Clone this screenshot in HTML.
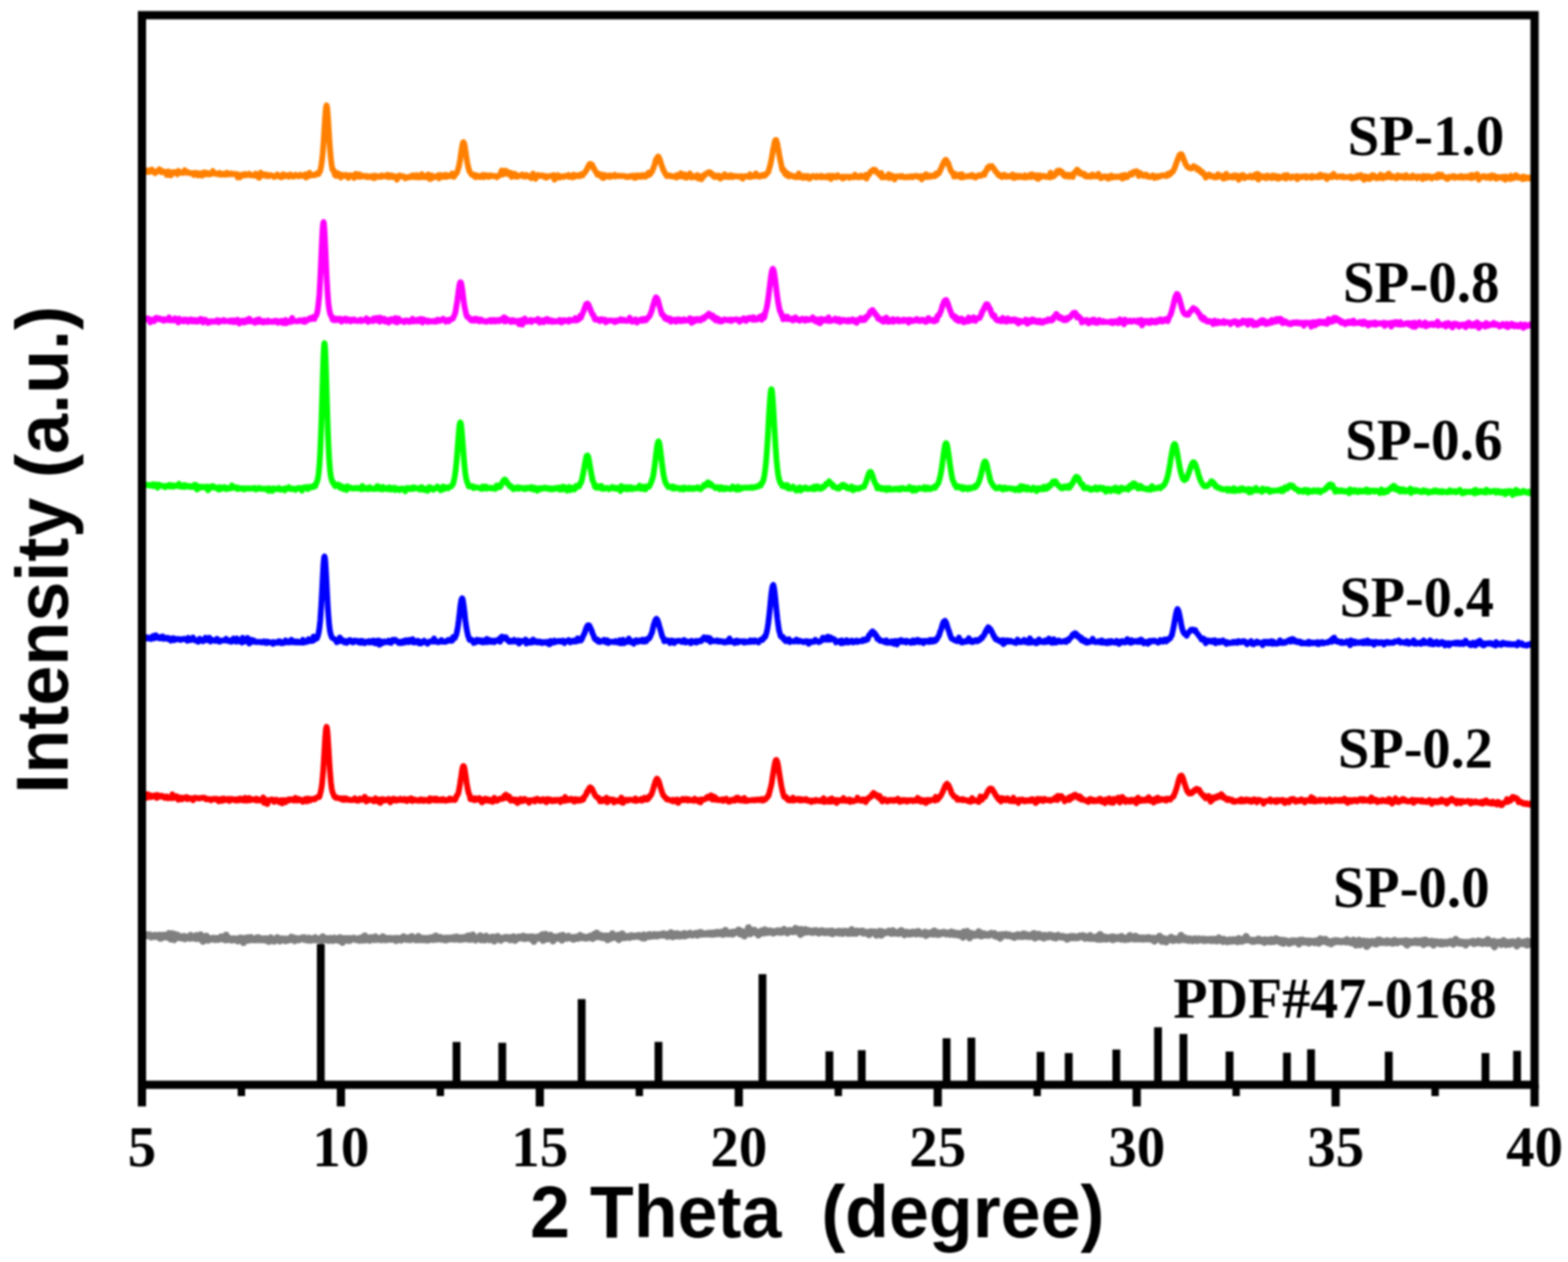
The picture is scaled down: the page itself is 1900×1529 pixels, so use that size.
<!DOCTYPE html>
<html><head><meta charset="utf-8"><title>XRD patterns</title>
<style>html,body{margin:0;padding:0;background:#fff;width:1900px;height:1529px;overflow:hidden}svg{display:block}#w{filter:blur(1px)}</style>
</head><body><div id="w">
<svg width="1900" height="1529" viewBox="0 0 1900 1529">
<rect width="1900" height="1529" fill="#fff"/>
<polyline fill="none" stroke="#ff8000" stroke-width="7" stroke-linejoin="round" stroke-linecap="round" points="174.0,206.3 175.0,207.6 176.0,206.3 177.0,207.3 178.0,208.2 179.0,206.4 180.0,208.3 181.0,206.8 182.0,206.3 183.0,207.9 184.0,205.3 185.0,207.4 186.0,207.2 187.0,208.7 188.0,209.9 189.0,207.9 190.0,208.1 191.0,207.8 192.0,207.7 193.0,205.1 194.0,206.5 195.0,206.3 196.0,208.8 197.0,208.4 198.0,207.7 199.0,208.0 200.0,208.2 201.0,208.4 202.0,212.0 203.0,209.3 204.0,207.6 205.0,208.1 206.0,212.4 207.0,212.5 208.0,209.1 209.0,208.7 210.0,208.5 211.0,208.6 212.0,209.8 213.0,208.8 214.0,209.3 215.0,211.2 216.0,207.0 217.0,209.5 218.0,209.3 219.0,208.7 220.0,209.3 221.0,208.6 222.0,209.6 223.0,209.0 224.0,206.2 225.0,208.8 226.0,209.3 227.0,208.6 228.0,208.4 229.0,209.5 230.0,210.1 231.0,210.1 232.0,210.0 233.0,209.8 234.0,210.4 235.0,212.1 236.0,209.3 237.0,209.6 238.0,210.9 239.0,209.7 240.0,212.7 241.0,210.1 242.0,211.0 243.0,210.1 244.0,211.5 245.0,212.8 246.0,210.0 247.0,208.9 248.0,209.5 249.0,211.2 250.0,209.1 251.0,211.0 252.0,209.8 253.0,209.9 254.0,211.4 255.0,211.0 256.0,210.4 257.0,209.8 258.0,207.2 259.0,209.3 260.0,210.4 261.0,209.8 262.0,210.7 263.0,210.9 264.0,210.9 265.0,211.3 266.0,209.3 267.0,211.5 268.0,211.2 269.0,211.7 270.0,211.5 271.0,210.5 272.0,211.6 273.0,211.8 274.0,210.6 275.0,209.3 276.0,210.6 277.0,211.4 278.0,210.6 279.0,210.6 280.0,210.1 281.0,211.2 282.0,211.1 283.0,210.8 284.0,210.4 285.0,211.0 286.0,211.5 287.0,210.9 288.0,215.0 289.0,211.5 290.0,211.9 291.0,214.9 292.0,212.2 293.0,211.8 294.0,212.6 295.0,211.4 296.0,212.5 297.0,210.8 298.0,212.4 299.0,211.4 300.0,212.0 301.0,211.9 302.0,210.5 303.0,212.0 304.0,212.4 305.0,212.0 306.0,212.4 307.0,211.9 308.0,212.7 309.0,212.5 310.0,210.5 311.0,213.5 312.0,211.7 313.0,212.6 314.0,215.5 315.0,211.7 316.0,209.2 317.0,213.0 318.0,212.1 319.0,211.7 320.0,212.0 321.0,211.3 322.0,213.1 323.0,211.7 324.0,213.1 325.0,212.3 326.0,213.4 327.0,211.9 328.0,212.1 329.0,212.6 330.0,212.9 331.0,212.9 332.0,214.5 333.0,213.4 334.0,213.2 335.0,213.2 336.0,211.3 337.0,213.4 338.0,213.0 339.0,214.0 340.0,214.7 341.0,214.9 342.0,213.4 343.0,211.1 344.0,213.7 345.0,213.1 346.0,212.2 347.0,213.1 348.0,212.2 349.0,212.2 350.0,214.2 351.0,213.2 352.0,211.5 353.0,212.7 354.0,213.3 355.0,214.0 356.0,214.0 357.0,212.5 358.0,211.7 359.0,212.0 360.0,213.1 361.0,213.3 362.0,213.6 363.0,213.4 364.0,211.8 365.0,212.6 366.0,213.0 367.0,212.6 368.0,213.2 369.0,212.2 370.0,211.2 371.0,215.1 372.0,212.5 373.0,212.7 374.0,213.3 375.0,209.2 376.0,212.5 377.0,212.3 378.0,212.6 379.0,212.3 380.0,211.7 381.0,212.2 382.0,212.1 383.0,211.4 384.0,209.7 385.0,209.7 386.0,210.8 387.0,209.1 388.0,206.9 389.0,202.5 390.0,196.1 391.0,186.4 391.7,177.7 392.0,173.7 392.2,170.6 392.7,162.5 393.0,157.8 393.2,154.8 393.7,146.4 394.0,141.8 394.2,139.0 394.7,133.1 395.0,130.4 395.2,129.1 395.7,127.7 396.0,128.1 396.2,128.9 396.7,133.2 397.0,136.5 397.2,139.0 397.7,146.2 398.0,151.1 398.2,154.6 398.7,162.5 399.0,167.7 399.2,170.6 399.7,177.8 400.0,182.0 401.0,192.9 402.0,200.9 403.0,205.7 404.0,205.8 405.0,208.9 406.0,212.3 407.0,213.1 408.0,209.8 409.0,209.5 410.0,212.2 411.0,213.2 412.0,211.8 413.0,215.1 414.0,211.5 415.0,213.5 416.0,213.0 417.0,212.4 418.0,212.1 419.0,211.8 420.0,213.7 421.0,214.3 422.0,215.5 423.0,212.6 424.0,212.7 425.0,212.3 426.0,212.8 427.0,213.5 428.0,213.8 429.0,215.5 430.0,211.5 431.0,210.7 432.0,213.3 433.0,212.8 434.0,214.1 435.0,211.1 436.0,212.0 437.0,214.2 438.0,212.4 439.0,213.2 440.0,213.8 441.0,213.0 442.0,213.2 443.0,214.0 444.0,214.6 445.0,213.1 446.0,214.5 447.0,214.0 448.0,214.7 449.0,213.5 450.0,213.4 451.0,213.4 452.0,213.1 453.0,216.0 454.0,212.9 455.0,215.3 456.0,213.1 457.0,213.5 458.0,214.3 459.0,214.2 460.0,213.4 461.0,213.2 462.0,214.3 463.0,212.5 464.0,213.2 465.0,213.3 466.0,213.6 467.0,213.7 468.0,213.9 469.0,211.9 470.0,213.0 471.0,214.7 472.0,212.2 473.0,212.6 474.0,214.2 475.0,212.7 476.0,214.4 477.0,213.4 478.0,214.6 479.0,213.6 480.0,214.2 481.0,217.7 482.0,214.3 483.0,214.7 484.0,212.5 485.0,212.7 486.0,213.7 487.0,213.5 488.0,214.1 489.0,213.6 490.0,214.2 491.0,216.1 492.0,215.9 493.0,214.9 494.0,215.3 495.0,214.8 496.0,214.0 497.0,214.1 498.0,214.6 499.0,212.9 500.0,214.0 501.0,212.4 502.0,214.8 503.0,214.8 504.0,213.5 505.0,212.2 506.0,214.9 507.0,215.1 508.0,214.7 509.0,214.7 510.0,214.8 511.0,211.0 512.0,212.4 513.0,214.5 514.0,213.3 515.0,214.3 516.0,213.2 517.0,214.9 518.0,213.0 519.0,211.5 520.0,213.1 521.0,217.0 522.0,212.5 523.0,216.2 524.0,212.9 525.0,214.1 526.0,214.7 527.0,214.4 528.0,213.8 529.0,214.3 530.0,213.4 531.0,212.1 532.0,216.1 533.0,213.5 534.0,212.1 535.0,214.3 536.0,212.5 537.0,214.4 538.0,214.2 539.0,213.0 540.0,211.6 541.0,214.4 542.0,212.7 543.0,212.8 544.0,212.9 545.0,213.5 546.0,213.3 547.0,212.2 548.0,210.1 549.0,212.0 550.0,214.2 551.0,212.2 552.0,211.4 553.0,209.8 554.0,208.5 555.0,205.1 556.0,201.8 557.0,196.5 557.6,193.7 558.0,190.2 558.1,189.9 558.6,186.0 559.0,183.3 559.1,182.5 559.6,179.5 560.0,177.0 560.1,176.6 560.6,174.1 561.0,172.9 561.1,172.6 561.6,172.2 562.0,172.7 562.1,172.7 562.6,174.4 563.0,176.0 563.1,176.4 563.6,179.7 564.0,182.1 564.1,182.6 564.6,186.3 565.0,188.8 565.1,189.7 565.6,192.8 566.0,195.8 567.0,200.9 568.0,204.8 569.0,208.1 570.0,209.0 571.0,211.0 572.0,211.9 573.0,211.9 574.0,213.1 575.0,211.8 576.0,214.7 577.0,213.4 578.0,212.6 579.0,213.2 580.0,214.2 581.0,213.4 582.0,214.5 583.0,213.6 584.0,212.6 585.0,211.9 586.0,214.7 587.0,213.1 588.0,212.3 589.0,213.6 590.0,212.4 591.0,213.1 592.0,214.4 593.0,213.7 594.0,212.2 595.0,212.5 596.0,213.6 597.0,213.4 598.0,213.0 599.0,213.4 600.0,213.2 601.0,213.8 602.0,214.7 603.0,213.7 604.0,213.4 605.0,212.1 606.0,212.3 607.0,209.1 608.0,206.6 608.6,208.5 609.0,211.4 609.1,209.4 609.6,211.4 610.0,209.3 610.1,210.9 610.6,208.2 611.0,208.2 611.1,209.7 611.6,208.4 612.0,207.6 612.1,209.3 612.6,206.7 613.0,206.9 613.1,209.0 613.6,208.6 614.0,208.3 614.1,207.7 614.6,210.2 615.0,209.8 615.1,210.4 615.6,209.6 616.0,211.3 616.1,210.0 616.6,208.9 617.0,211.4 618.0,211.4 619.0,209.4 620.0,214.3 621.0,212.0 622.0,213.5 623.0,213.3 624.0,210.5 625.0,214.0 626.0,213.4 627.0,214.1 628.0,212.8 629.0,212.8 630.0,212.7 631.0,212.3 632.0,213.2 633.0,211.4 634.0,213.0 635.0,213.8 636.0,214.2 637.0,213.5 638.0,211.9 639.0,212.7 640.0,213.3 641.0,214.3 642.0,213.5 643.0,213.6 644.0,215.8 645.0,212.1 646.0,210.3 647.0,212.4 648.0,212.9 649.0,216.6 650.0,213.9 651.0,213.6 652.0,212.0 653.0,212.6 654.0,213.3 655.0,212.8 656.0,212.5 657.0,212.2 658.0,213.6 659.0,214.2 660.0,214.3 661.0,213.3 662.0,215.4 663.0,213.8 664.0,214.0 665.0,213.5 666.0,213.4 667.0,213.3 668.0,212.8 669.0,213.4 670.0,214.2 671.0,212.2 672.0,217.7 673.0,214.6 674.0,213.3 675.0,214.7 676.0,212.2 677.0,213.8 678.0,215.2 679.0,213.7 680.0,214.2 681.0,213.5 682.0,214.2 683.0,214.5 684.0,213.3 685.0,213.1 686.0,213.5 687.0,213.3 688.0,213.4 689.0,211.9 690.0,214.4 691.0,213.0 692.0,213.6 693.0,213.4 694.0,214.8 695.0,211.7 696.0,213.6 697.0,214.0 698.0,212.3 699.0,212.5 700.0,213.0 701.0,213.1 702.0,213.6 703.0,211.7 704.0,212.3 705.0,210.9 706.0,212.6 707.0,210.4 708.0,209.8 709.0,208.8 710.0,207.0 711.0,205.2 711.4,204.8 711.9,203.7 712.0,203.1 712.4,202.4 712.9,201.5 713.0,201.5 713.4,200.8 713.9,199.4 714.0,199.7 714.4,198.7 714.9,198.8 715.0,198.6 715.4,198.6 715.9,198.8 716.0,199.0 716.4,199.0 716.9,199.5 717.0,200.9 717.4,200.4 717.9,200.2 718.0,200.7 718.4,201.8 718.9,202.9 719.0,202.8 719.4,204.2 720.0,204.4 721.0,206.6 722.0,208.3 723.0,209.5 724.0,211.7 725.0,210.3 726.0,212.6 727.0,212.6 728.0,211.3 729.0,214.5 730.0,213.1 731.0,215.8 732.0,211.7 733.0,214.7 734.0,213.3 735.0,213.3 736.0,212.9 737.0,213.6 738.0,212.7 739.0,214.4 740.0,212.7 741.0,213.7 742.0,212.9 743.0,212.8 744.0,213.3 745.0,211.8 746.0,213.9 747.0,213.0 748.0,213.3 749.0,213.2 750.0,212.7 751.0,213.5 752.0,213.2 753.0,212.9 754.0,213.3 755.0,213.0 756.0,213.1 757.0,213.3 758.0,214.4 759.0,214.4 760.0,213.8 761.0,214.5 762.0,214.3 763.0,213.3 764.0,214.0 765.0,213.2 766.0,213.0 767.0,212.8 768.0,214.9 769.0,215.6 770.0,212.8 771.0,214.1 772.0,214.6 773.0,212.5 774.0,214.1 775.0,213.6 776.0,213.4 777.0,214.4 778.0,212.1 779.0,212.6 780.0,213.6 781.0,212.3 782.0,214.1 783.0,211.8 784.0,213.0 785.0,211.9 786.0,209.2 787.0,211.7 788.0,210.7 789.0,209.3 790.0,207.8 791.0,205.5 792.0,202.9 793.0,200.2 793.3,199.5 793.8,196.9 794.0,197.0 794.3,195.1 794.8,193.5 795.0,193.4 795.3,192.8 795.8,192.0 796.0,192.0 796.3,191.2 796.8,190.2 797.0,189.9 797.3,190.5 797.8,189.7 798.0,189.9 798.3,191.1 798.8,191.4 799.0,192.3 799.3,192.7 799.8,194.0 800.0,194.7 800.3,195.7 800.8,197.3 801.0,198.2 801.3,198.8 802.0,201.1 803.0,203.8 804.0,206.4 805.0,208.0 806.0,210.5 807.0,211.4 808.0,213.4 809.0,212.7 810.0,212.3 811.0,213.0 812.0,213.4 813.0,212.8 814.0,213.5 815.0,213.8 816.0,214.1 817.0,213.5 818.0,214.4 819.0,212.7 820.0,215.0 821.0,212.0 822.0,213.8 823.0,213.3 824.0,213.4 825.0,209.9 826.0,213.7 827.0,211.2 828.0,214.1 829.0,213.4 830.0,211.3 831.0,215.3 832.0,215.3 833.0,214.2 834.0,212.7 835.0,213.9 836.0,210.1 837.0,213.6 838.0,215.1 839.0,214.0 840.0,213.3 841.0,214.5 842.0,214.1 843.0,213.7 844.0,215.0 845.0,212.0 846.0,213.1 847.0,216.4 848.0,213.8 849.0,213.3 850.0,217.2 851.0,215.3 852.0,214.0 853.0,213.5 854.0,211.2 855.0,211.3 855.5,211.1 856.0,210.2 856.5,209.8 857.0,210.0 857.5,209.8 858.0,209.4 858.5,209.3 859.0,208.8 859.5,209.4 860.0,209.2 860.5,208.9 861.0,210.4 861.5,211.0 862.0,209.9 862.5,211.5 863.0,210.7 864.0,213.1 865.0,212.3 866.0,214.6 867.0,212.9 868.0,212.7 869.0,213.5 870.0,214.6 871.0,212.7 872.0,213.1 873.0,216.5 874.0,213.8 875.0,213.7 876.0,214.6 877.0,214.4 878.0,211.2 879.0,213.3 880.0,214.4 881.0,212.9 882.0,212.9 883.0,213.2 884.0,214.5 885.0,212.2 886.0,212.5 887.0,212.6 888.0,214.7 889.0,214.1 890.0,213.8 891.0,213.5 892.0,213.3 893.0,213.5 894.0,214.1 895.0,214.2 896.0,214.0 897.0,213.7 898.0,213.2 899.0,213.8 900.0,216.4 901.0,213.9 902.0,213.6 903.0,213.4 904.0,213.6 905.0,213.3 906.0,213.7 907.0,214.5 908.0,214.1 909.0,211.2 910.0,214.4 911.0,213.9 912.0,213.8 913.0,213.1 914.0,213.5 915.0,212.0 916.0,210.1 917.0,213.5 918.0,212.9 919.0,212.9 920.0,214.2 921.0,213.9 922.0,212.4 923.0,212.3 924.0,213.1 925.0,212.0 926.0,211.5 927.0,212.8 928.0,211.2 929.0,210.7 930.0,209.0 931.0,208.4 932.0,204.7 933.0,201.3 934.0,197.1 935.0,191.9 936.0,186.2 936.5,183.4 937.0,179.9 937.5,177.7 938.0,175.1 938.5,172.5 939.0,171.1 939.5,169.9 940.0,169.5 940.5,169.5 941.0,171.0 941.5,172.7 942.0,174.5 942.5,177.9 943.0,180.2 943.5,183.0 944.0,186.2 945.0,191.8 946.0,196.3 947.0,200.9 948.0,205.7 949.0,206.8 950.0,206.0 951.0,210.5 952.0,210.5 953.0,212.4 954.0,209.7 955.0,211.6 956.0,213.9 957.0,212.0 958.0,212.0 959.0,213.0 960.0,213.6 961.0,213.2 962.0,214.2 963.0,213.8 964.0,214.7 965.0,213.9 966.0,212.7 967.0,214.5 968.0,210.1 969.0,212.7 970.0,214.7 971.0,213.1 972.0,213.4 973.0,215.5 974.0,213.1 975.0,213.8 976.0,215.0 977.0,213.8 978.0,213.1 979.0,215.6 980.0,213.7 981.0,216.5 982.0,215.3 983.0,214.7 984.0,214.0 985.0,213.2 986.0,214.1 987.0,213.9 988.0,214.6 989.0,214.9 990.0,213.1 991.0,214.3 992.0,214.5 993.0,213.9 994.0,214.4 995.0,213.0 996.0,214.8 997.0,213.5 998.0,214.0 999.0,214.7 1000.0,214.8 1001.0,214.0 1002.0,215.1 1003.0,215.1 1004.0,213.0 1005.0,214.1 1006.0,213.2 1007.0,216.8 1008.0,213.6 1009.0,213.0 1010.0,214.3 1011.0,213.8 1012.0,213.7 1013.0,215.0 1014.0,214.6 1015.0,212.3 1016.0,213.5 1017.0,213.9 1018.0,214.5 1019.0,214.7 1020.0,214.8 1021.0,216.2 1022.0,213.8 1023.0,215.6 1024.0,214.6 1025.0,214.4 1026.0,213.9 1027.0,214.1 1028.0,213.9 1029.0,215.5 1030.0,215.0 1031.0,214.0 1032.0,214.5 1033.0,214.6 1034.0,214.8 1035.0,214.8 1036.0,211.5 1037.0,213.9 1038.0,214.5 1039.0,214.3 1040.0,213.8 1041.0,214.8 1042.0,213.9 1043.0,212.7 1044.0,213.0 1045.0,214.5 1046.0,214.1 1047.0,213.2 1048.0,213.9 1049.0,212.0 1050.0,216.4 1051.0,211.8 1052.0,212.8 1053.0,211.3 1054.0,209.7 1055.0,207.9 1055.5,208.5 1056.0,207.6 1056.5,207.0 1057.0,207.0 1057.5,206.2 1058.0,205.7 1058.5,206.4 1059.0,205.6 1059.5,205.8 1060.0,206.1 1060.5,206.8 1061.0,206.2 1061.5,208.1 1062.0,208.4 1062.5,209.0 1063.0,209.0 1064.0,209.4 1065.0,210.9 1066.0,212.5 1067.0,213.2 1068.0,209.7 1069.0,215.0 1070.0,213.0 1071.0,214.4 1072.0,214.7 1073.0,214.6 1074.0,214.8 1075.0,214.7 1076.0,213.7 1077.0,211.0 1078.0,215.8 1079.0,214.5 1080.0,214.5 1081.0,212.6 1082.0,213.8 1083.0,214.0 1084.0,217.5 1085.0,215.1 1086.0,213.6 1087.0,213.8 1088.0,213.8 1089.0,213.5 1090.0,213.6 1091.0,214.5 1092.0,214.2 1093.0,213.1 1094.0,214.5 1095.0,214.8 1096.0,214.3 1097.0,214.9 1098.0,214.2 1099.0,214.2 1100.0,214.1 1101.0,214.8 1102.0,213.9 1103.0,213.8 1104.0,213.5 1105.0,214.7 1106.0,214.8 1107.0,213.5 1108.0,213.7 1109.0,213.5 1110.0,213.0 1111.0,213.0 1112.0,214.2 1113.0,214.6 1114.0,213.7 1115.0,213.7 1116.0,213.3 1117.0,217.4 1118.0,213.9 1119.0,213.1 1120.0,214.4 1121.0,214.5 1122.0,211.0 1123.0,211.7 1124.0,214.6 1125.0,213.9 1126.0,213.1 1127.0,212.7 1128.0,214.0 1129.0,212.8 1130.0,213.4 1131.0,212.9 1132.0,213.5 1133.0,213.5 1134.0,210.3 1135.0,212.2 1136.0,209.9 1137.0,210.5 1138.0,209.5 1139.0,207.0 1140.0,204.8 1141.0,202.7 1141.8,200.2 1142.0,200.0 1142.3,200.3 1142.8,198.2 1143.0,197.9 1143.3,197.5 1143.8,196.1 1144.0,196.2 1144.3,195.5 1144.8,194.9 1145.0,194.3 1145.3,194.1 1145.8,193.6 1146.0,194.4 1146.3,193.7 1146.8,194.6 1147.0,195.1 1147.3,195.1 1147.8,195.7 1148.0,196.7 1148.3,197.0 1148.8,198.6 1149.0,198.6 1149.3,198.3 1149.8,200.5 1150.0,201.1 1151.0,203.7 1152.0,206.7 1153.0,207.8 1154.0,209.6 1155.0,209.7 1156.0,214.0 1157.0,210.3 1158.0,212.6 1159.0,211.8 1160.0,213.5 1161.0,212.9 1162.0,212.8 1163.0,211.5 1164.0,214.8 1165.0,213.3 1166.0,211.1 1167.0,215.0 1168.0,214.3 1169.0,214.2 1170.0,213.9 1171.0,213.8 1172.0,213.3 1173.0,213.9 1174.0,213.7 1175.0,212.9 1176.0,213.5 1177.0,213.5 1178.0,211.8 1179.0,214.0 1180.0,213.3 1181.0,213.3 1182.0,215.2 1183.0,213.4 1184.0,213.4 1185.0,213.5 1186.0,212.1 1187.0,212.5 1188.0,213.2 1189.0,212.6 1190.0,211.7 1191.0,210.9 1192.0,212.0 1193.0,211.8 1194.0,207.7 1195.0,207.0 1196.0,206.1 1196.5,203.2 1197.0,204.3 1197.5,202.9 1198.0,202.7 1198.5,202.8 1199.0,201.4 1199.5,201.7 1200.0,202.0 1200.5,201.6 1201.0,201.5 1201.5,201.7 1202.0,201.3 1202.5,203.3 1203.0,202.8 1203.5,204.1 1204.0,204.4 1204.5,204.6 1205.0,205.3 1206.0,207.0 1207.0,208.6 1208.0,209.1 1209.0,210.5 1210.0,212.4 1211.0,212.6 1212.0,213.5 1213.0,212.5 1214.0,214.5 1215.0,212.6 1216.0,212.9 1217.0,211.8 1218.0,212.8 1219.0,214.3 1220.0,214.0 1221.0,214.1 1222.0,213.1 1223.0,213.6 1224.0,213.8 1225.0,214.2 1226.0,214.4 1227.0,211.3 1228.0,212.4 1229.0,215.6 1230.0,214.0 1231.0,213.6 1232.0,212.8 1233.0,214.1 1234.0,214.8 1235.0,214.3 1236.0,213.0 1237.0,214.1 1238.0,214.5 1239.0,214.7 1240.0,213.8 1241.0,214.8 1242.0,212.5 1243.0,213.2 1244.0,214.9 1245.0,214.4 1246.0,213.6 1247.0,213.9 1248.0,212.0 1249.0,214.7 1250.0,214.2 1251.0,211.2 1252.0,213.8 1253.0,213.8 1254.0,213.9 1255.0,215.3 1256.0,212.3 1257.0,214.0 1258.0,216.8 1259.0,214.2 1260.0,212.3 1261.0,214.9 1262.0,213.1 1263.0,213.6 1264.0,213.0 1265.0,213.0 1266.0,213.9 1267.0,214.3 1268.0,214.4 1269.0,213.7 1270.0,213.6 1271.0,212.5 1272.0,214.9 1273.0,209.2 1274.0,214.6 1275.0,211.9 1276.0,211.9 1277.0,213.6 1278.0,211.9 1279.0,210.2 1279.7,211.1 1280.0,209.9 1280.2,209.1 1280.7,207.4 1281.0,208.7 1281.2,209.0 1281.7,209.3 1282.0,209.1 1282.2,206.8 1282.7,208.9 1283.0,208.1 1283.2,208.0 1283.7,208.3 1284.0,206.5 1284.2,207.7 1284.7,208.2 1285.0,207.8 1285.2,208.2 1285.7,207.7 1286.0,208.7 1286.2,207.7 1286.7,209.7 1287.0,208.3 1287.2,209.7 1287.7,210.1 1288.0,209.8 1289.0,212.6 1290.0,211.2 1291.0,213.6 1292.0,212.7 1293.0,213.2 1294.0,211.6 1295.0,214.2 1296.0,212.1 1297.0,211.8 1298.0,212.2 1299.0,211.8 1300.0,214.5 1301.0,210.6 1301.8,209.3 1302.0,209.6 1302.3,209.3 1302.8,209.1 1303.0,208.0 1303.3,207.9 1303.8,207.2 1304.0,208.0 1304.3,206.9 1304.8,207.3 1305.0,208.4 1305.3,205.5 1305.8,206.7 1306.0,206.7 1306.3,206.2 1306.8,208.3 1307.0,207.3 1307.3,207.7 1307.8,209.7 1308.0,208.2 1308.3,209.2 1308.8,208.3 1309.0,210.4 1309.3,209.5 1309.8,209.3 1310.0,209.4 1311.0,210.9 1312.0,211.3 1313.0,211.9 1314.0,210.6 1315.0,213.5 1316.0,212.7 1317.0,214.0 1318.0,214.1 1319.0,213.2 1320.0,212.8 1321.0,213.7 1322.0,214.3 1323.0,213.3 1324.0,211.3 1325.0,213.4 1326.0,213.6 1327.0,213.7 1328.0,212.9 1329.0,213.7 1330.0,213.4 1331.0,210.6 1332.0,213.7 1333.0,213.4 1334.0,215.9 1335.0,214.0 1336.0,214.8 1337.0,214.7 1338.0,213.6 1339.0,213.4 1340.0,215.1 1341.0,214.7 1342.0,215.0 1343.0,216.5 1344.0,213.6 1345.0,214.3 1346.0,215.0 1347.0,212.7 1348.0,215.2 1349.0,213.9 1350.0,214.5 1351.0,214.1 1352.0,213.8 1353.0,214.7 1354.0,214.5 1355.0,213.7 1356.0,214.1 1357.0,214.5 1358.0,213.4 1359.0,212.8 1360.0,216.3 1361.0,213.9 1362.0,215.5 1363.0,211.9 1364.0,213.7 1365.0,212.7 1366.0,214.7 1367.0,212.3 1368.0,212.1 1369.0,211.4 1370.0,209.9 1371.0,211.1 1371.8,210.3 1372.0,211.6 1372.3,209.4 1372.8,209.7 1373.0,209.4 1373.3,208.7 1373.8,209.1 1374.0,208.8 1374.3,208.3 1374.8,208.9 1375.0,208.7 1375.3,208.2 1375.8,208.3 1376.0,207.9 1376.3,208.1 1376.8,208.7 1377.0,208.5 1377.3,207.3 1377.8,209.3 1378.0,209.0 1378.3,208.7 1378.8,208.4 1379.0,210.0 1379.3,210.1 1379.8,213.3 1380.0,210.3 1381.0,210.8 1382.0,209.9 1383.0,211.7 1384.0,212.0 1385.0,212.8 1386.0,213.3 1387.0,212.7 1388.0,211.4 1389.0,212.7 1390.0,212.2 1391.0,214.3 1392.0,214.1 1393.0,213.9 1394.0,214.4 1395.0,214.1 1396.0,214.3 1397.0,212.4 1398.0,213.8 1399.0,215.7 1400.0,214.0 1401.0,213.9 1402.0,213.4 1403.0,214.7 1404.0,213.3 1405.0,213.2 1406.0,213.8 1407.0,213.2 1408.0,212.5 1409.0,212.3 1410.0,212.5 1411.0,212.4 1412.0,213.2 1413.0,213.0 1414.0,213.2 1415.0,210.7 1416.0,211.6 1417.0,211.8 1418.0,211.1 1419.0,208.7 1420.0,208.8 1421.0,208.2 1422.0,206.1 1423.0,204.4 1424.0,201.9 1425.0,198.7 1426.0,196.0 1426.5,194.5 1427.0,193.2 1427.5,192.0 1428.0,191.0 1428.5,189.4 1429.0,188.4 1429.5,187.4 1430.0,186.9 1430.5,187.0 1431.0,186.7 1431.5,186.7 1432.0,188.2 1432.5,188.0 1433.0,189.7 1433.5,190.9 1434.0,192.8 1434.5,193.2 1435.0,194.9 1436.0,197.3 1437.0,199.4 1438.0,201.1 1439.0,202.5 1440.0,202.6 1441.0,203.7 1442.0,204.0 1443.0,204.1 1444.0,204.2 1444.5,203.3 1445.0,203.0 1445.5,202.6 1446.0,202.9 1446.5,201.2 1447.0,203.0 1447.5,202.5 1448.0,202.9 1448.5,202.9 1449.0,202.6 1449.5,202.9 1450.0,203.7 1450.5,203.6 1451.0,205.7 1451.5,205.0 1452.0,204.8 1453.0,204.9 1454.0,207.4 1455.0,208.4 1456.0,209.4 1457.0,208.3 1458.0,210.6 1459.0,211.5 1460.0,211.3 1461.0,215.3 1462.0,213.1 1463.0,212.7 1464.0,212.2 1465.0,211.4 1466.0,211.9 1467.0,213.7 1468.0,213.3 1469.0,213.1 1470.0,214.2 1471.0,213.9 1472.0,215.1 1473.0,214.1 1474.0,213.8 1475.0,214.6 1476.0,211.1 1477.0,213.0 1478.0,213.2 1479.0,213.5 1480.0,214.3 1481.0,213.0 1482.0,216.3 1483.0,216.5 1484.0,214.4 1485.0,214.1 1486.0,210.5 1487.0,215.3 1488.0,213.8 1489.0,213.7 1490.0,214.6 1491.0,213.9 1492.0,213.4 1493.0,215.0 1494.0,212.9 1495.0,215.1 1496.0,213.1 1497.0,212.3 1498.0,213.3 1499.0,214.9 1500.0,213.9 1501.0,217.8 1502.0,213.1 1503.0,213.1 1504.0,215.3 1505.0,214.2 1506.0,211.9 1507.0,214.8 1508.0,215.8 1509.0,213.7 1510.0,214.2 1511.0,214.5 1512.0,214.5 1513.0,214.4 1514.0,214.4 1515.0,212.9 1516.0,214.3 1517.0,215.1 1518.0,213.1 1519.0,212.8 1520.0,214.2 1521.0,211.6 1522.0,213.9 1523.0,215.7 1524.0,210.6 1525.0,217.5 1526.0,213.6 1527.0,212.7 1528.0,214.2 1529.0,213.8 1530.0,214.9 1531.0,213.7 1532.0,213.6 1533.0,214.2 1534.0,215.9 1535.0,214.8 1536.0,212.7 1537.0,215.1 1538.0,214.5 1539.0,214.2 1540.0,214.0 1541.0,215.8 1542.0,212.5 1543.0,213.3 1544.0,212.9 1545.0,215.5 1546.0,214.7 1547.0,213.4 1548.0,214.1 1549.0,216.6 1550.0,213.9 1551.0,215.3 1552.0,215.5 1553.0,214.9 1554.0,215.0 1555.0,214.3 1556.0,212.5 1557.0,215.5 1558.0,216.4 1559.0,214.7 1560.0,212.2 1561.0,213.9 1562.0,214.0 1563.0,214.7 1564.0,215.7 1565.0,215.1 1566.0,213.9 1567.0,214.9 1568.0,214.0 1569.0,214.7 1570.0,214.1 1571.0,213.5 1572.0,217.1 1573.0,214.0 1574.0,213.7 1575.0,215.1 1576.0,214.4 1577.0,213.8 1578.0,214.7 1579.0,213.8 1580.0,213.4 1581.0,213.8 1582.0,213.4 1583.0,215.4 1584.0,213.7 1585.0,214.5 1586.0,214.6 1587.0,214.1 1588.0,214.4 1589.0,215.5 1590.0,213.1 1591.0,215.0 1592.0,213.9 1593.0,213.9 1594.0,214.3 1595.0,214.2 1596.0,214.8 1597.0,213.2 1598.0,212.7 1599.0,214.6 1600.0,211.5 1601.0,212.9 1602.0,214.0 1603.0,212.9 1604.0,213.4 1605.0,214.3 1606.0,212.9 1607.0,213.5 1608.0,216.9 1609.0,215.1 1610.0,215.0 1611.0,214.3 1612.0,213.1 1613.0,214.0 1614.0,214.8 1615.0,214.2 1616.0,210.7 1617.0,212.2 1618.0,214.0 1619.0,213.8 1620.0,214.8 1621.0,214.3 1622.0,214.2 1623.0,213.5 1624.0,213.8 1625.0,214.0 1626.0,214.7 1627.0,213.5 1628.0,215.0 1629.0,214.7 1630.0,214.7 1631.0,214.4 1632.0,214.8 1633.0,214.6 1634.0,214.5 1635.0,214.5 1636.0,213.8 1637.0,215.9 1638.0,214.2 1639.0,216.0 1640.0,214.8 1641.0,214.3 1642.0,214.9 1643.0,215.3 1644.0,215.0 1645.0,212.9 1646.0,213.6 1647.0,213.8 1648.0,214.6 1649.0,212.1 1650.0,214.4 1651.0,214.6 1652.0,216.5 1653.0,217.8 1654.0,213.5 1655.0,214.7 1656.0,214.2 1657.0,214.3 1658.0,216.5 1659.0,214.4 1660.0,216.8 1661.0,214.7 1662.0,212.9 1663.0,212.2 1664.0,215.0 1665.0,212.6 1666.0,214.4 1667.0,214.5 1668.0,216.1 1669.0,214.9 1670.0,214.2 1671.0,215.6 1672.0,214.0 1673.0,211.7 1674.0,215.4 1675.0,212.7 1676.0,216.1 1677.0,214.4 1678.0,214.6 1679.0,214.8 1680.0,212.5 1681.0,214.8 1682.0,213.3 1683.0,210.3 1684.0,214.3 1685.0,215.0 1686.0,213.6 1687.0,214.9 1688.0,213.5 1689.0,214.8 1690.0,214.5 1691.0,215.3 1692.0,216.2 1693.0,214.8 1694.0,212.4 1695.0,214.7 1696.0,213.7 1697.0,214.1 1698.0,214.8 1699.0,213.1 1700.0,214.1 1701.0,214.8 1702.0,215.6 1703.0,213.9 1704.0,212.2 1705.0,214.5 1706.0,214.5 1707.0,215.5 1708.0,215.2 1709.0,214.3 1710.0,215.1 1711.0,215.5 1712.0,212.5 1713.0,213.6 1714.0,213.7 1715.0,213.9 1716.0,214.1 1717.0,216.0 1718.0,213.9 1719.0,214.6 1720.0,213.8 1721.0,214.9 1722.0,214.5 1723.0,214.1 1724.0,217.0 1725.0,213.0 1726.0,215.5 1727.0,213.5 1728.0,213.6 1729.0,215.6 1730.0,214.5 1731.0,213.4 1732.0,213.8 1733.0,214.0 1734.0,214.5 1735.0,216.3 1736.0,214.3 1737.0,214.5 1738.0,213.8 1739.0,214.3 1740.0,213.2 1741.0,215.4 1742.0,214.4 1743.0,211.4 1744.0,214.7 1745.0,214.4 1746.0,213.4 1747.0,211.7 1748.0,213.6 1749.0,214.0 1750.0,214.5 1751.0,215.3 1752.0,215.9 1753.0,214.9 1754.0,216.9 1755.0,216.2 1756.0,214.2 1757.0,214.0 1758.0,214.6 1759.0,214.8 1760.0,214.2 1761.0,213.2 1762.0,214.1 1763.0,215.5 1764.0,214.2 1765.0,214.7 1766.0,214.3 1767.0,214.4 1768.0,215.0 1769.0,213.6 1770.0,215.0 1771.0,213.2 1772.0,214.8 1773.0,215.5 1774.0,214.4 1775.0,214.3 1776.0,213.7 1777.0,214.9 1778.0,214.1 1779.0,213.7 1780.0,215.1 1781.0,212.8 1782.0,212.3 1783.0,215.9 1784.0,212.0 1785.0,215.2 1786.0,215.1 1787.0,214.3 1788.0,213.9 1789.0,213.6 1790.0,211.1 1791.0,214.6 1792.0,217.6 1793.0,214.9 1794.0,215.4 1795.0,214.3 1796.0,214.4 1797.0,213.4 1798.0,214.5 1799.0,213.5 1800.0,213.9 1801.0,215.5 1802.0,214.6 1803.0,213.9 1804.0,213.4 1805.0,214.6 1806.0,216.0 1807.0,213.6 1808.0,212.5 1809.0,213.6 1810.0,214.5 1811.0,213.1 1812.0,216.2 1813.0,216.6 1814.0,214.4 1815.0,215.7 1816.0,214.6 1817.0,214.6 1818.0,215.2 1819.0,214.7 1820.0,214.3 1821.0,216.0 1822.0,215.8 1823.0,214.0 1824.0,217.8 1825.0,214.0 1826.0,215.6 1827.0,214.7 1828.0,215.0 1829.0,214.5 1830.0,216.9 1831.0,212.9 1832.0,216.1 1833.0,215.8 1834.0,216.0 1835.0,215.3 1836.0,214.3 1837.0,212.1 1838.0,213.1 1839.0,215.4 1840.0,215.6 1841.0,214.6 1842.0,214.9 1843.0,214.9 1844.0,214.7 1845.0,217.1 1846.0,213.9 1847.0,215.1 1848.0,216.5 1849.0,214.7 1850.0,214.8 1851.0,215.5 1852.0,216.2 1853.0,215.3 1854.0,216.2 1855.0,214.7 1856.0,214.6"/>
<polyline fill="none" stroke="#ff00ff" stroke-width="7" stroke-linejoin="round" stroke-linecap="round" points="174.0,385.4 175.0,386.7 176.0,387.2 177.0,386.6 178.0,386.2 179.0,385.6 180.0,387.1 181.0,387.3 182.0,390.6 183.0,387.2 184.0,388.2 185.0,387.7 186.0,387.2 187.0,389.1 188.0,385.7 189.0,385.1 190.0,384.9 191.0,386.2 192.0,386.6 193.0,387.0 194.0,386.0 195.0,387.2 196.0,387.5 197.0,387.4 198.0,388.6 199.0,386.6 200.0,387.2 201.0,387.9 202.0,387.3 203.0,386.8 204.0,387.5 205.0,384.6 206.0,388.2 207.0,388.0 208.0,388.0 209.0,387.6 210.0,388.3 211.0,387.8 212.0,385.6 213.0,387.9 214.0,388.5 215.0,389.2 216.0,390.6 217.0,386.0 218.0,388.3 219.0,389.0 220.0,388.3 221.0,388.3 222.0,389.3 223.0,387.2 224.0,388.9 225.0,388.9 226.0,387.2 227.0,388.9 228.0,390.0 229.0,388.4 230.0,387.7 231.0,387.0 232.0,388.1 233.0,389.4 234.0,388.8 235.0,387.7 236.0,389.2 237.0,388.2 238.0,389.6 239.0,388.0 240.0,389.5 241.0,387.6 242.0,387.6 243.0,386.4 244.0,389.0 245.0,386.9 246.0,390.6 247.0,387.8 248.0,388.9 249.0,387.5 250.0,388.9 251.0,389.7 252.0,391.2 253.0,391.1 254.0,389.3 255.0,389.9 256.0,389.1 257.0,389.4 258.0,389.9 259.0,389.3 260.0,389.4 261.0,389.3 262.0,389.7 263.0,388.0 264.0,390.0 265.0,390.4 266.0,388.3 267.0,389.6 268.0,389.1 269.0,388.8 270.0,388.6 271.0,387.8 272.0,389.4 273.0,389.2 274.0,389.1 275.0,389.0 276.0,388.8 277.0,388.8 278.0,389.7 279.0,389.8 280.0,388.2 281.0,389.8 282.0,389.4 283.0,388.1 284.0,390.3 285.0,389.4 286.0,388.2 287.0,389.7 288.0,387.4 289.0,389.3 290.0,392.0 291.0,390.9 292.0,390.4 293.0,388.6 294.0,390.2 295.0,388.4 296.0,390.7 297.0,389.7 298.0,390.0 299.0,387.7 300.0,389.2 301.0,389.3 302.0,386.2 303.0,389.4 304.0,388.3 305.0,389.3 306.0,388.8 307.0,389.9 308.0,389.1 309.0,391.2 310.0,388.7 311.0,387.6 312.0,388.5 313.0,390.0 314.0,386.8 315.0,389.7 316.0,389.6 317.0,389.4 318.0,390.6 319.0,388.9 320.0,390.5 321.0,389.4 322.0,388.9 323.0,388.9 324.0,390.2 325.0,388.3 326.0,389.4 327.0,389.8 328.0,390.0 329.0,389.5 330.0,390.0 331.0,390.0 332.0,388.9 333.0,389.9 334.0,388.5 335.0,388.8 336.0,388.7 337.0,391.0 338.0,390.2 339.0,389.9 340.0,390.2 341.0,388.6 342.0,390.1 343.0,391.5 344.0,388.7 345.0,388.9 346.0,387.8 347.0,391.6 348.0,388.9 349.0,389.5 350.0,389.0 351.0,390.0 352.0,389.1 353.0,389.9 354.0,385.2 355.0,389.0 356.0,388.8 357.0,389.1 358.0,389.1 359.0,389.3 360.0,388.9 361.0,389.3 362.0,388.8 363.0,388.1 364.0,388.0 365.0,388.9 366.0,388.9 367.0,389.5 368.0,387.7 369.0,387.3 370.0,390.0 371.0,388.4 372.0,388.3 373.0,387.6 374.0,387.4 375.0,385.7 376.0,386.7 377.0,386.8 378.0,385.8 379.0,384.2 380.0,386.0 381.0,386.4 382.0,383.6 383.0,382.6 384.0,380.2 385.0,375.4 386.0,367.0 387.0,356.2 388.0,339.3 388.5,329.0 389.0,318.0 389.5,306.5 390.0,295.2 390.5,284.8 391.0,276.3 391.5,271.0 392.0,269.0 392.5,270.9 393.0,276.4 393.5,284.7 394.0,295.1 394.5,306.3 395.0,317.7 395.5,328.9 396.0,339.1 397.0,355.9 398.0,368.1 399.0,375.3 400.0,380.1 401.0,382.4 402.0,383.7 403.0,387.4 404.0,386.9 405.0,388.1 406.0,386.0 407.0,386.6 408.0,387.7 409.0,386.2 410.0,387.5 411.0,386.9 412.0,386.0 413.0,386.3 414.0,389.7 415.0,387.4 416.0,388.1 417.0,387.8 418.0,386.1 419.0,386.0 420.0,389.0 421.0,386.8 422.0,387.3 423.0,387.0 424.0,388.3 425.0,389.4 426.0,387.5 427.0,388.2 428.0,387.4 429.0,386.9 430.0,388.7 431.0,388.6 432.0,388.7 433.0,388.3 434.0,388.9 435.0,388.6 436.0,388.5 437.0,387.2 438.0,389.1 439.0,388.6 440.0,387.9 441.0,387.9 442.0,388.1 443.0,387.7 444.0,385.7 445.0,388.8 446.0,390.0 447.0,387.3 448.0,388.9 449.0,387.6 450.0,387.8 451.0,387.8 452.0,389.1 453.0,385.5 454.0,386.3 455.0,388.0 456.0,387.2 457.0,385.2 458.0,388.7 459.0,388.8 460.0,389.7 461.0,384.9 462.0,388.8 463.0,388.6 464.0,386.5 465.0,388.4 466.0,386.1 467.0,389.7 468.0,389.4 469.0,389.2 470.0,388.0 471.0,390.9 472.0,388.0 473.0,387.0 474.0,386.6 475.0,388.5 476.0,387.6 477.0,388.6 478.0,389.6 479.0,385.2 480.0,389.7 481.0,390.6 482.0,386.7 483.0,385.9 484.0,388.1 485.0,389.1 486.0,388.8 487.0,388.9 488.0,388.7 489.0,388.7 490.0,390.3 491.0,389.4 492.0,388.2 493.0,389.0 494.0,388.6 495.0,388.6 496.0,390.0 497.0,389.2 498.0,389.5 499.0,388.9 500.0,386.2 501.0,389.5 502.0,389.0 503.0,388.4 504.0,388.6 505.0,389.1 506.0,387.2 507.0,387.1 508.0,389.0 509.0,387.6 510.0,386.5 511.0,389.2 512.0,390.6 513.0,386.8 514.0,388.3 515.0,388.1 516.0,388.0 517.0,388.6 518.0,390.0 519.0,388.3 520.0,388.9 521.0,389.7 522.0,389.1 523.0,388.9 524.0,389.2 525.0,389.6 526.0,388.9 527.0,389.7 528.0,389.2 529.0,389.7 530.0,387.4 531.0,388.6 532.0,387.6 533.0,388.8 534.0,388.3 535.0,387.5 536.0,387.3 537.0,386.3 538.0,387.9 539.0,388.1 540.0,389.7 541.0,388.7 542.0,387.8 543.0,387.7 544.0,389.1 545.0,387.8 546.0,386.8 547.0,386.4 548.0,386.4 549.0,385.8 550.0,383.1 551.0,381.2 552.0,377.4 553.0,371.1 554.0,365.3 554.5,361.3 555.0,357.6 555.5,353.2 556.0,349.9 556.5,346.4 557.0,343.9 557.5,342.2 558.0,341.9 558.5,342.2 559.0,343.8 559.5,346.8 560.0,349.8 560.5,353.5 561.0,357.6 561.5,361.5 562.0,365.5 563.0,372.0 564.0,376.6 565.0,381.2 566.0,383.9 567.0,383.8 568.0,384.8 569.0,386.2 570.0,387.4 571.0,388.4 572.0,388.2 573.0,386.9 574.0,386.4 575.0,388.6 576.0,387.8 577.0,386.1 578.0,387.1 579.0,388.5 580.0,387.0 581.0,389.3 582.0,387.8 583.0,387.1 584.0,388.5 585.0,389.2 586.0,388.9 587.0,388.9 588.0,389.1 589.0,389.9 590.0,389.7 591.0,388.8 592.0,388.4 593.0,388.4 594.0,387.8 595.0,389.6 596.0,388.7 597.0,388.0 598.0,387.6 599.0,389.2 600.0,388.3 601.0,389.4 602.0,387.8 603.0,387.8 604.0,388.8 605.0,389.1 606.0,387.3 606.5,387.5 607.0,387.0 607.5,387.4 608.0,386.7 608.5,387.0 609.0,387.5 609.5,385.6 610.0,386.7 610.5,386.5 611.0,384.4 611.5,389.5 612.0,387.1 612.5,386.2 613.0,385.6 613.5,389.2 614.0,386.4 614.5,388.0 615.0,386.9 616.0,388.1 617.0,388.4 618.0,389.1 619.0,390.1 620.0,388.0 621.0,389.2 622.0,387.9 623.0,389.8 624.0,389.7 625.0,388.7 626.0,389.0 627.0,389.2 628.0,388.9 629.0,392.7 630.0,388.2 631.0,390.1 632.0,388.0 633.0,393.3 634.0,389.2 635.0,390.1 636.0,385.9 637.0,389.0 638.0,388.1 639.0,389.7 640.0,388.9 641.0,389.0 642.0,389.0 643.0,387.8 644.0,390.0 645.0,388.7 646.0,388.5 647.0,388.1 648.0,388.1 649.0,388.3 650.0,388.4 651.0,388.8 652.0,386.5 653.0,388.5 654.0,390.8 655.0,388.4 656.0,388.0 657.0,389.1 658.0,388.4 659.0,390.4 660.0,388.1 661.0,387.1 662.0,388.6 663.0,386.4 664.0,387.8 665.0,389.5 666.0,387.7 667.0,388.3 668.0,388.0 669.0,390.1 670.0,389.6 671.0,388.8 672.0,389.8 673.0,389.4 674.0,389.2 675.0,389.6 676.0,389.1 677.0,388.3 678.0,387.7 679.0,390.0 680.0,390.7 681.0,388.2 682.0,389.2 683.0,389.6 684.0,387.9 685.0,388.6 686.0,388.3 687.0,389.0 688.0,388.5 689.0,389.7 690.0,387.5 691.0,388.4 692.0,388.0 693.0,388.4 694.0,387.7 695.0,388.0 696.0,387.6 697.0,385.5 698.0,388.5 699.0,386.8 700.0,387.6 701.0,387.5 702.0,384.9 703.0,382.7 704.0,385.0 705.0,381.7 706.0,379.8 707.0,377.3 707.6,375.6 708.0,375.0 708.1,374.0 708.6,372.9 709.0,371.6 709.1,371.8 709.6,370.2 710.0,369.7 710.1,368.7 710.6,368.7 711.0,367.9 711.1,367.9 711.6,368.1 712.0,367.9 712.1,368.0 712.6,368.5 713.0,369.3 713.1,369.3 713.6,370.2 714.0,371.4 714.1,371.7 714.6,373.0 715.0,374.1 715.1,374.0 715.6,375.4 716.0,376.7 717.0,379.0 718.0,381.2 719.0,381.6 720.0,384.7 721.0,387.0 722.0,386.0 723.0,387.3 724.0,386.9 725.0,387.8 726.0,387.4 727.0,389.1 728.0,388.4 729.0,386.7 730.0,388.1 731.0,388.1 732.0,388.6 733.0,387.3 734.0,390.4 735.0,388.3 736.0,389.1 737.0,389.1 738.0,388.3 739.0,388.2 740.0,388.2 741.0,388.7 742.0,388.2 743.0,388.9 744.0,389.4 745.0,390.3 746.0,389.8 747.0,388.1 748.0,389.0 749.0,388.6 750.0,388.8 751.0,388.4 752.0,386.8 753.0,388.0 754.0,388.6 755.0,388.4 756.0,387.5 757.0,388.4 758.0,388.8 759.0,388.4 760.0,388.7 761.0,388.7 762.0,388.0 763.0,384.9 764.0,387.1 765.0,388.1 766.0,389.8 767.0,388.6 768.0,388.5 769.0,389.3 770.0,387.0 771.0,389.3 772.0,390.8 773.0,388.1 774.0,388.3 775.0,387.7 776.0,388.0 777.0,386.9 778.0,388.7 779.0,386.5 780.0,386.3 781.0,388.4 782.0,386.9 783.0,387.8 784.0,386.0 785.0,384.8 786.0,384.4 787.0,382.8 788.0,380.9 789.0,378.3 790.0,375.3 791.0,371.2 791.2,371.0 791.7,369.0 792.0,367.9 792.2,367.3 792.7,365.6 793.0,364.6 793.2,364.0 793.7,362.5 794.0,362.0 794.2,361.5 794.7,360.4 795.0,360.7 795.2,360.5 795.7,361.0 796.0,361.2 796.2,361.6 796.7,362.2 797.0,363.2 797.2,364.0 797.7,365.7 798.0,366.3 798.2,367.2 798.7,368.9 799.0,370.4 799.2,371.1 800.0,373.9 801.0,377.5 802.0,381.0 803.0,381.6 804.0,381.9 805.0,384.7 806.0,386.0 807.0,386.4 808.0,384.9 809.0,387.5 810.0,387.4 811.0,386.6 812.0,385.9 813.0,389.8 814.0,388.0 815.0,388.1 816.0,387.4 817.0,388.5 818.0,388.0 819.0,389.7 820.0,387.1 821.0,387.0 822.0,388.8 823.0,387.0 824.0,389.1 825.0,389.2 826.0,387.6 827.0,387.3 828.0,388.7 829.0,386.8 830.0,387.7 831.0,388.6 832.0,388.4 833.0,387.8 834.0,388.0 835.0,388.2 836.0,385.5 837.0,387.1 838.0,391.1 839.0,387.2 840.0,386.9 841.0,389.6 842.0,386.9 843.0,387.1 844.0,388.2 845.0,386.5 846.0,387.5 847.0,387.4 848.0,388.4 849.0,388.1 850.0,385.9 851.0,387.1 852.0,386.7 853.0,384.3 854.0,385.3 854.5,384.0 855.0,384.0 855.5,383.6 856.0,383.2 856.5,382.1 857.0,382.2 857.5,382.0 858.0,381.9 858.5,381.1 859.0,379.9 859.5,382.2 860.0,381.7 860.5,381.8 861.0,382.7 861.5,382.2 862.0,381.8 862.5,384.5 863.0,384.6 864.0,382.5 865.0,386.1 866.0,387.0 867.0,388.0 868.0,385.1 869.0,387.1 870.0,386.2 871.0,389.1 872.0,387.7 873.0,389.4 874.0,388.0 875.0,389.2 876.0,388.3 877.0,388.0 878.0,386.9 879.0,387.5 880.0,387.5 881.0,388.0 882.0,387.5 883.0,387.9 884.0,388.4 885.0,387.1 886.0,388.9 887.0,387.3 888.0,387.8 889.0,387.5 890.0,387.3 891.0,387.3 892.0,386.7 893.0,386.9 894.0,387.6 895.0,388.6 896.0,389.8 897.0,387.7 898.0,388.2 899.0,388.0 900.0,386.5 901.0,385.7 902.0,387.1 903.0,387.8 904.0,388.8 905.0,385.9 906.0,385.7 907.0,385.4 908.0,386.5 909.0,384.9 910.0,385.1 911.0,386.9 912.0,387.4 913.0,384.3 914.0,387.4 915.0,387.4 916.0,386.2 917.0,387.0 918.0,385.6 919.0,386.2 920.0,383.9 921.0,383.5 922.0,385.6 923.0,387.4 924.0,384.6 925.0,381.7 926.0,385.0 927.0,380.5 928.0,376.7 929.0,372.8 930.0,367.8 931.0,360.7 932.0,352.7 932.5,348.6 933.0,344.6 933.5,340.4 934.0,336.6 934.5,333.1 935.0,330.0 935.5,327.7 936.0,326.3 936.5,325.7 937.0,326.3 937.5,327.8 938.0,330.0 938.5,333.3 939.0,336.5 939.5,340.5 940.0,344.4 940.5,348.7 941.0,352.7 942.0,360.3 943.0,367.0 944.0,372.2 945.0,376.9 946.0,377.9 947.0,381.9 948.0,382.1 949.0,386.9 950.0,383.7 951.0,384.7 952.0,385.9 953.0,386.5 954.0,383.5 955.0,386.5 956.0,385.6 957.0,386.1 958.0,386.9 959.0,387.3 960.0,386.0 961.0,388.2 962.0,387.4 963.0,385.8 964.0,384.5 965.0,387.1 966.0,387.4 967.0,386.7 968.0,387.1 969.0,388.6 970.0,387.5 971.0,387.1 972.0,386.1 973.0,386.8 974.0,386.9 975.0,388.5 976.0,386.4 977.0,388.0 978.0,386.5 979.0,387.6 980.0,387.8 981.0,386.9 982.0,387.3 983.0,386.5 984.0,386.8 985.0,384.4 986.0,387.9 987.0,386.9 988.0,389.2 989.0,388.5 990.0,387.0 991.0,390.4 992.0,388.3 993.0,387.4 994.0,391.6 995.0,386.2 996.0,388.0 997.0,387.1 998.0,387.4 999.0,388.4 1000.0,386.9 1001.0,387.2 1002.0,387.7 1003.0,388.7 1004.0,384.5 1005.0,387.8 1006.0,389.0 1007.0,387.7 1008.0,388.1 1009.0,387.7 1010.0,388.3 1011.0,387.5 1012.0,386.0 1013.0,387.1 1014.0,388.8 1015.0,387.5 1016.0,388.7 1017.0,386.7 1018.0,390.2 1019.0,388.4 1020.0,389.1 1021.0,389.0 1022.0,387.5 1023.0,388.2 1024.0,388.1 1025.0,388.2 1026.0,389.4 1027.0,388.1 1028.0,387.6 1029.0,389.4 1030.0,389.0 1031.0,388.0 1032.0,388.1 1033.0,386.9 1034.0,389.2 1035.0,387.8 1036.0,388.8 1037.0,390.2 1038.0,391.1 1039.0,387.4 1040.0,387.4 1041.0,387.0 1042.0,387.9 1043.0,385.3 1044.0,387.7 1045.0,388.0 1046.0,387.6 1047.0,387.7 1048.0,387.7 1049.0,384.0 1050.0,384.8 1051.0,383.9 1052.0,382.0 1053.0,381.6 1053.5,379.5 1054.0,379.4 1054.5,377.6 1055.0,377.2 1055.5,376.8 1056.0,376.4 1056.5,376.4 1057.0,375.6 1057.5,375.8 1058.0,376.6 1058.5,377.1 1059.0,377.9 1059.5,378.4 1060.0,379.4 1060.5,379.9 1061.0,381.6 1062.0,381.7 1063.0,383.0 1064.0,386.1 1065.0,385.9 1066.0,385.7 1067.0,387.7 1068.0,388.4 1069.0,387.1 1070.0,389.7 1071.0,386.5 1072.0,389.5 1073.0,385.2 1074.0,384.9 1075.0,387.8 1076.0,389.8 1077.0,387.2 1078.0,389.6 1079.0,388.1 1080.0,389.4 1081.0,387.6 1082.0,386.8 1083.0,389.8 1084.0,388.4 1085.0,387.7 1086.0,387.6 1087.0,388.3 1088.0,387.0 1089.0,389.3 1090.0,388.3 1091.0,389.2 1092.0,388.5 1093.0,388.6 1094.0,387.5 1095.0,389.1 1096.0,387.3 1097.0,387.9 1098.0,388.4 1099.0,387.8 1100.0,387.4 1101.0,390.9 1102.0,388.6 1103.0,387.3 1104.0,387.8 1105.0,388.2 1106.0,389.1 1107.0,388.8 1108.0,387.9 1109.0,387.4 1110.0,388.0 1111.0,386.4 1112.0,388.2 1113.0,388.8 1114.0,388.5 1115.0,389.0 1116.0,387.6 1117.0,387.5 1118.0,387.2 1119.0,388.0 1120.0,389.1 1121.0,388.1 1122.0,390.0 1123.0,389.4 1124.0,387.5 1125.0,385.3 1126.0,388.2 1127.0,388.0 1128.0,388.2 1129.0,388.6 1130.0,387.7 1131.0,388.5 1132.0,389.4 1133.0,388.2 1134.0,386.3 1135.0,388.1 1136.0,382.7 1137.0,381.9 1138.0,382.2 1139.0,379.3 1140.0,377.1 1141.0,374.4 1141.8,370.6 1142.0,371.0 1142.3,370.6 1142.8,368.5 1143.0,368.1 1143.3,367.3 1143.8,365.9 1144.0,365.7 1144.3,364.8 1144.8,364.5 1145.0,364.1 1145.3,364.1 1145.8,363.6 1146.0,363.6 1146.3,363.9 1146.8,363.6 1147.0,364.4 1147.3,365.2 1147.8,366.1 1148.0,366.4 1148.3,366.9 1148.8,368.6 1149.0,369.1 1149.3,370.3 1149.8,371.3 1150.0,372.6 1151.0,375.3 1152.0,377.7 1153.0,380.4 1154.0,382.9 1155.0,383.1 1156.0,384.5 1157.0,383.2 1158.0,387.0 1159.0,384.5 1160.0,387.9 1161.0,388.8 1162.0,387.6 1163.0,387.1 1164.0,388.9 1165.0,385.8 1166.0,388.3 1167.0,388.8 1168.0,390.5 1169.0,387.7 1170.0,387.6 1171.0,388.9 1172.0,389.5 1173.0,389.3 1174.0,384.6 1175.0,388.9 1176.0,387.7 1177.0,388.1 1178.0,388.0 1179.0,386.9 1180.0,384.5 1181.0,388.4 1182.0,388.8 1183.0,386.8 1184.0,386.5 1185.0,385.4 1186.0,385.1 1187.0,385.3 1188.0,382.9 1189.0,381.5 1190.0,377.7 1191.0,376.8 1191.7,375.3 1192.0,374.0 1192.2,374.2 1192.7,372.7 1193.0,372.4 1193.2,371.9 1193.7,370.8 1194.0,370.6 1194.2,370.7 1194.7,369.3 1195.0,369.5 1195.2,368.5 1195.7,369.0 1196.0,369.1 1196.2,369.1 1196.7,368.9 1197.0,369.9 1197.2,370.0 1197.7,370.9 1198.0,371.1 1198.2,372.0 1198.7,372.7 1199.0,373.8 1199.2,374.1 1199.7,375.2 1200.0,374.8 1201.0,378.7 1202.0,380.4 1203.0,383.0 1204.0,383.1 1205.0,382.2 1206.0,385.6 1207.0,387.0 1208.0,387.5 1209.0,388.5 1210.0,388.1 1211.0,387.5 1212.0,387.2 1213.0,389.3 1214.0,388.6 1215.0,385.1 1216.0,387.5 1217.0,389.0 1218.0,388.0 1219.0,388.2 1220.0,389.7 1221.0,385.7 1222.0,388.7 1223.0,387.5 1224.0,388.7 1225.0,389.0 1226.0,387.1 1227.0,388.5 1228.0,387.3 1229.0,386.8 1230.0,387.8 1231.0,389.7 1232.0,387.6 1233.0,388.7 1234.0,391.8 1235.0,389.6 1236.0,388.7 1237.0,390.2 1238.0,389.6 1239.0,389.3 1240.0,389.1 1241.0,389.1 1242.0,390.1 1243.0,387.2 1244.0,388.7 1245.0,392.2 1246.0,389.6 1247.0,388.3 1248.0,389.7 1249.0,390.3 1250.0,389.5 1251.0,386.9 1252.0,389.3 1253.0,387.5 1254.0,389.0 1255.0,389.8 1256.0,388.9 1257.0,390.4 1258.0,388.7 1259.0,389.4 1260.0,388.4 1261.0,390.8 1262.0,389.8 1263.0,389.7 1264.0,390.8 1265.0,388.7 1266.0,388.5 1267.0,388.9 1268.0,389.3 1269.0,389.2 1270.0,386.9 1271.0,387.7 1272.0,387.1 1273.0,387.6 1274.0,388.4 1275.0,386.1 1276.0,387.3 1276.5,384.4 1277.0,384.1 1277.5,383.4 1278.0,383.4 1278.5,382.5 1279.0,382.4 1279.5,381.7 1280.0,380.3 1280.5,381.1 1281.0,382.5 1281.5,381.8 1282.0,382.7 1282.5,383.8 1283.0,385.1 1283.5,385.5 1284.0,384.0 1284.5,384.2 1285.0,385.1 1286.0,384.5 1287.0,385.7 1288.0,387.6 1289.0,387.8 1290.0,388.0 1291.0,388.1 1292.0,385.7 1293.0,387.5 1294.0,384.9 1295.0,385.1 1296.0,385.0 1297.0,384.0 1297.6,383.2 1298.0,383.0 1298.1,382.0 1298.6,381.8 1299.0,381.2 1299.1,381.6 1299.6,380.9 1300.0,380.2 1300.1,379.8 1300.6,379.1 1301.0,379.4 1301.1,379.8 1301.6,379.9 1302.0,379.8 1302.1,379.8 1302.6,379.4 1303.0,379.0 1303.1,380.1 1303.6,380.8 1304.0,380.6 1304.1,381.1 1304.6,381.7 1305.0,382.4 1305.1,384.6 1305.6,382.8 1306.0,384.1 1307.0,383.3 1308.0,385.5 1309.0,385.2 1310.0,386.7 1311.0,390.8 1312.0,387.6 1313.0,389.0 1314.0,389.2 1315.0,389.2 1316.0,389.9 1317.0,387.6 1318.0,389.7 1319.0,391.8 1320.0,391.5 1321.0,388.8 1322.0,389.3 1323.0,387.8 1324.0,390.0 1325.0,390.1 1326.0,387.2 1327.0,390.8 1328.0,388.9 1329.0,391.1 1330.0,391.3 1331.0,389.2 1332.0,387.8 1333.0,389.7 1334.0,389.6 1335.0,390.0 1336.0,390.5 1337.0,388.9 1338.0,390.1 1339.0,390.0 1340.0,390.3 1341.0,390.0 1342.0,390.1 1343.0,390.0 1344.0,390.6 1345.0,390.4 1346.0,389.3 1347.0,389.3 1348.0,391.7 1349.0,389.5 1350.0,389.7 1351.0,389.2 1352.0,390.5 1353.0,389.2 1354.0,389.9 1355.0,391.5 1356.0,390.9 1357.0,386.8 1358.0,389.6 1359.0,390.4 1360.0,389.6 1361.0,390.9 1362.0,392.9 1363.0,387.3 1364.0,390.3 1365.0,389.6 1366.0,389.0 1367.0,389.8 1368.0,389.3 1369.0,388.4 1370.0,389.3 1371.0,389.8 1372.0,389.7 1373.0,388.8 1374.0,388.2 1375.0,388.8 1376.0,389.2 1377.0,389.7 1378.0,389.9 1379.0,388.3 1380.0,390.8 1381.0,389.5 1382.0,389.6 1383.0,387.7 1384.0,394.2 1385.0,389.7 1386.0,389.5 1387.0,388.9 1388.0,390.0 1389.0,390.7 1390.0,388.6 1391.0,390.1 1392.0,390.1 1393.0,391.4 1394.0,390.0 1395.0,388.2 1396.0,389.0 1397.0,388.6 1398.0,390.5 1399.0,390.2 1400.0,389.2 1401.0,390.6 1402.0,388.0 1403.0,389.7 1404.0,388.8 1405.0,389.1 1406.0,386.8 1407.0,389.2 1408.0,387.3 1409.0,389.5 1410.0,388.2 1411.0,387.6 1412.0,386.6 1413.0,387.9 1414.0,386.8 1415.0,389.2 1416.0,386.2 1417.0,383.9 1418.0,382.1 1419.0,380.0 1420.0,376.2 1421.0,372.5 1422.0,368.6 1422.3,367.0 1422.8,365.3 1423.0,364.4 1423.3,362.7 1423.8,361.3 1424.0,360.6 1424.3,359.7 1424.8,358.3 1425.0,357.8 1425.3,357.5 1425.8,356.5 1426.0,356.0 1426.3,356.4 1426.8,356.6 1427.0,356.6 1427.3,357.4 1427.8,358.5 1428.0,358.5 1428.3,359.4 1428.8,361.0 1429.0,361.7 1429.3,362.7 1429.8,364.7 1430.0,365.7 1430.3,366.5 1431.0,368.8 1432.0,372.7 1433.0,375.8 1434.0,378.2 1435.0,379.9 1436.0,380.6 1437.0,381.2 1438.0,381.2 1439.0,380.2 1440.0,381.2 1441.0,379.0 1442.0,378.0 1443.0,377.0 1443.5,376.3 1444.0,375.6 1444.5,374.8 1445.0,374.8 1445.5,374.9 1446.0,373.2 1446.5,374.4 1447.0,374.1 1447.5,374.4 1448.0,374.2 1448.5,374.8 1449.0,375.2 1449.5,375.2 1450.0,376.2 1450.5,376.6 1451.0,377.3 1452.0,379.2 1453.0,380.1 1454.0,381.3 1455.0,384.5 1456.0,385.6 1457.0,384.2 1458.0,387.4 1459.0,385.0 1460.0,387.1 1461.0,387.6 1462.0,389.2 1463.0,389.8 1464.0,389.8 1465.0,388.7 1466.0,389.1 1467.0,390.0 1468.0,389.6 1469.0,389.7 1470.0,392.7 1471.0,390.8 1472.0,388.5 1473.0,390.7 1474.0,391.7 1475.0,390.0 1476.0,391.3 1477.0,389.5 1478.0,391.1 1479.0,390.6 1480.0,391.1 1481.0,390.2 1482.0,390.9 1483.0,389.0 1484.0,391.6 1485.0,389.9 1486.0,390.3 1487.0,390.5 1488.0,390.3 1489.0,390.5 1490.0,391.0 1491.0,392.8 1492.0,391.0 1493.0,391.0 1494.0,389.6 1495.0,390.4 1496.0,390.3 1497.0,389.1 1498.0,391.2 1499.0,392.0 1500.0,393.3 1501.0,390.4 1502.0,391.4 1503.0,390.9 1504.0,391.8 1505.0,390.7 1506.0,388.5 1507.0,389.6 1508.0,389.8 1509.0,390.8 1510.0,388.8 1511.0,389.5 1512.0,393.5 1513.0,391.0 1514.0,388.5 1515.0,391.3 1516.0,389.9 1517.0,388.9 1518.0,389.8 1519.0,394.0 1520.0,391.2 1521.0,391.5 1522.0,391.4 1523.0,393.7 1524.0,392.8 1525.0,390.7 1526.0,389.6 1527.0,391.3 1528.0,391.5 1529.0,387.8 1530.0,390.7 1531.0,388.0 1532.0,391.2 1533.0,389.7 1534.0,392.7 1535.0,390.0 1536.0,390.1 1537.0,390.0 1538.0,391.8 1539.0,391.1 1540.0,390.8 1541.0,387.5 1542.0,390.6 1543.0,390.0 1544.0,389.4 1545.0,387.7 1546.0,389.6 1546.5,388.0 1547.0,386.3 1547.5,388.5 1548.0,388.1 1548.5,386.9 1549.0,387.5 1549.5,386.6 1550.0,387.2 1550.5,389.2 1551.0,386.3 1551.5,387.7 1552.0,386.2 1552.5,388.9 1553.0,387.3 1553.5,389.1 1554.0,388.9 1554.5,391.6 1555.0,388.7 1556.0,390.2 1557.0,389.2 1558.0,389.4 1559.0,391.2 1560.0,391.9 1561.0,392.2 1562.0,391.4 1563.0,392.5 1564.0,393.0 1565.0,392.2 1566.0,390.9 1567.0,391.5 1568.0,390.6 1569.0,391.4 1570.0,391.0 1571.0,391.5 1572.0,390.4 1573.0,391.2 1574.0,391.9 1575.0,392.0 1576.0,390.8 1577.0,391.5 1578.0,391.4 1579.0,391.0 1580.0,394.6 1581.0,392.2 1582.0,391.0 1583.0,391.7 1584.0,390.8 1585.0,391.2 1586.0,391.8 1587.0,392.7 1588.0,390.9 1589.0,395.7 1590.0,390.7 1591.0,392.4 1592.0,390.2 1593.0,390.9 1594.0,394.1 1595.0,390.5 1596.0,389.9 1597.0,391.1 1598.0,391.9 1599.0,389.3 1600.0,391.4 1601.0,390.7 1602.0,390.9 1603.0,389.8 1604.0,391.8 1605.0,391.8 1606.0,390.6 1607.0,389.5 1608.0,392.4 1609.0,391.4 1610.0,386.6 1611.0,389.6 1612.0,387.5 1613.0,389.9 1613.9,388.8 1614.0,387.1 1614.4,389.3 1614.9,387.0 1615.0,387.1 1615.4,389.4 1615.9,386.0 1616.0,386.2 1616.4,385.2 1616.9,385.7 1617.0,386.2 1617.4,385.8 1617.9,385.1 1618.0,385.8 1618.4,386.7 1618.9,386.9 1619.0,386.3 1619.4,385.4 1619.9,386.1 1620.0,387.0 1620.4,387.0 1620.9,387.1 1621.0,388.6 1621.4,387.2 1621.9,387.6 1622.0,387.2 1623.0,387.6 1624.0,388.2 1625.0,391.0 1626.0,391.2 1627.0,389.7 1628.0,390.6 1629.0,390.7 1630.0,392.8 1631.0,392.2 1632.0,390.4 1633.0,391.3 1634.0,389.7 1635.0,391.6 1636.0,391.6 1637.0,389.6 1638.0,390.8 1639.0,391.5 1640.0,388.4 1641.0,392.0 1642.0,390.6 1643.0,390.7 1644.0,391.0 1645.0,391.4 1646.0,391.2 1647.0,391.4 1648.0,390.2 1649.0,391.1 1650.0,390.1 1651.0,392.7 1652.0,392.4 1653.0,389.5 1654.0,392.0 1655.0,392.2 1656.0,391.1 1657.0,391.6 1658.0,394.5 1659.0,391.9 1660.0,391.2 1661.0,391.3 1662.0,392.4 1663.0,392.9 1664.0,391.1 1665.0,391.1 1666.0,390.6 1667.0,393.4 1668.0,392.7 1669.0,392.1 1670.0,391.6 1671.0,392.3 1672.0,392.0 1673.0,392.3 1674.0,391.5 1675.0,392.3 1676.0,391.5 1677.0,390.9 1678.0,394.9 1679.0,391.5 1680.0,392.4 1681.0,391.7 1682.0,392.7 1683.0,392.1 1684.0,392.8 1685.0,391.2 1686.0,395.7 1687.0,392.2 1688.0,392.9 1689.0,390.7 1690.0,392.3 1691.0,392.6 1692.0,390.0 1693.0,393.0 1694.0,391.7 1695.0,392.4 1696.0,393.3 1697.0,390.2 1698.0,392.3 1699.0,392.8 1700.0,393.3 1701.0,393.0 1702.0,392.6 1703.0,392.1 1704.0,391.5 1705.0,392.5 1706.0,392.0 1707.0,391.5 1708.0,393.7 1709.0,392.7 1710.0,394.2 1711.0,391.7 1712.0,395.6 1713.0,394.3 1714.0,390.9 1715.0,396.0 1716.0,393.1 1717.0,392.5 1718.0,393.8 1719.0,393.0 1720.0,390.4 1721.0,392.4 1722.0,392.4 1723.0,394.2 1724.0,392.6 1725.0,392.1 1726.0,392.2 1727.0,390.6 1728.0,395.4 1729.0,394.0 1730.0,393.2 1731.0,392.7 1732.0,393.8 1733.0,392.9 1734.0,392.5 1735.0,392.1 1736.0,393.4 1737.0,394.0 1738.0,393.2 1739.0,392.2 1740.0,392.8 1741.0,393.4 1742.0,389.6 1743.0,394.6 1744.0,392.5 1745.0,393.5 1746.0,393.2 1747.0,393.5 1748.0,393.9 1749.0,393.5 1750.0,393.6 1751.0,392.2 1752.0,395.6 1753.0,392.2 1754.0,393.0 1755.0,391.3 1756.0,394.1 1757.0,393.9 1758.0,394.1 1759.0,393.3 1760.0,396.7 1761.0,394.7 1762.0,392.1 1763.0,393.0 1764.0,393.5 1765.0,392.4 1766.0,393.5 1767.0,393.5 1768.0,395.7 1769.0,393.5 1770.0,393.4 1771.0,393.3 1772.0,394.2 1773.0,394.1 1774.0,393.2 1775.0,394.0 1776.0,396.4 1777.0,393.9 1778.0,391.8 1779.0,394.2 1780.0,390.9 1781.0,393.2 1782.0,393.0 1783.0,394.8 1784.0,393.8 1785.0,394.5 1786.0,392.3 1787.0,394.8 1788.0,393.3 1789.0,393.5 1790.0,390.5 1791.0,394.4 1792.0,397.4 1793.0,393.0 1794.0,393.0 1795.0,394.7 1796.0,394.1 1797.0,394.2 1798.0,393.2 1799.0,393.5 1800.0,395.7 1801.0,391.3 1802.0,393.7 1803.0,393.3 1804.0,394.5 1805.0,393.2 1806.0,392.9 1807.0,393.6 1808.0,393.6 1809.0,393.4 1810.0,391.2 1811.0,393.8 1812.0,393.5 1813.0,393.1 1814.0,392.8 1815.0,394.1 1816.0,393.8 1817.0,395.6 1818.0,394.8 1819.0,394.7 1820.0,393.7 1821.0,392.4 1822.0,394.0 1823.0,393.6 1824.0,395.1 1825.0,394.0 1826.0,392.5 1827.0,396.5 1828.0,394.9 1829.0,393.4 1830.0,394.8 1831.0,394.3 1832.0,392.1 1833.0,394.5 1834.0,394.1 1835.0,395.4 1836.0,393.6 1837.0,393.8 1838.0,394.0 1839.0,395.3 1840.0,394.1 1841.0,395.4 1842.0,393.9 1843.0,392.9 1844.0,393.5 1845.0,393.8 1846.0,397.2 1847.0,393.9 1848.0,393.3 1849.0,395.1 1850.0,394.2 1851.0,395.0 1852.0,394.1 1853.0,394.5 1854.0,393.2 1855.0,393.7 1856.0,393.0"/>
<polyline fill="none" stroke="#00ff00" stroke-width="7" stroke-linejoin="round" stroke-linecap="round" points="174.0,587.4 175.0,588.5 176.0,587.7 177.0,588.0 178.0,587.5 179.0,587.2 180.0,587.4 181.0,588.3 182.0,588.2 183.0,587.8 184.0,588.2 185.0,586.7 186.0,589.0 187.0,587.5 188.0,586.8 189.0,588.1 190.0,587.5 191.0,590.8 192.0,587.0 193.0,587.8 194.0,587.8 195.0,588.3 196.0,588.2 197.0,589.0 198.0,588.8 199.0,588.9 200.0,590.4 201.0,589.0 202.0,588.6 203.0,588.4 204.0,589.0 205.0,587.8 206.0,589.5 207.0,587.6 208.0,589.1 209.0,588.2 210.0,589.6 211.0,588.6 212.0,588.2 213.0,588.3 214.0,588.8 215.0,588.4 216.0,588.9 217.0,586.1 218.0,589.5 219.0,588.3 220.0,588.9 221.0,589.8 222.0,588.7 223.0,587.8 224.0,589.9 225.0,589.5 226.0,588.2 227.0,589.2 228.0,589.6 229.0,588.9 230.0,589.9 231.0,590.1 232.0,589.2 233.0,589.9 234.0,588.8 235.0,590.1 236.0,587.3 237.0,589.8 238.0,587.9 239.0,593.1 240.0,590.0 241.0,590.1 242.0,589.6 243.0,590.8 244.0,590.7 245.0,590.5 246.0,589.6 247.0,590.4 248.0,590.6 249.0,590.4 250.0,591.4 251.0,589.5 252.0,594.0 253.0,591.2 254.0,590.2 255.0,589.5 256.0,591.1 257.0,590.2 258.0,588.8 259.0,589.4 260.0,590.2 261.0,591.2 262.0,590.7 263.0,591.4 264.0,591.5 265.0,593.2 266.0,590.0 267.0,591.2 268.0,592.4 269.0,592.0 270.0,590.6 271.0,591.2 272.0,590.1 273.0,590.8 274.0,592.6 275.0,590.9 276.0,591.7 277.0,592.1 278.0,591.6 279.0,591.8 280.0,591.3 281.0,588.2 282.0,589.1 283.0,591.2 284.0,590.5 285.0,591.3 286.0,591.3 287.0,590.4 288.0,592.7 289.0,591.6 290.0,591.5 291.0,591.6 292.0,591.4 293.0,592.2 294.0,591.4 295.0,591.5 296.0,592.9 297.0,592.0 298.0,592.2 299.0,591.7 300.0,591.4 301.0,592.0 302.0,591.6 303.0,592.0 304.0,591.9 305.0,592.0 306.0,591.8 307.0,591.7 308.0,591.1 309.0,591.5 310.0,593.1 311.0,592.4 312.0,591.7 313.0,592.2 314.0,591.0 315.0,591.5 316.0,592.2 317.0,592.0 318.0,592.3 319.0,592.3 320.0,591.9 321.0,592.6 322.0,592.7 323.0,592.0 324.0,592.5 325.0,594.5 326.0,591.5 327.0,594.1 328.0,593.0 329.0,592.6 330.0,594.9 331.0,591.7 332.0,593.2 333.0,592.7 334.0,592.5 335.0,592.0 336.0,592.0 337.0,592.7 338.0,591.1 339.0,592.0 340.0,593.3 341.0,593.0 342.0,593.0 343.0,592.3 344.0,592.3 345.0,594.2 346.0,591.6 347.0,592.5 348.0,592.2 349.0,591.6 350.0,590.3 351.0,591.8 352.0,592.6 353.0,592.7 354.0,591.8 355.0,592.6 356.0,592.3 357.0,592.3 358.0,593.5 359.0,592.5 360.0,591.5 361.0,592.1 362.0,592.0 363.0,591.1 364.0,591.4 365.0,591.7 366.0,594.5 367.0,591.1 368.0,591.3 369.0,590.2 370.0,590.3 371.0,590.7 372.0,590.1 373.0,592.5 374.0,591.0 375.0,589.9 376.0,590.3 377.0,590.7 378.0,589.5 379.0,589.7 380.0,589.9 381.0,587.8 382.0,589.0 383.0,586.3 384.0,583.9 385.0,581.0 386.0,574.4 387.0,564.4 388.0,548.1 389.0,524.7 389.2,519.0 389.7,504.1 390.0,494.4 390.2,487.7 390.7,470.8 391.0,460.7 391.2,454.2 391.7,439.0 392.0,431.3 392.2,426.8 392.7,418.6 393.0,416.3 393.2,415.8 393.7,418.6 394.0,422.9 394.2,426.7 394.7,439.1 395.0,447.9 395.2,454.2 395.7,470.8 396.0,480.9 396.2,487.7 396.7,504.1 397.0,513.2 397.2,519.3 398.0,539.6 399.0,558.4 400.0,570.6 401.0,577.9 402.0,581.7 403.0,584.7 404.0,584.5 405.0,586.9 406.0,589.0 407.0,588.5 408.0,587.7 409.0,588.3 410.0,587.0 411.0,589.2 412.0,590.9 413.0,590.3 414.0,589.0 415.0,590.8 416.0,592.7 417.0,590.4 418.0,592.0 419.0,591.2 420.0,593.7 421.0,589.1 422.0,591.1 423.0,590.5 424.0,590.4 425.0,590.9 426.0,591.9 427.0,591.8 428.0,591.4 429.0,592.0 430.0,591.3 431.0,591.1 432.0,591.7 433.0,591.0 434.0,591.8 435.0,592.0 436.0,591.6 437.0,591.3 438.0,592.7 439.0,588.7 440.0,591.5 441.0,592.3 442.0,591.2 443.0,591.1 444.0,592.0 445.0,591.6 446.0,592.7 447.0,591.0 448.0,590.2 449.0,591.9 450.0,592.0 451.0,592.0 452.0,592.5 453.0,592.5 454.0,591.6 455.0,591.3 456.0,592.3 457.0,589.0 458.0,589.0 459.0,591.3 460.0,592.5 461.0,592.2 462.0,591.8 463.0,593.0 464.0,589.9 465.0,592.3 466.0,591.4 467.0,592.2 468.0,592.7 469.0,591.4 470.0,592.2 471.0,592.8 472.0,590.5 473.0,591.3 474.0,593.1 475.0,591.9 476.0,592.2 477.0,591.1 478.0,590.8 479.0,593.8 480.0,591.9 481.0,591.9 482.0,592.1 483.0,592.1 484.0,593.9 485.0,592.8 486.0,592.0 487.0,592.0 488.0,591.8 489.0,592.7 490.0,592.7 491.0,595.2 492.0,592.6 493.0,591.2 494.0,592.2 495.0,592.0 496.0,591.4 497.0,592.6 498.0,591.3 499.0,591.6 500.0,592.4 501.0,590.4 502.0,591.7 503.0,590.9 504.0,591.8 505.0,591.8 506.0,591.8 507.0,592.2 508.0,591.4 509.0,593.2 510.0,592.2 511.0,590.1 512.0,593.0 513.0,592.2 514.0,593.6 515.0,592.1 516.0,592.2 517.0,592.4 518.0,594.7 519.0,591.5 520.0,590.2 521.0,592.2 522.0,590.6 523.0,592.7 524.0,592.5 525.0,593.4 526.0,592.3 527.0,591.4 528.0,591.4 529.0,591.6 530.0,589.4 531.0,591.3 532.0,591.0 533.0,591.8 534.0,594.1 535.0,592.2 536.0,591.9 537.0,589.5 538.0,592.7 539.0,591.3 540.0,591.5 541.0,590.4 542.0,590.8 543.0,591.6 544.0,590.0 545.0,590.1 546.0,589.7 547.0,589.1 548.0,587.8 549.0,586.0 550.0,582.5 551.0,577.6 552.0,570.8 553.0,561.4 553.8,552.1 554.0,549.3 554.3,545.6 554.8,538.6 555.0,535.9 555.3,532.0 555.8,525.7 556.0,523.1 556.3,519.8 556.8,515.5 557.0,514.0 557.3,512.6 557.8,511.7 558.0,511.9 558.3,512.6 558.8,515.4 559.0,517.1 559.3,520.0 559.8,525.5 560.0,528.1 560.3,532.0 560.8,538.7 561.0,541.3 561.3,545.5 561.8,551.8 562.0,554.4 563.0,566.0 564.0,574.7 565.0,580.3 566.0,583.8 567.0,586.3 568.0,589.3 569.0,589.5 570.0,589.6 571.0,589.3 572.0,588.9 573.0,590.0 574.0,591.4 575.0,590.0 576.0,590.2 577.0,590.6 578.0,590.6 579.0,590.7 580.0,591.2 581.0,591.5 582.0,591.6 583.0,592.2 584.0,592.4 585.0,589.4 586.0,591.8 587.0,591.3 588.0,590.9 589.0,589.5 590.0,592.1 591.0,591.5 592.0,591.1 593.0,591.5 594.0,591.4 595.0,590.9 596.0,591.5 597.0,592.0 598.0,591.2 599.0,590.9 600.0,592.3 601.0,590.5 602.0,588.2 603.0,590.3 604.0,590.4 605.0,590.0 606.0,590.0 607.0,588.1 607.6,586.1 608.0,585.9 608.1,586.1 608.6,584.9 609.0,584.8 609.1,583.8 609.6,582.9 610.0,582.4 610.1,582.1 610.6,581.6 611.0,582.5 611.1,581.7 611.6,581.0 612.0,581.5 612.1,581.3 612.6,581.5 613.0,582.6 613.1,583.0 613.6,583.1 614.0,584.1 614.1,583.8 614.6,584.5 615.0,585.2 615.1,585.9 615.6,586.6 616.0,586.4 617.0,588.1 618.0,589.5 619.0,588.7 620.0,590.7 621.0,591.2 622.0,592.6 623.0,591.7 624.0,591.1 625.0,592.0 626.0,591.5 627.0,590.4 628.0,590.7 629.0,592.1 630.0,591.1 631.0,590.8 632.0,590.9 633.0,591.6 634.0,592.1 635.0,591.5 636.0,592.6 637.0,590.9 638.0,592.1 639.0,591.4 640.0,590.7 641.0,591.4 642.0,591.9 643.0,591.9 644.0,590.1 645.0,592.6 646.0,591.7 647.0,593.1 648.0,590.8 649.0,592.5 650.0,593.0 651.0,594.5 652.0,592.5 653.0,591.5 654.0,591.6 655.0,592.8 656.0,591.3 657.0,591.8 658.0,591.8 659.0,591.1 660.0,590.6 661.0,591.3 662.0,591.9 663.0,591.6 664.0,591.2 665.0,592.5 666.0,592.5 667.0,592.9 668.0,591.7 669.0,592.7 670.0,592.1 671.0,592.8 672.0,592.6 673.0,591.1 674.0,591.7 675.0,591.8 676.0,591.2 677.0,590.7 678.0,593.1 679.0,592.2 680.0,591.0 681.0,593.2 682.0,589.7 683.0,591.5 684.0,592.1 685.0,590.4 686.0,593.3 687.0,594.4 688.0,591.0 689.0,591.6 690.0,589.8 691.0,593.9 692.0,591.0 693.0,591.2 694.0,591.7 695.0,591.2 696.0,593.1 697.0,590.1 698.0,588.6 699.0,589.9 700.0,589.3 701.0,589.7 702.0,588.7 703.0,585.4 704.0,585.1 705.0,581.7 706.0,576.8 707.0,571.9 707.6,568.7 708.0,566.3 708.1,565.7 708.6,562.9 709.0,560.6 709.1,560.2 709.6,557.3 710.0,555.4 710.1,554.9 710.6,553.1 711.0,552.1 711.1,552.0 711.6,551.7 712.0,551.9 712.1,552.0 712.6,553.2 713.0,554.6 713.1,554.5 713.6,557.2 714.0,559.5 714.1,560.0 714.6,562.9 715.0,565.2 715.1,566.1 715.6,568.9 716.0,570.9 717.0,576.3 718.0,581.7 719.0,583.9 720.0,586.3 721.0,590.0 722.0,588.9 723.0,591.1 724.0,588.9 725.0,590.6 726.0,590.7 727.0,590.9 728.0,591.6 729.0,588.7 730.0,592.3 731.0,592.4 732.0,591.6 733.0,592.0 734.0,591.6 735.0,591.1 736.0,591.1 737.0,591.7 738.0,592.7 739.0,591.8 740.0,591.8 741.0,590.8 742.0,590.0 743.0,591.4 744.0,591.9 745.0,591.1 746.0,591.0 747.0,592.2 748.0,591.0 749.0,591.3 750.0,591.0 751.0,591.5 752.0,595.0 753.0,588.9 754.0,592.4 755.0,591.5 756.0,592.0 757.0,591.2 758.0,590.2 759.0,592.9 760.0,591.8 761.0,590.4 762.0,592.6 763.0,592.3 764.0,590.1 765.0,590.8 766.0,592.7 767.0,591.3 768.0,591.1 769.0,592.1 770.0,592.0 771.0,591.2 772.0,591.5 773.0,591.1 774.0,591.3 775.0,588.4 776.0,592.3 777.0,591.4 778.0,592.0 779.0,592.3 780.0,589.7 781.0,590.3 782.0,593.0 783.0,589.4 784.0,589.9 785.0,590.1 786.0,590.1 787.0,588.8 788.0,586.8 789.0,584.8 790.0,581.4 791.0,579.0 792.0,573.3 793.0,566.6 793.9,559.3 794.0,558.6 794.4,555.1 794.9,550.9 795.0,550.0 795.4,546.8 795.9,542.8 796.0,542.2 796.4,539.6 796.9,537.1 797.0,536.7 797.4,535.4 797.9,534.7 798.0,534.9 798.4,535.4 798.9,536.9 799.0,537.4 799.4,539.6 799.9,542.8 800.0,543.7 800.4,546.6 800.9,551.0 801.0,551.8 801.4,555.0 801.9,559.5 802.0,560.1 803.0,568.1 804.0,575.0 805.0,579.6 806.0,583.7 807.0,585.9 808.0,587.1 809.0,589.2 810.0,590.3 811.0,590.1 812.0,590.0 813.0,590.0 814.0,589.5 815.0,591.8 816.0,589.5 817.0,590.5 818.0,591.9 819.0,590.8 820.0,590.9 821.0,591.0 822.0,591.5 823.0,591.3 824.0,592.7 825.0,591.4 826.0,591.5 827.0,591.3 828.0,593.1 829.0,590.6 830.0,591.7 831.0,591.9 832.0,591.7 833.0,592.3 834.0,591.0 835.0,590.9 836.0,592.4 837.0,591.2 838.0,591.3 839.0,591.5 840.0,592.6 841.0,592.2 842.0,591.3 843.0,591.7 844.0,591.4 845.0,590.5 846.0,591.9 847.0,591.1 848.0,591.2 849.0,592.8 850.0,590.7 851.0,590.6 852.0,589.6 853.0,587.7 854.0,588.9 854.5,588.0 855.0,587.2 855.5,586.9 856.0,586.5 856.5,586.6 857.0,587.3 857.5,584.6 858.0,585.4 858.5,585.6 859.0,584.8 859.5,585.6 860.0,585.9 860.5,586.0 861.0,588.1 861.5,586.3 862.0,587.4 862.5,587.8 863.0,588.3 864.0,589.0 865.0,589.7 866.0,590.4 867.0,591.5 868.0,591.2 869.0,590.0 870.0,590.6 871.0,591.4 872.0,592.7 873.0,591.9 874.0,590.2 875.0,592.3 876.0,592.4 877.0,592.9 878.0,591.5 879.0,592.4 880.0,591.2 881.0,591.9 882.0,592.1 883.0,592.1 884.0,592.4 885.0,591.6 886.0,592.5 887.0,591.7 888.0,589.4 889.0,591.5 890.0,591.2 891.0,592.3 892.0,593.2 893.0,590.7 894.0,589.8 895.0,593.2 896.0,591.4 897.0,592.6 898.0,590.8 899.0,592.0 900.0,591.3 901.0,590.8 902.0,590.7 903.0,590.7 904.0,591.2 905.0,590.5 906.0,590.9 907.0,591.1 908.0,591.1 909.0,591.0 910.0,590.1 911.0,591.3 912.0,591.1 913.0,590.2 914.0,590.5 915.0,590.6 916.0,589.6 917.0,589.9 918.0,589.5 919.0,589.3 920.0,587.8 921.0,588.7 922.0,588.0 923.0,585.2 924.0,584.3 925.0,581.9 926.0,577.5 927.0,570.7 928.0,562.2 929.0,550.3 930.0,535.2 930.7,523.4 931.0,518.1 931.2,514.4 931.7,505.3 932.0,500.1 932.2,496.7 932.7,488.6 933.0,484.2 933.2,481.8 933.7,476.2 934.0,473.9 934.2,472.8 934.7,471.6 935.0,472.1 935.2,472.7 935.7,476.3 936.0,479.2 936.2,481.7 936.7,488.7 937.0,493.2 937.2,496.7 937.7,505.5 938.0,510.8 938.2,514.4 938.7,523.2 939.0,528.6 940.0,544.6 941.0,557.8 942.0,567.9 943.0,575.3 944.0,580.4 945.0,583.5 946.0,585.7 947.0,587.0 948.0,588.9 949.0,587.2 950.0,588.2 951.0,589.8 952.0,589.6 953.0,589.7 954.0,587.7 955.0,591.8 956.0,591.5 957.0,592.1 958.0,590.8 959.0,590.6 960.0,590.8 961.0,589.5 962.0,592.2 963.0,592.1 964.0,592.0 965.0,594.4 966.0,592.2 967.0,592.3 968.0,590.7 969.0,590.6 970.0,594.4 971.0,591.1 972.0,593.2 973.0,592.1 974.0,592.0 975.0,592.1 976.0,590.5 977.0,592.0 978.0,592.1 979.0,592.5 980.0,591.9 981.0,592.1 982.0,592.3 983.0,591.1 984.0,591.4 985.0,591.8 986.0,592.8 987.0,589.3 988.0,592.5 989.0,592.2 990.0,591.8 991.0,589.2 992.0,591.8 993.0,591.2 994.0,592.2 995.0,592.3 996.0,590.8 997.0,589.6 998.0,590.4 999.0,589.3 1000.0,588.3 1000.7,587.0 1001.0,587.4 1001.2,586.1 1001.7,586.3 1002.0,586.7 1002.2,585.9 1002.7,585.7 1003.0,585.8 1003.2,584.9 1003.7,584.8 1004.0,584.7 1004.2,584.3 1004.7,583.1 1005.0,584.2 1005.2,584.8 1005.7,584.4 1006.0,585.1 1006.2,584.8 1006.7,585.6 1007.0,585.9 1007.2,586.2 1007.7,586.7 1008.0,586.9 1008.2,586.6 1008.7,586.7 1009.0,589.0 1010.0,590.0 1011.0,589.4 1012.0,590.4 1013.0,591.0 1014.0,590.9 1015.0,591.8 1016.0,590.4 1017.0,591.7 1017.6,590.8 1018.0,590.9 1018.1,589.5 1018.6,589.5 1019.0,589.4 1019.1,589.3 1019.6,588.7 1020.0,588.5 1020.1,588.8 1020.6,589.3 1021.0,589.4 1021.1,587.2 1021.6,589.4 1022.0,588.9 1022.1,589.4 1022.6,589.0 1023.0,588.9 1023.1,587.8 1023.6,588.5 1024.0,589.0 1024.1,589.5 1024.6,589.7 1025.0,588.8 1025.1,589.2 1025.6,591.1 1026.0,589.8 1027.0,591.5 1028.0,591.1 1029.0,592.4 1030.0,592.2 1031.0,592.3 1032.0,589.3 1033.0,591.7 1034.0,594.1 1035.0,591.4 1036.0,591.0 1037.0,592.1 1038.0,591.6 1039.0,592.3 1040.0,591.6 1041.0,592.2 1042.0,591.2 1043.0,590.5 1044.0,590.4 1045.0,590.4 1046.0,589.9 1047.0,589.9 1048.0,587.5 1049.0,584.7 1050.0,582.7 1050.6,580.1 1051.0,579.1 1051.1,578.9 1051.6,577.5 1052.0,576.3 1052.1,575.9 1052.6,574.4 1053.0,573.7 1053.1,573.0 1053.6,572.4 1054.0,572.0 1054.1,571.9 1054.6,572.1 1055.0,571.8 1055.1,572.0 1055.6,572.2 1056.0,573.0 1056.1,573.9 1056.6,574.5 1057.0,575.6 1057.1,575.8 1057.6,577.0 1058.0,578.7 1058.1,578.9 1058.6,580.7 1059.0,582.0 1060.0,584.3 1061.0,586.7 1062.0,587.5 1063.0,591.6 1064.0,590.6 1065.0,589.9 1066.0,591.8 1067.0,590.9 1068.0,592.6 1069.0,592.8 1070.0,591.9 1071.0,591.4 1072.0,592.5 1073.0,592.7 1074.0,593.8 1075.0,591.5 1076.0,593.0 1077.0,592.4 1078.0,591.5 1079.0,593.3 1080.0,592.5 1081.0,592.8 1082.0,592.8 1083.0,593.1 1084.0,592.0 1085.0,592.0 1086.0,592.3 1087.0,592.1 1088.0,593.1 1089.0,592.0 1090.0,592.9 1091.0,593.2 1092.0,591.3 1093.0,591.3 1094.0,591.2 1095.0,592.1 1096.0,592.6 1097.0,592.2 1098.0,592.2 1099.0,592.3 1100.0,592.7 1101.0,592.1 1102.0,590.0 1103.0,592.5 1104.0,592.8 1105.0,592.2 1106.0,594.6 1107.0,591.1 1108.0,593.6 1109.0,591.7 1110.0,594.3 1111.0,592.3 1112.0,592.5 1113.0,592.2 1114.0,591.2 1115.0,592.0 1116.0,591.9 1117.0,592.1 1118.0,592.1 1119.0,591.3 1120.0,590.3 1121.0,593.0 1122.0,591.2 1123.0,592.6 1124.0,590.5 1125.0,590.8 1126.0,592.1 1127.0,592.7 1128.0,592.3 1129.0,591.6 1130.0,591.0 1131.0,590.4 1132.0,589.7 1133.0,591.2 1134.0,588.7 1135.0,588.5 1136.0,586.5 1137.0,585.4 1138.0,582.3 1139.0,578.5 1140.0,573.6 1141.0,567.9 1142.0,560.5 1142.4,557.6 1142.9,553.6 1143.0,553.0 1143.4,550.1 1143.9,546.7 1144.0,545.5 1144.4,543.4 1144.9,540.7 1145.0,540.3 1145.4,538.6 1145.9,537.1 1146.0,537.1 1146.4,536.9 1146.9,537.3 1147.0,537.6 1147.4,538.6 1147.9,540.5 1148.0,541.1 1148.4,543.4 1148.9,546.6 1149.0,547.3 1149.4,549.9 1149.9,553.8 1150.0,554.5 1150.4,557.5 1151.0,561.9 1152.0,568.5 1153.0,574.7 1154.0,580.0 1155.0,583.0 1156.0,584.6 1157.0,587.7 1158.0,588.1 1159.0,590.6 1160.0,588.9 1161.0,589.6 1162.0,589.3 1163.0,591.0 1164.0,591.3 1165.0,590.8 1166.0,590.0 1167.0,592.8 1168.0,590.9 1169.0,590.8 1170.0,591.9 1171.0,590.9 1172.0,591.0 1173.0,592.8 1174.0,591.9 1175.0,591.0 1176.0,591.9 1177.0,590.7 1178.0,591.1 1179.0,591.3 1180.0,590.6 1181.0,589.0 1182.0,590.2 1183.0,588.5 1184.0,588.2 1185.0,585.7 1186.0,584.2 1187.0,581.0 1188.0,578.0 1189.0,573.9 1189.6,571.4 1190.0,569.3 1190.1,569.0 1190.6,566.9 1191.0,565.7 1191.1,564.7 1191.6,562.9 1192.0,561.6 1192.1,561.0 1192.6,560.0 1193.0,559.4 1193.1,559.3 1193.6,559.0 1194.0,559.2 1194.1,559.2 1194.6,559.8 1195.0,561.0 1195.1,561.4 1195.6,562.6 1196.0,564.7 1196.1,564.6 1196.6,566.9 1197.0,568.5 1197.1,569.1 1197.6,570.9 1198.0,573.0 1199.0,577.4 1200.0,581.9 1201.0,584.3 1202.0,585.8 1203.0,587.5 1204.0,589.1 1205.0,589.9 1206.0,591.0 1207.0,591.9 1208.0,591.7 1209.0,591.6 1210.0,590.7 1211.0,590.2 1212.0,591.3 1213.0,591.0 1214.0,591.2 1215.0,593.1 1216.0,592.3 1217.0,590.6 1218.0,591.9 1219.0,592.5 1220.0,591.4 1221.0,592.1 1222.0,591.8 1223.0,591.5 1224.0,591.6 1225.0,591.8 1226.0,592.3 1227.0,592.5 1228.0,592.1 1229.0,592.9 1230.0,593.9 1231.0,592.2 1232.0,592.5 1233.0,592.7 1234.0,591.5 1235.0,594.0 1236.0,592.7 1237.0,588.8 1238.0,593.0 1239.0,591.5 1240.0,589.3 1241.0,592.4 1242.0,591.7 1243.0,592.1 1244.0,593.3 1245.0,590.3 1246.0,592.5 1247.0,592.3 1248.0,592.8 1249.0,593.6 1250.0,593.7 1251.0,591.9 1252.0,590.6 1253.0,592.4 1254.0,592.2 1255.0,593.4 1256.0,595.0 1257.0,591.6 1258.0,592.4 1259.0,593.0 1260.0,591.5 1261.0,592.5 1262.0,592.5 1263.0,592.9 1264.0,591.6 1265.0,589.6 1266.0,592.6 1267.0,592.5 1268.0,590.4 1269.0,591.9 1270.0,588.9 1271.0,590.2 1272.0,588.8 1273.0,588.5 1273.4,586.6 1273.9,586.4 1274.0,586.8 1274.4,586.6 1274.9,586.0 1275.0,585.9 1275.4,584.2 1275.9,583.5 1276.0,584.3 1276.4,584.2 1276.9,584.5 1277.0,584.7 1277.4,584.3 1277.9,583.7 1278.0,583.7 1278.4,584.6 1278.9,584.6 1279.0,583.0 1279.4,584.5 1279.9,586.2 1280.0,585.9 1280.4,585.9 1280.9,586.9 1281.0,585.9 1281.4,587.0 1282.0,588.0 1283.0,588.2 1284.0,589.6 1285.0,591.1 1286.0,590.5 1287.0,591.8 1288.0,591.2 1289.0,591.3 1290.0,589.2 1291.0,590.7 1292.0,590.6 1293.0,590.9 1294.0,591.0 1295.0,588.4 1296.0,591.0 1297.0,588.4 1298.0,588.2 1299.0,586.1 1300.0,584.9 1300.7,583.1 1301.0,582.8 1301.2,582.8 1301.7,581.1 1302.0,581.4 1302.2,580.5 1302.7,579.6 1303.0,578.9 1303.2,579.0 1303.7,578.0 1304.0,578.2 1304.2,578.1 1304.7,577.7 1305.0,578.2 1305.2,578.1 1305.7,578.3 1306.0,579.0 1306.2,578.6 1306.7,579.1 1307.0,580.2 1307.2,580.8 1307.7,581.1 1308.0,581.9 1308.2,583.5 1308.7,584.0 1309.0,584.4 1310.0,586.5 1311.0,587.5 1312.0,586.9 1313.0,590.9 1314.0,591.7 1315.0,590.9 1316.0,591.6 1317.0,591.4 1318.0,590.7 1319.0,591.8 1320.0,592.3 1321.0,593.3 1322.0,593.5 1323.0,593.0 1324.0,591.7 1325.0,591.7 1326.0,591.6 1327.0,592.8 1328.0,590.4 1329.0,592.6 1330.0,593.2 1331.0,592.5 1332.0,592.3 1333.0,590.6 1334.0,591.0 1335.0,592.3 1336.0,592.6 1337.0,591.1 1338.0,592.4 1339.0,594.0 1340.0,595.7 1341.0,592.5 1342.0,592.3 1343.0,592.0 1344.0,593.1 1345.0,593.2 1346.0,595.0 1347.0,592.4 1348.0,592.4 1349.0,591.8 1350.0,592.7 1351.0,594.3 1352.0,590.6 1353.0,592.8 1354.0,594.9 1355.0,593.1 1356.0,595.6 1357.0,591.6 1358.0,592.1 1359.0,590.8 1360.0,592.7 1361.0,592.7 1362.0,592.7 1363.0,591.7 1364.0,591.7 1365.0,591.9 1366.0,592.1 1367.0,593.3 1368.0,589.7 1369.0,590.0 1369.7,588.1 1370.0,589.2 1370.2,589.2 1370.7,590.7 1371.0,588.7 1371.2,588.1 1371.7,587.8 1372.0,587.7 1372.2,588.4 1372.7,587.4 1373.0,588.4 1373.2,585.8 1373.7,588.2 1374.0,587.8 1374.2,585.6 1374.7,589.4 1375.0,587.4 1375.2,586.2 1375.7,587.9 1376.0,587.6 1376.2,586.7 1376.7,588.3 1377.0,589.4 1377.2,588.2 1377.7,589.4 1378.0,589.6 1379.0,591.8 1380.0,591.0 1381.0,591.5 1382.0,588.5 1383.0,589.5 1384.0,591.6 1385.0,591.9 1386.0,591.9 1387.0,591.5 1388.0,592.4 1389.0,592.2 1390.0,593.1 1391.0,591.9 1392.0,591.8 1393.0,592.7 1394.0,593.5 1395.0,593.1 1396.0,588.9 1397.0,591.4 1398.0,592.3 1399.0,592.2 1400.0,591.7 1401.0,591.7 1402.0,591.1 1403.0,591.2 1404.0,590.4 1405.0,591.0 1406.0,591.6 1407.0,589.7 1408.0,589.9 1409.0,588.6 1410.0,588.5 1411.0,586.9 1412.0,584.6 1413.0,583.0 1414.0,580.0 1415.0,576.3 1416.0,572.1 1417.0,566.5 1418.0,560.8 1419.0,554.2 1419.2,553.3 1419.7,550.3 1420.0,548.6 1420.2,547.5 1420.7,544.9 1421.0,543.5 1421.2,542.5 1421.7,540.6 1422.0,539.7 1422.2,539.2 1422.7,538.2 1423.0,537.9 1423.2,537.8 1423.7,538.1 1424.0,538.6 1424.2,539.0 1424.7,540.4 1425.0,541.5 1425.2,542.5 1425.7,544.6 1426.0,546.0 1426.2,547.2 1426.7,549.8 1427.0,551.7 1427.2,552.8 1428.0,557.5 1429.0,563.3 1430.0,568.5 1431.0,572.9 1432.0,576.4 1433.0,579.2 1434.0,580.9 1435.0,581.9 1436.0,581.2 1437.0,580.7 1438.0,579.3 1439.0,576.7 1440.0,574.0 1441.0,571.4 1442.0,568.2 1442.3,567.5 1442.8,565.9 1443.0,565.3 1443.3,564.4 1443.8,563.1 1444.0,562.8 1444.3,562.2 1444.8,561.5 1445.0,560.8 1445.3,560.5 1445.8,559.9 1446.0,559.9 1446.3,560.0 1446.8,559.9 1447.0,560.2 1447.3,561.1 1447.8,561.7 1448.0,561.7 1448.3,562.9 1448.8,563.7 1449.0,564.4 1449.3,564.7 1449.8,566.8 1450.0,567.0 1450.3,568.2 1451.0,570.0 1452.0,574.1 1453.0,577.2 1454.0,580.0 1455.0,582.9 1456.0,584.4 1457.0,586.4 1458.0,587.6 1459.0,589.1 1460.0,589.0 1461.0,589.3 1462.0,588.6 1463.0,588.9 1464.0,587.9 1464.8,587.3 1465.0,587.0 1465.3,586.2 1465.8,586.1 1466.0,585.8 1466.3,585.7 1466.8,585.1 1467.0,584.9 1467.3,585.1 1467.8,584.3 1468.0,583.0 1468.3,584.6 1468.8,583.9 1469.0,584.8 1469.3,583.9 1469.8,584.4 1470.0,584.3 1470.3,585.2 1470.8,586.0 1471.0,586.3 1471.3,586.0 1471.8,587.1 1472.0,586.6 1472.3,588.5 1472.8,589.3 1473.0,588.0 1474.0,589.6 1475.0,590.5 1476.0,591.2 1477.0,590.9 1478.0,592.0 1479.0,591.8 1480.0,591.9 1481.0,593.0 1482.0,593.1 1483.0,592.8 1484.0,593.1 1485.0,592.9 1486.0,592.9 1487.0,592.1 1488.0,594.6 1489.0,593.7 1490.0,592.6 1491.0,593.6 1492.0,594.6 1493.0,594.0 1494.0,594.7 1495.0,591.3 1496.0,593.9 1497.0,594.9 1498.0,593.1 1499.0,593.0 1500.0,593.6 1501.0,594.3 1502.0,592.8 1503.0,592.0 1504.0,594.1 1505.0,592.8 1506.0,591.7 1507.0,592.9 1508.0,593.9 1509.0,593.9 1510.0,593.2 1511.0,594.6 1512.0,594.4 1513.0,592.5 1514.0,596.7 1515.0,592.8 1516.0,595.5 1517.0,595.9 1518.0,593.2 1519.0,594.6 1520.0,594.0 1521.0,593.5 1522.0,591.0 1523.0,594.1 1524.0,593.8 1525.0,594.5 1526.0,594.2 1527.0,594.0 1528.0,594.4 1529.0,595.8 1530.0,591.8 1531.0,592.6 1532.0,594.0 1533.0,594.0 1534.0,594.0 1535.0,593.0 1536.0,594.2 1537.0,593.0 1538.0,594.1 1539.0,596.0 1540.0,594.4 1541.0,594.5 1542.0,595.0 1543.0,594.5 1544.0,594.2 1545.0,594.6 1546.0,594.5 1547.0,594.5 1548.0,594.1 1549.0,594.0 1550.0,594.3 1551.0,593.9 1552.0,592.6 1553.0,595.1 1554.0,594.8 1555.0,594.9 1556.0,591.9 1557.0,590.5 1558.0,592.4 1559.0,590.7 1560.0,592.0 1560.2,590.5 1560.7,590.0 1561.0,589.8 1561.2,589.8 1561.7,588.9 1562.0,588.4 1562.2,588.3 1562.7,588.2 1563.0,588.6 1563.2,588.4 1563.7,588.8 1564.0,588.9 1564.2,587.9 1564.7,588.7 1565.0,588.4 1565.2,588.4 1565.7,588.3 1566.0,588.8 1566.2,589.7 1566.7,588.7 1567.0,590.1 1567.2,590.9 1567.7,591.0 1568.0,591.3 1568.2,590.8 1569.0,592.0 1570.0,592.6 1571.0,592.5 1572.0,593.3 1573.0,594.6 1574.0,595.5 1575.0,594.5 1576.0,594.2 1577.0,594.6 1578.0,594.8 1579.0,595.8 1580.0,594.1 1581.0,593.5 1582.0,595.1 1583.0,594.2 1584.0,593.7 1585.0,596.9 1586.0,594.2 1587.0,594.7 1588.0,595.4 1589.0,595.1 1590.0,595.7 1591.0,594.3 1592.0,593.9 1593.0,595.2 1594.0,595.1 1595.0,594.9 1596.0,595.5 1597.0,593.9 1598.0,594.6 1599.0,594.9 1600.0,596.5 1601.0,594.5 1602.0,594.4 1603.0,594.3 1604.0,593.8 1605.0,593.7 1606.0,592.4 1607.0,590.8 1607.6,590.9 1608.0,590.2 1608.1,591.6 1608.6,590.3 1609.0,589.7 1609.1,589.9 1609.6,588.9 1610.0,588.6 1610.1,587.7 1610.6,588.3 1611.0,588.8 1611.1,587.4 1611.6,588.2 1612.0,586.7 1612.1,588.3 1612.6,588.4 1613.0,588.3 1613.1,588.6 1613.6,589.5 1614.0,589.5 1614.1,589.1 1614.6,587.6 1615.0,591.1 1615.1,590.0 1615.6,591.2 1616.0,591.2 1617.0,592.0 1618.0,595.8 1619.0,593.0 1620.0,594.2 1621.0,595.1 1622.0,594.4 1623.0,595.1 1624.0,594.2 1625.0,595.0 1626.0,594.1 1627.0,594.9 1628.0,595.4 1629.0,595.1 1630.0,595.7 1631.0,594.8 1632.0,595.3 1633.0,595.0 1634.0,595.2 1635.0,597.6 1636.0,592.9 1637.0,594.7 1638.0,593.8 1639.0,594.9 1640.0,595.9 1641.0,595.2 1642.0,593.8 1643.0,594.7 1644.0,595.7 1645.0,596.3 1646.0,594.8 1647.0,595.5 1648.0,594.2 1649.0,595.4 1650.0,595.3 1651.0,595.7 1652.0,595.6 1653.0,594.2 1654.0,595.3 1655.0,595.1 1656.0,593.0 1657.0,596.1 1658.0,595.1 1659.0,594.4 1660.0,596.0 1661.0,594.4 1662.0,595.1 1663.0,594.7 1664.0,594.2 1665.0,594.2 1666.0,595.7 1667.0,594.5 1668.0,594.5 1669.0,594.7 1670.0,595.3 1671.0,595.0 1672.0,597.4 1673.0,595.2 1674.0,592.9 1675.0,595.5 1676.0,595.1 1677.0,597.2 1678.0,594.7 1679.0,594.4 1680.0,594.3 1681.0,595.9 1682.0,593.9 1683.0,592.9 1684.0,592.3 1684.4,591.9 1684.9,592.1 1685.0,591.8 1685.4,592.6 1685.9,590.7 1686.0,591.1 1686.4,590.2 1686.9,590.5 1687.0,590.5 1687.4,590.2 1687.9,590.9 1688.0,590.5 1688.4,590.0 1688.9,588.4 1689.0,590.1 1689.4,590.2 1689.9,590.4 1690.0,589.3 1690.4,589.9 1690.9,590.4 1691.0,592.9 1691.4,590.4 1691.9,593.3 1692.0,590.7 1692.4,591.5 1693.0,591.8 1694.0,592.5 1695.0,594.3 1696.0,592.5 1697.0,595.6 1698.0,594.9 1699.0,593.8 1700.0,592.7 1701.0,594.1 1702.0,595.7 1703.0,594.3 1704.0,595.4 1705.0,594.2 1706.0,594.8 1707.0,594.0 1708.0,595.4 1709.0,591.9 1710.0,597.3 1711.0,594.6 1712.0,595.4 1713.0,595.0 1714.0,593.8 1715.0,595.5 1716.0,595.2 1717.0,593.9 1718.0,595.1 1719.0,595.3 1720.0,595.1 1721.0,594.9 1722.0,596.2 1723.0,595.1 1724.0,595.7 1725.0,594.0 1726.0,595.4 1727.0,595.8 1728.0,594.7 1729.0,594.8 1730.0,595.7 1731.0,597.0 1732.0,596.2 1733.0,596.2 1734.0,595.4 1735.0,595.6 1736.0,596.1 1737.0,595.5 1738.0,594.3 1739.0,595.9 1740.0,594.3 1741.0,595.3 1742.0,594.8 1743.0,596.2 1744.0,595.4 1745.0,595.1 1746.0,595.5 1747.0,596.5 1748.0,595.0 1749.0,596.2 1750.0,595.7 1751.0,596.1 1752.0,596.0 1753.0,596.6 1754.0,595.6 1755.0,596.3 1756.0,596.2 1757.0,594.0 1758.0,595.2 1759.0,596.0 1760.0,596.1 1761.0,595.3 1762.0,595.6 1763.0,594.9 1764.0,596.5 1765.0,595.6 1766.0,595.3 1767.0,595.8 1768.0,595.4 1769.0,593.3 1770.0,595.3 1771.0,595.3 1772.0,597.8 1773.0,596.3 1774.0,596.9 1775.0,597.2 1776.0,595.5 1777.0,596.2 1778.0,596.0 1779.0,595.9 1780.0,595.6 1781.0,596.2 1782.0,596.1 1783.0,595.5 1784.0,596.4 1785.0,594.8 1786.0,594.7 1787.0,597.8 1788.0,593.3 1789.0,595.0 1790.0,595.1 1791.0,596.8 1792.0,595.2 1793.0,596.0 1794.0,594.9 1795.0,596.0 1796.0,595.2 1797.0,595.4 1798.0,595.7 1799.0,596.7 1800.0,596.9 1801.0,593.2 1802.0,594.5 1803.0,595.8 1804.0,595.9 1805.0,595.1 1806.0,596.2 1807.0,595.8 1808.0,595.1 1809.0,595.6 1810.0,595.8 1811.0,594.7 1812.0,596.1 1813.0,596.9 1814.0,595.2 1815.0,596.1 1816.0,595.0 1817.0,596.6 1818.0,597.1 1819.0,597.2 1820.0,595.6 1821.0,595.6 1822.0,596.1 1823.0,596.4 1824.0,598.8 1825.0,595.2 1826.0,597.5 1827.0,597.0 1828.0,595.3 1829.0,594.7 1830.0,596.7 1831.0,596.1 1832.0,595.5 1833.0,599.8 1834.0,596.6 1835.0,597.3 1836.0,596.0 1837.0,593.4 1838.0,598.0 1839.0,594.3 1840.0,596.2 1841.0,595.8 1842.0,597.3 1843.0,597.1 1844.0,596.0 1845.0,595.8 1846.0,594.7 1847.0,595.7 1848.0,596.5 1849.0,596.0 1850.0,595.9 1851.0,596.4 1852.0,597.5 1853.0,595.6 1854.0,597.3 1855.0,596.4 1856.0,595.8"/>
<polyline fill="none" stroke="#0000ff" stroke-width="7" stroke-linejoin="round" stroke-linecap="round" points="174.0,773.4 175.0,773.2 176.0,772.4 177.0,773.1 178.0,772.2 179.0,773.7 180.0,773.1 181.0,773.1 182.0,772.6 183.0,774.2 184.0,771.7 185.0,772.5 186.0,770.5 187.0,773.4 188.0,771.4 189.0,769.7 190.0,772.6 191.0,772.5 192.0,772.0 193.0,773.3 194.0,772.6 195.0,773.3 196.0,771.2 197.0,771.1 198.0,773.9 199.0,773.4 200.0,772.7 201.0,773.7 202.0,772.9 203.0,774.1 204.0,772.8 205.0,773.3 206.0,774.1 207.0,776.1 208.0,773.8 209.0,774.5 210.0,773.3 211.0,775.7 212.0,774.9 213.0,774.0 214.0,774.4 215.0,774.1 216.0,774.7 217.0,774.2 218.0,774.5 219.0,775.4 220.0,774.5 221.0,774.2 222.0,774.5 223.0,774.0 224.0,773.9 225.0,774.6 226.0,775.3 227.0,776.4 228.0,772.7 229.0,775.2 230.0,774.9 231.0,775.6 232.0,775.2 233.0,775.0 234.0,772.4 235.0,775.3 236.0,775.2 237.0,776.1 238.0,776.1 239.0,776.9 240.0,777.5 241.0,775.0 242.0,773.9 243.0,774.9 244.0,776.3 245.0,775.9 246.0,777.0 247.0,775.3 248.0,773.9 249.0,772.7 250.0,775.6 251.0,774.1 252.0,774.2 253.0,775.7 254.0,772.7 255.0,777.3 256.0,775.9 257.0,775.2 258.0,776.0 259.0,775.8 260.0,775.6 261.0,776.6 262.0,776.2 263.0,773.9 264.0,775.2 265.0,777.0 266.0,777.4 267.0,776.0 268.0,776.4 269.0,776.0 270.0,776.1 271.0,776.1 272.0,775.8 273.0,776.0 274.0,773.9 275.0,776.2 276.0,776.5 277.0,776.8 278.0,776.2 279.0,775.9 280.0,777.6 281.0,776.9 282.0,777.0 283.0,773.5 284.0,776.3 285.0,775.9 286.0,777.2 287.0,773.5 288.0,777.2 289.0,776.4 290.0,775.6 291.0,776.1 292.0,776.9 293.0,778.5 294.0,772.8 295.0,776.7 296.0,777.3 297.0,774.5 298.0,776.9 299.0,775.3 300.0,773.0 301.0,776.7 302.0,779.7 303.0,777.0 304.0,777.4 305.0,775.1 306.0,777.7 307.0,777.2 308.0,776.3 309.0,777.3 310.0,778.1 311.0,778.1 312.0,777.9 313.0,777.6 314.0,777.8 315.0,777.6 316.0,778.3 317.0,778.2 318.0,778.4 319.0,777.3 320.0,777.1 321.0,778.1 322.0,778.9 323.0,777.4 324.0,778.7 325.0,777.5 326.0,777.9 327.0,778.6 328.0,778.4 329.0,778.3 330.0,778.1 331.0,780.2 332.0,777.9 333.0,778.6 334.0,778.7 335.0,778.3 336.0,778.6 337.0,777.2 338.0,778.3 339.0,776.9 340.0,778.5 341.0,779.4 342.0,778.7 343.0,778.1 344.0,779.0 345.0,777.7 346.0,775.8 347.0,777.6 348.0,778.2 349.0,777.8 350.0,778.5 351.0,778.2 352.0,776.8 353.0,775.1 354.0,778.2 355.0,778.1 356.0,777.4 357.0,777.1 358.0,778.4 359.0,777.3 360.0,777.0 361.0,778.4 362.0,777.6 363.0,778.1 364.0,778.6 365.0,778.5 366.0,777.2 367.0,775.2 368.0,778.7 369.0,776.6 370.0,777.3 371.0,777.3 372.0,777.7 373.0,777.1 374.0,774.3 375.0,776.4 376.0,776.7 377.0,776.5 378.0,775.4 379.0,776.2 380.0,771.2 381.0,775.3 382.0,773.5 383.0,773.2 384.0,773.4 385.0,770.8 386.0,767.2 387.0,761.3 388.0,752.1 389.0,738.1 389.2,734.9 389.7,725.9 390.0,720.4 390.2,716.8 390.7,706.6 391.0,700.7 391.2,696.9 391.7,687.8 392.0,683.3 392.2,680.6 392.7,675.8 393.0,674.5 393.2,674.2 393.7,675.8 394.0,678.4 394.2,680.6 394.7,688.0 395.0,693.1 395.2,696.7 395.7,706.5 396.0,712.5 396.2,716.4 396.7,725.9 397.0,731.5 397.2,734.8 398.0,746.7 399.0,758.2 400.0,765.4 401.0,769.5 402.0,772.1 403.0,773.2 404.0,773.5 405.0,774.2 406.0,774.9 407.0,775.1 408.0,778.1 409.0,775.8 410.0,776.7 411.0,777.0 412.0,772.3 413.0,776.4 414.0,775.4 415.0,776.8 416.0,775.9 417.0,778.2 418.0,777.8 419.0,777.0 420.0,778.9 421.0,778.0 422.0,776.3 423.0,776.9 424.0,775.4 425.0,776.6 426.0,777.7 427.0,776.8 428.0,778.4 429.0,777.0 430.0,776.1 431.0,776.2 432.0,776.7 433.0,777.5 434.0,776.6 435.0,778.3 436.0,777.3 437.0,778.7 438.0,776.5 439.0,778.5 440.0,776.9 441.0,777.2 442.0,779.3 443.0,778.5 444.0,777.4 445.0,777.6 446.0,778.0 447.0,776.7 448.0,778.4 449.0,777.1 450.0,777.8 451.0,778.0 452.0,776.1 453.0,778.9 454.0,776.5 455.0,777.4 456.0,779.6 457.0,776.3 458.0,776.1 459.0,776.1 460.0,781.1 461.0,776.8 462.0,779.1 463.0,779.5 464.0,777.4 465.0,778.3 466.0,777.2 467.0,778.1 468.0,778.1 469.0,777.4 470.0,778.0 471.0,776.2 472.0,778.0 473.0,776.9 474.0,778.9 475.0,776.5 476.0,775.1 477.0,776.4 478.0,776.5 479.0,775.3 480.0,776.7 481.0,776.5 482.0,777.9 483.0,779.0 484.0,777.9 485.0,777.5 486.0,779.2 487.0,777.4 488.0,778.6 489.0,776.6 490.0,778.6 491.0,778.2 492.0,775.7 493.0,777.7 494.0,776.6 495.0,778.0 496.0,775.3 497.0,777.6 498.0,777.4 499.0,776.1 500.0,774.3 501.0,778.5 502.0,778.2 503.0,778.2 504.0,778.2 505.0,777.4 506.0,776.2 507.0,776.6 508.0,779.5 509.0,777.5 510.0,779.6 511.0,778.0 512.0,778.5 513.0,777.9 514.0,776.2 515.0,777.4 516.0,777.9 517.0,778.8 518.0,779.9 519.0,778.6 520.0,778.2 521.0,776.9 522.0,777.1 523.0,776.6 524.0,777.3 525.0,777.5 526.0,773.6 527.0,777.3 528.0,776.9 529.0,777.6 530.0,777.2 531.0,778.2 532.0,777.8 533.0,777.6 534.0,777.4 535.0,775.5 536.0,777.4 537.0,777.7 538.0,777.2 539.0,777.6 540.0,777.7 541.0,776.8 542.0,775.9 543.0,776.4 544.0,775.3 545.0,776.2 546.0,775.3 547.0,776.4 548.0,776.3 549.0,771.8 550.0,773.7 551.0,773.2 552.0,771.0 553.0,768.7 554.0,764.1 555.0,758.0 555.9,751.4 556.0,750.4 556.4,746.7 556.9,742.7 557.0,741.7 557.4,738.2 557.9,733.7 558.0,733.2 558.4,730.4 558.9,727.2 559.0,727.0 559.4,725.8 559.9,724.8 560.0,724.8 560.4,725.4 560.9,727.2 561.0,727.9 561.4,730.5 561.9,734.0 562.0,734.8 562.4,738.1 562.9,742.0 563.0,743.4 563.4,747.1 563.9,751.4 564.0,752.1 565.0,759.5 566.0,765.0 567.0,769.7 568.0,772.5 569.0,775.2 570.0,774.6 571.0,775.9 572.0,775.4 573.0,776.5 574.0,779.1 575.0,777.5 576.0,778.3 577.0,777.6 578.0,775.1 579.0,775.4 580.0,777.0 581.0,775.6 582.0,777.3 583.0,777.7 584.0,776.0 585.0,778.3 586.0,776.2 587.0,776.8 588.0,778.0 589.0,776.6 590.0,774.0 591.0,777.9 592.0,777.2 593.0,775.4 594.0,776.6 595.0,777.8 596.0,777.3 597.0,776.3 598.0,776.1 599.0,778.2 600.0,776.9 601.0,776.8 602.0,775.6 603.0,775.3 604.0,776.1 605.0,775.4 605.9,775.9 606.0,777.4 606.4,773.0 606.9,774.2 607.0,773.8 607.4,773.3 607.9,771.7 608.0,774.6 608.4,771.3 608.9,771.9 609.0,772.3 609.4,772.8 609.9,773.3 610.0,772.9 610.4,772.6 610.9,772.4 611.0,773.0 611.4,772.7 611.9,772.8 612.0,773.0 612.4,773.8 612.9,773.7 613.0,772.1 613.4,772.9 613.9,774.5 614.0,774.6 615.0,775.9 616.0,776.1 617.0,777.5 618.0,776.1 619.0,776.4 620.0,777.5 621.0,777.2 622.0,776.1 623.0,775.1 624.0,777.3 625.0,776.9 626.0,777.4 627.0,776.5 628.0,775.9 629.0,779.7 630.0,776.3 631.0,778.0 632.0,777.2 633.0,776.5 634.0,776.5 635.0,776.4 636.0,777.4 637.0,775.0 638.0,779.7 639.0,776.5 640.0,777.4 641.0,778.2 642.0,778.7 643.0,776.9 644.0,778.4 645.0,778.0 646.0,774.8 647.0,777.9 648.0,777.1 649.0,776.8 650.0,778.0 651.0,777.3 652.0,778.4 653.0,777.0 654.0,777.4 655.0,778.6 656.0,777.8 657.0,779.1 658.0,778.3 659.0,778.8 660.0,777.8 661.0,778.6 662.0,778.4 663.0,777.7 664.0,779.8 665.0,778.6 666.0,780.7 667.0,776.5 668.0,776.8 669.0,778.3 670.0,777.3 671.0,778.5 672.0,776.2 673.0,776.7 674.0,777.7 675.0,777.3 676.0,777.1 677.0,776.5 678.0,776.6 679.0,777.4 680.0,777.6 681.0,777.5 682.0,776.3 683.0,777.2 684.0,779.2 685.0,776.9 686.0,776.7 687.0,776.8 688.0,776.2 689.0,775.5 690.0,776.8 691.0,778.4 692.0,777.3 693.0,776.6 694.0,777.2 695.0,776.1 696.0,777.2 697.0,776.0 698.0,777.2 699.0,777.1 700.0,773.4 701.0,776.3 702.0,775.6 703.0,775.4 704.0,776.0 705.0,774.4 706.0,771.9 707.0,769.7 708.0,767.8 709.0,765.4 709.5,763.5 710.0,761.9 710.5,761.0 711.0,759.5 711.5,758.9 712.0,757.9 712.5,757.4 713.0,757.4 713.5,757.4 714.0,757.8 714.5,758.7 715.0,759.6 715.5,760.7 716.0,762.4 716.5,762.9 717.0,764.0 718.0,767.6 719.0,769.4 720.0,772.3 721.0,774.4 722.0,775.4 723.0,775.4 724.0,774.9 725.0,777.5 726.0,776.6 727.0,777.8 728.0,776.9 729.0,777.1 730.0,776.3 731.0,776.8 732.0,775.2 733.0,777.6 734.0,776.7 735.0,778.1 736.0,775.7 737.0,779.1 738.0,777.7 739.0,778.0 740.0,778.1 741.0,777.3 742.0,777.4 743.0,777.7 744.0,778.1 745.0,777.9 746.0,776.8 747.0,778.1 748.0,778.1 749.0,778.6 750.0,777.8 751.0,775.6 752.0,779.5 753.0,777.4 754.0,778.3 755.0,775.2 756.0,779.4 757.0,776.7 758.0,778.3 759.0,778.0 760.0,777.4 761.0,776.9 762.0,773.5 763.0,777.2 764.0,778.0 765.0,776.9 766.0,776.9 767.0,777.9 768.0,779.8 769.0,776.5 770.0,777.5 771.0,775.6 772.0,776.1 773.0,777.7 774.0,776.2 775.0,776.1 776.0,775.8 777.0,776.0 778.0,777.1 779.0,774.9 780.0,777.5 781.0,776.7 782.0,775.6 783.0,777.1 784.0,774.0 785.0,773.9 786.0,774.1 787.0,773.1 788.0,771.0 789.0,768.4 790.0,766.6 791.0,761.8 791.4,760.2 791.9,758.3 792.0,757.0 792.4,756.5 792.9,754.8 793.0,754.3 793.4,753.3 793.9,752.0 794.0,751.7 794.4,750.9 794.9,750.3 795.0,750.2 795.4,749.8 795.9,750.3 796.0,750.6 796.4,750.7 796.9,751.9 797.0,752.2 797.4,753.5 797.9,754.7 798.0,755.9 798.4,756.3 798.9,758.3 799.0,758.8 799.4,760.0 800.0,762.3 801.0,765.7 802.0,769.6 803.0,772.1 804.0,773.5 805.0,776.9 806.0,776.2 807.0,775.6 808.0,776.5 809.0,775.8 810.0,776.7 811.0,776.6 812.0,779.1 813.0,776.2 814.0,775.9 815.0,776.3 816.0,777.3 817.0,779.1 818.0,776.8 819.0,777.0 820.0,777.0 821.0,776.6 822.0,776.5 823.0,776.3 824.0,776.6 825.0,776.8 826.0,777.8 827.0,777.1 828.0,777.6 829.0,775.5 830.0,778.0 831.0,778.4 832.0,776.9 833.0,777.4 834.0,777.5 835.0,778.2 836.0,777.6 837.0,779.3 838.0,776.4 839.0,778.4 840.0,777.2 841.0,777.7 842.0,777.4 843.0,776.6 844.0,778.5 845.0,776.7 846.0,776.4 847.0,777.3 848.0,777.3 849.0,775.9 850.0,776.5 851.0,774.5 852.0,773.8 852.8,772.4 853.0,772.2 853.3,773.5 853.8,772.5 854.0,773.7 854.3,773.1 854.8,774.2 855.0,772.7 855.3,773.7 855.8,773.4 856.0,772.8 856.3,774.0 856.8,775.3 857.0,773.4 857.3,773.7 857.8,774.1 858.0,772.4 858.3,774.6 858.8,773.1 859.0,773.1 859.3,773.0 859.8,773.6 860.0,774.0 860.3,773.3 860.8,776.1 861.0,777.7 862.0,775.8 863.0,776.8 864.0,776.2 865.0,776.5 866.0,776.8 867.0,776.5 868.0,776.9 869.0,775.9 870.0,776.8 871.0,777.4 872.0,777.0 873.0,776.5 874.0,776.9 875.0,777.7 876.0,777.1 877.0,777.4 878.0,778.5 879.0,777.2 880.0,777.1 881.0,778.0 882.0,776.7 883.0,777.3 884.0,773.5 885.0,777.7 886.0,777.1 887.0,777.0 888.0,777.4 889.0,778.0 890.0,779.0 891.0,776.6 892.0,777.1 893.0,776.1 894.0,778.5 895.0,776.7 896.0,777.1 897.0,777.1 898.0,776.9 899.0,777.6 900.0,776.9 901.0,777.9 902.0,778.6 903.0,776.9 904.0,777.5 905.0,777.4 906.0,778.1 907.0,777.7 908.0,777.8 909.0,775.8 910.0,777.7 911.0,777.3 912.0,776.1 913.0,776.2 914.0,777.5 915.0,775.8 916.0,776.6 917.0,777.0 918.0,777.7 919.0,778.4 920.0,776.4 921.0,776.1 922.0,774.8 923.0,775.5 924.0,775.4 925.0,773.9 926.0,771.6 927.0,772.0 928.0,769.4 929.0,766.0 930.0,761.1 931.0,754.5 932.0,745.8 932.8,738.4 933.0,736.4 933.3,733.4 933.8,728.2 934.0,726.0 934.3,723.1 934.8,718.5 935.0,716.9 935.3,714.6 935.8,711.6 936.0,710.7 936.3,709.7 936.8,709.0 937.0,708.8 937.3,709.6 937.8,711.7 938.0,712.8 938.3,714.7 938.8,718.6 939.0,720.5 939.3,723.3 939.8,728.1 940.0,730.3 940.3,733.1 940.8,738.3 941.0,740.4 942.0,749.6 943.0,757.2 944.0,763.9 945.0,767.4 946.0,771.0 947.0,771.7 948.0,772.5 949.0,772.0 950.0,775.0 951.0,775.7 952.0,776.7 953.0,775.0 954.0,775.1 955.0,775.4 956.0,774.5 957.0,777.9 958.0,777.0 959.0,776.4 960.0,776.8 961.0,777.1 962.0,777.2 963.0,777.1 964.0,777.0 965.0,774.9 966.0,776.7 967.0,777.3 968.0,776.1 969.0,776.3 970.0,776.9 971.0,776.8 972.0,777.4 973.0,777.5 974.0,778.1 975.0,777.9 976.0,776.8 977.0,777.4 978.0,776.7 979.0,777.1 980.0,780.0 981.0,778.8 982.0,778.1 983.0,777.1 984.0,777.8 985.0,777.8 986.0,777.1 987.0,777.4 988.0,775.2 989.0,776.7 990.0,776.9 991.0,776.9 992.0,778.0 993.0,777.2 994.0,777.3 995.0,776.2 996.0,775.8 997.0,772.6 998.0,774.4 999.0,774.9 1000.0,774.6 1000.7,773.8 1001.0,773.2 1001.2,772.7 1001.7,773.5 1002.0,775.1 1002.2,772.8 1002.7,771.5 1003.0,771.4 1003.2,772.5 1003.7,772.2 1004.0,772.7 1004.2,771.9 1004.7,772.2 1005.0,772.9 1005.2,772.1 1005.7,775.1 1006.0,772.5 1006.2,772.3 1006.7,772.4 1007.0,773.2 1007.2,774.0 1007.7,774.0 1008.0,773.8 1008.2,773.4 1008.7,774.0 1009.0,774.4 1010.0,774.0 1011.0,774.6 1012.0,775.9 1013.0,778.3 1014.0,777.5 1015.0,777.4 1016.0,777.1 1017.0,776.5 1018.0,777.3 1019.0,779.3 1020.0,775.9 1021.0,778.1 1022.0,779.0 1023.0,777.1 1024.0,777.2 1025.0,778.1 1026.0,775.7 1027.0,776.4 1028.0,778.3 1029.0,777.6 1030.0,777.5 1031.0,777.8 1032.0,776.1 1033.0,776.9 1034.0,778.4 1035.0,777.0 1036.0,777.6 1037.0,777.1 1038.0,776.1 1039.0,777.8 1040.0,776.9 1041.0,776.9 1042.0,776.5 1043.0,776.9 1044.0,776.7 1045.0,776.9 1046.0,774.8 1047.0,776.0 1048.0,776.1 1049.0,774.7 1050.0,773.9 1051.0,775.0 1052.0,772.7 1053.0,769.5 1053.4,769.8 1053.9,768.9 1054.0,769.4 1054.4,768.5 1054.9,768.5 1055.0,767.2 1055.4,767.1 1055.9,767.3 1056.0,767.1 1056.4,765.9 1056.9,765.1 1057.0,766.6 1057.4,765.0 1057.9,766.5 1058.0,765.7 1058.4,766.7 1058.9,766.5 1059.0,768.1 1059.4,768.0 1059.9,768.2 1060.0,767.3 1060.4,768.5 1060.9,770.0 1061.0,769.7 1061.4,770.2 1062.0,770.0 1063.0,774.0 1064.0,773.1 1065.0,774.5 1066.0,776.0 1067.0,776.5 1068.0,776.1 1069.0,776.6 1070.0,776.7 1071.0,777.6 1072.0,776.7 1073.0,778.1 1074.0,775.8 1075.0,778.8 1076.0,777.6 1077.0,778.2 1078.0,778.8 1079.0,777.7 1080.0,776.9 1081.0,777.2 1082.0,779.1 1083.0,779.9 1084.0,776.8 1085.0,776.6 1086.0,777.4 1087.0,780.9 1088.0,776.9 1089.0,776.3 1090.0,776.9 1091.0,776.1 1092.0,775.4 1093.0,777.7 1094.0,776.7 1095.0,777.3 1096.0,777.7 1097.0,776.4 1098.0,778.4 1099.0,776.4 1100.0,777.5 1101.0,777.8 1102.0,777.3 1103.0,777.7 1104.0,778.9 1105.0,777.3 1106.0,775.9 1107.0,778.5 1108.0,776.0 1109.0,778.3 1110.0,776.4 1111.0,777.1 1112.0,775.1 1113.0,777.0 1114.0,778.0 1115.0,776.2 1116.0,776.5 1117.0,777.1 1118.0,776.6 1119.0,779.2 1120.0,776.5 1121.0,777.0 1122.0,776.3 1123.0,776.6 1124.0,777.6 1125.0,777.2 1126.0,777.8 1127.0,775.3 1128.0,776.3 1129.0,775.4 1130.0,777.3 1131.0,775.6 1132.0,775.1 1133.0,776.8 1134.0,774.5 1135.0,774.9 1136.0,773.1 1137.0,770.9 1138.0,769.7 1139.0,765.5 1140.0,763.7 1140.7,761.5 1141.0,760.7 1141.2,759.3 1141.7,758.0 1142.0,757.1 1142.2,756.7 1142.7,755.3 1143.0,754.0 1143.2,753.7 1143.7,753.3 1144.0,752.9 1144.2,753.1 1144.7,752.2 1145.0,752.1 1145.2,753.2 1145.7,753.1 1146.0,753.5 1146.2,753.9 1146.7,754.9 1147.0,755.8 1147.2,756.6 1147.7,758.5 1148.0,758.9 1148.2,760.0 1148.7,761.7 1149.0,762.4 1150.0,765.0 1151.0,768.5 1152.0,771.3 1153.0,773.7 1154.0,774.2 1155.0,774.4 1156.0,775.6 1157.0,775.7 1158.0,776.4 1159.0,776.1 1160.0,776.8 1161.0,775.5 1162.0,772.4 1163.0,776.1 1164.0,776.9 1165.0,778.4 1166.0,776.8 1167.0,778.3 1168.0,777.7 1169.0,777.6 1170.0,776.6 1171.0,777.3 1172.0,776.0 1173.0,775.3 1174.0,773.2 1175.0,777.0 1176.0,777.3 1177.0,777.7 1178.0,776.8 1179.0,777.9 1180.0,776.0 1181.0,776.2 1182.0,776.4 1183.0,775.4 1184.0,777.0 1185.0,775.8 1186.0,776.2 1187.0,774.5 1188.0,774.9 1189.0,772.7 1190.0,773.2 1191.0,770.9 1192.0,770.4 1193.0,768.2 1194.0,765.6 1194.5,765.3 1195.0,765.5 1195.5,762.7 1196.0,762.0 1196.5,761.7 1197.0,760.8 1197.5,759.8 1198.0,760.5 1198.5,760.8 1199.0,761.0 1199.5,762.1 1200.0,762.2 1200.5,762.9 1201.0,763.8 1201.5,764.8 1202.0,766.0 1203.0,767.7 1204.0,770.7 1205.0,771.1 1206.0,773.9 1207.0,774.8 1208.0,774.5 1209.0,775.7 1210.0,775.8 1211.0,776.8 1212.0,776.2 1213.0,777.7 1214.0,776.7 1215.0,775.7 1216.0,780.4 1217.0,776.0 1218.0,778.6 1219.0,777.7 1220.0,776.0 1221.0,777.3 1222.0,776.1 1223.0,777.4 1224.0,777.4 1225.0,776.4 1226.0,777.0 1227.0,777.5 1228.0,778.2 1229.0,778.1 1230.0,778.2 1231.0,779.0 1232.0,776.5 1233.0,774.9 1234.0,777.4 1235.0,777.8 1236.0,777.1 1237.0,778.1 1238.0,777.0 1239.0,777.1 1240.0,776.9 1241.0,775.2 1242.0,778.0 1243.0,776.9 1244.0,777.0 1245.0,776.5 1246.0,778.7 1247.0,777.5 1248.0,773.4 1249.0,778.6 1250.0,776.3 1251.0,776.6 1252.0,777.1 1253.0,778.5 1254.0,778.8 1255.0,777.1 1256.0,779.3 1257.0,777.4 1258.0,778.3 1259.0,774.7 1260.0,777.2 1261.0,776.7 1262.0,777.5 1263.0,777.9 1264.0,777.0 1265.0,778.1 1266.0,778.1 1267.0,775.9 1268.0,777.8 1269.0,776.3 1270.0,777.1 1271.0,773.7 1272.0,776.8 1273.0,777.0 1274.0,778.8 1275.0,778.6 1276.0,778.7 1277.0,774.3 1278.0,778.5 1279.0,778.4 1280.0,778.5 1281.0,777.7 1282.0,776.3 1283.0,775.9 1284.0,777.6 1285.0,777.6 1286.0,777.7 1287.0,777.3 1288.0,777.2 1289.0,776.7 1290.0,777.4 1291.0,776.1 1292.0,777.7 1293.0,776.0 1294.0,774.9 1295.0,775.7 1296.0,773.6 1297.0,772.9 1298.0,772.1 1298.6,771.5 1299.0,770.6 1299.1,770.3 1299.6,769.0 1300.0,770.2 1300.1,769.1 1300.6,769.4 1301.0,769.3 1301.1,769.3 1301.6,767.8 1302.0,768.1 1302.1,767.9 1302.6,767.1 1303.0,767.5 1303.1,767.3 1303.6,768.0 1304.0,768.3 1304.1,767.8 1304.6,768.8 1305.0,769.9 1305.1,769.4 1305.6,771.2 1306.0,770.6 1306.1,770.6 1306.6,770.2 1307.0,771.3 1308.0,772.6 1309.0,774.1 1310.0,772.3 1311.0,776.0 1312.0,775.1 1313.0,776.9 1314.0,775.1 1315.0,777.0 1316.0,778.4 1317.0,776.8 1318.0,778.5 1319.0,777.9 1320.0,778.1 1321.0,777.1 1322.0,777.2 1323.0,777.2 1324.0,773.9 1325.0,775.8 1326.0,777.2 1327.0,778.0 1328.0,777.9 1329.0,777.9 1330.0,777.6 1331.0,776.9 1332.0,777.9 1333.0,778.4 1334.0,777.0 1335.0,775.9 1336.0,778.7 1337.0,776.8 1338.0,777.5 1339.0,778.7 1340.0,777.5 1341.0,777.5 1342.0,779.3 1343.0,777.0 1344.0,776.8 1345.0,778.9 1346.0,778.1 1347.0,776.8 1348.0,777.9 1349.0,777.8 1350.0,778.6 1351.0,778.7 1352.0,778.2 1353.0,776.4 1354.0,778.8 1355.0,778.3 1356.0,780.1 1357.0,777.3 1358.0,777.5 1359.0,778.3 1360.0,776.7 1361.0,777.8 1362.0,777.5 1363.0,778.5 1364.0,778.1 1365.0,777.0 1366.0,774.3 1367.0,777.7 1368.0,777.8 1369.0,777.9 1370.0,778.8 1371.0,775.7 1372.0,777.1 1373.0,777.9 1374.0,777.1 1375.0,776.7 1376.0,776.6 1377.0,777.3 1378.0,777.7 1379.0,777.1 1380.0,776.0 1381.0,777.7 1382.0,777.1 1383.0,774.9 1384.0,776.6 1385.0,776.9 1386.0,779.5 1387.0,777.6 1388.0,778.2 1389.0,777.5 1390.0,777.9 1391.0,779.9 1392.0,777.7 1393.0,776.4 1394.0,777.8 1395.0,776.9 1396.0,776.3 1397.0,776.2 1398.0,776.9 1399.0,776.2 1400.0,777.1 1401.0,777.0 1402.0,777.6 1403.0,778.6 1404.0,778.3 1405.0,776.7 1406.0,775.5 1407.0,776.5 1408.0,777.2 1409.0,777.5 1410.0,777.1 1411.0,774.8 1412.0,776.6 1413.0,777.1 1414.0,774.7 1415.0,775.7 1416.0,774.4 1417.0,774.1 1418.0,773.4 1419.0,771.0 1420.0,769.7 1421.0,764.9 1422.0,760.2 1422.9,755.5 1423.0,754.3 1423.4,752.6 1423.9,749.4 1424.0,748.8 1424.4,746.7 1424.9,744.0 1425.0,743.7 1425.4,741.9 1425.9,739.9 1426.0,739.7 1426.4,738.6 1426.9,738.4 1427.0,737.9 1427.4,739.0 1427.9,739.8 1428.0,739.9 1428.4,741.4 1428.9,743.1 1429.0,744.0 1429.4,745.7 1429.9,748.9 1430.0,749.4 1430.4,751.1 1430.9,753.7 1431.0,754.6 1432.0,759.8 1433.0,763.4 1434.0,765.8 1435.0,767.8 1436.0,768.1 1437.0,768.5 1438.0,770.3 1439.0,767.4 1440.0,767.0 1441.0,765.4 1441.5,765.1 1442.0,764.5 1442.5,763.6 1443.0,763.9 1443.5,762.9 1444.0,763.2 1444.5,763.2 1445.0,762.8 1445.5,762.8 1446.0,762.8 1446.5,763.0 1447.0,763.9 1447.5,763.7 1448.0,763.6 1448.5,763.5 1449.0,765.9 1449.5,765.9 1450.0,766.6 1451.0,767.6 1452.0,769.2 1453.0,770.4 1454.0,771.8 1455.0,772.8 1456.0,774.9 1457.0,774.5 1458.0,773.5 1459.0,774.1 1460.0,776.4 1461.0,779.4 1462.0,775.8 1463.0,777.0 1464.0,776.0 1465.0,776.8 1466.0,777.2 1467.0,776.8 1468.0,776.2 1469.0,777.8 1470.0,777.6 1471.0,777.1 1472.0,775.6 1473.0,779.4 1474.0,776.9 1475.0,777.4 1476.0,776.9 1477.0,778.4 1478.0,776.6 1479.0,778.1 1480.0,778.1 1481.0,777.1 1482.0,775.9 1483.0,778.1 1484.0,778.1 1485.0,777.9 1486.0,780.2 1487.0,777.9 1488.0,778.7 1489.0,778.6 1490.0,779.3 1491.0,779.3 1492.0,778.7 1493.0,778.6 1494.0,777.7 1495.0,778.8 1496.0,778.1 1497.0,777.9 1498.0,777.4 1499.0,778.9 1500.0,778.3 1501.0,776.8 1502.0,777.7 1503.0,778.3 1504.0,777.9 1505.0,777.2 1506.0,776.8 1507.0,777.8 1508.0,776.9 1509.0,777.7 1510.0,777.9 1511.0,780.6 1512.0,779.4 1513.0,778.5 1514.0,778.7 1515.0,778.3 1516.0,776.7 1517.0,779.8 1518.0,778.6 1519.0,780.6 1520.0,779.1 1521.0,779.0 1522.0,778.5 1523.0,777.2 1524.0,778.9 1525.0,778.0 1526.0,778.7 1527.0,778.9 1528.0,778.7 1529.0,778.7 1530.0,781.7 1531.0,779.4 1532.0,777.4 1533.0,778.7 1534.0,777.6 1535.0,777.4 1536.0,779.4 1537.0,779.3 1538.0,779.5 1539.0,778.7 1540.0,776.9 1541.0,778.4 1542.0,780.1 1543.0,777.2 1544.0,779.3 1545.0,778.8 1546.0,780.0 1547.0,779.5 1548.0,779.8 1549.0,778.2 1550.0,778.3 1551.0,775.8 1552.0,779.0 1553.0,779.0 1554.0,778.0 1555.0,779.2 1556.0,778.7 1557.0,777.7 1558.0,778.5 1559.0,777.3 1560.0,777.0 1561.0,776.4 1561.3,775.9 1561.8,776.4 1562.0,775.8 1562.3,775.2 1562.8,775.0 1563.0,776.7 1563.3,775.7 1563.8,777.5 1564.0,775.9 1564.3,774.6 1564.8,774.5 1565.0,775.7 1565.3,775.8 1565.8,775.2 1566.0,775.2 1566.3,775.7 1566.8,774.2 1567.0,775.9 1567.3,776.9 1567.8,775.4 1568.0,775.2 1568.3,776.9 1568.8,776.3 1569.0,777.2 1569.3,775.7 1570.0,777.4 1571.0,777.9 1572.0,777.0 1573.0,777.4 1574.0,778.4 1575.0,777.2 1576.0,778.0 1577.0,779.5 1578.0,778.5 1579.0,779.5 1580.0,779.3 1581.0,779.5 1582.0,778.9 1583.0,778.8 1584.0,779.8 1585.0,779.6 1586.0,777.4 1587.0,779.9 1588.0,778.8 1589.0,778.3 1590.0,778.8 1591.0,779.5 1592.0,778.5 1593.0,778.8 1594.0,778.5 1595.0,778.4 1596.0,780.1 1597.0,778.0 1598.0,780.4 1599.0,779.3 1600.0,778.6 1601.0,779.2 1602.0,777.9 1603.0,778.2 1604.0,779.5 1605.0,778.8 1606.0,778.4 1607.0,778.7 1608.0,778.2 1609.0,778.6 1610.0,777.1 1611.0,776.9 1612.0,776.3 1612.8,776.9 1613.0,776.7 1613.3,776.2 1613.8,777.6 1614.0,774.8 1614.3,775.6 1614.8,775.1 1615.0,773.7 1615.3,775.7 1615.8,776.3 1616.0,775.6 1616.3,775.6 1616.8,772.5 1617.0,774.7 1617.3,775.2 1617.8,776.3 1618.0,775.3 1618.3,775.1 1618.8,775.9 1619.0,776.4 1619.3,776.4 1619.8,776.5 1620.0,776.4 1620.3,777.4 1620.8,777.2 1621.0,776.7 1622.0,777.2 1623.0,777.2 1624.0,778.5 1625.0,778.9 1626.0,777.5 1627.0,778.4 1628.0,779.1 1629.0,778.9 1630.0,778.3 1631.0,778.4 1632.0,777.0 1633.0,779.1 1634.0,779.3 1635.0,778.5 1636.0,781.6 1637.0,775.9 1638.0,779.7 1639.0,778.9 1640.0,777.2 1641.0,777.0 1642.0,779.4 1643.0,778.7 1644.0,777.9 1645.0,778.2 1646.0,778.9 1647.0,779.0 1648.0,778.2 1649.0,777.8 1650.0,777.7 1651.0,779.2 1652.0,779.4 1653.0,777.0 1654.0,779.2 1655.0,778.9 1656.0,777.5 1657.0,776.0 1658.0,779.3 1659.0,777.7 1660.0,777.8 1661.0,777.6 1662.0,779.4 1663.0,778.1 1664.0,779.3 1665.0,781.0 1666.0,777.6 1667.0,778.9 1668.0,779.0 1669.0,777.9 1670.0,778.5 1671.0,779.4 1672.0,778.9 1673.0,777.9 1674.0,778.1 1675.0,778.3 1676.0,778.7 1677.0,780.9 1678.0,778.3 1679.0,779.1 1680.0,777.9 1681.0,777.5 1682.0,778.5 1683.0,779.2 1684.0,778.7 1685.0,778.2 1686.0,778.4 1687.0,779.0 1688.0,778.8 1689.0,778.6 1690.0,777.0 1691.0,777.1 1692.0,777.3 1693.0,777.2 1694.0,777.1 1695.0,775.9 1696.0,776.7 1697.0,778.7 1698.0,778.2 1699.0,777.9 1700.0,778.1 1701.0,778.6 1702.0,778.0 1703.0,779.1 1704.0,778.8 1705.0,776.9 1706.0,778.0 1707.0,779.9 1708.0,778.2 1709.0,778.2 1710.0,778.9 1711.0,778.9 1712.0,778.6 1713.0,775.8 1714.0,779.7 1715.0,778.5 1716.0,779.9 1717.0,778.7 1718.0,779.2 1719.0,778.9 1720.0,779.6 1721.0,778.4 1722.0,780.1 1723.0,778.1 1724.0,779.2 1725.0,775.9 1726.0,778.3 1727.0,779.2 1728.0,777.9 1729.0,778.7 1730.0,778.6 1731.0,777.9 1732.0,780.0 1733.0,775.9 1734.0,777.6 1735.0,778.1 1736.0,780.7 1737.0,778.2 1738.0,780.3 1739.0,779.9 1740.0,779.1 1741.0,777.3 1742.0,779.6 1743.0,780.6 1744.0,779.3 1745.0,779.9 1746.0,778.5 1747.0,777.8 1748.0,779.8 1749.0,779.8 1750.0,778.6 1751.0,782.0 1752.0,779.4 1753.0,780.2 1754.0,780.3 1755.0,779.2 1756.0,781.9 1757.0,779.8 1758.0,780.0 1759.0,779.2 1760.0,779.7 1761.0,779.3 1762.0,779.5 1763.0,778.6 1764.0,779.9 1765.0,778.6 1766.0,779.7 1767.0,778.5 1768.0,779.5 1769.0,780.3 1770.0,779.5 1771.0,778.5 1772.0,778.9 1773.0,780.3 1774.0,778.5 1775.0,779.2 1776.0,776.2 1777.0,779.2 1778.0,778.7 1779.0,779.6 1780.0,780.5 1781.0,780.0 1782.0,781.7 1783.0,779.6 1784.0,779.9 1785.0,778.8 1786.0,781.4 1787.0,779.9 1788.0,781.9 1789.0,780.4 1790.0,777.9 1791.0,780.0 1792.0,779.2 1793.0,776.1 1794.0,779.5 1795.0,779.3 1796.0,781.3 1797.0,779.2 1798.0,782.0 1799.0,780.7 1800.0,779.5 1801.0,779.9 1802.0,779.6 1803.0,780.0 1804.0,779.1 1805.0,779.8 1806.0,779.9 1807.0,779.1 1808.0,780.5 1809.0,781.1 1810.0,780.8 1811.0,781.2 1812.0,782.0 1813.0,777.9 1814.0,780.1 1815.0,779.9 1816.0,779.7 1817.0,780.9 1818.0,780.7 1819.0,781.3 1820.0,779.7 1821.0,778.6 1822.0,780.3 1823.0,780.3 1824.0,779.5 1825.0,780.6 1826.0,780.7 1827.0,779.9 1828.0,780.8 1829.0,780.1 1830.0,780.1 1831.0,780.9 1832.0,780.9 1833.0,780.5 1834.0,780.7 1835.0,780.2 1836.0,781.1 1837.0,781.3 1838.0,782.0 1839.0,781.4 1840.0,778.2 1841.0,780.3 1842.0,780.3 1843.0,779.6 1844.0,779.4 1845.0,781.5 1846.0,781.1 1847.0,781.3 1848.0,782.0 1849.0,781.8 1850.0,782.2 1851.0,781.1 1852.0,781.1 1853.0,781.4 1854.0,780.4 1855.0,781.1 1856.0,779.3"/>
<polyline fill="none" stroke="#ff0000" stroke-width="7" stroke-linejoin="round" stroke-linecap="round" points="174.0,964.6 175.0,964.5 176.0,964.6 177.0,964.5 178.0,966.6 179.0,962.1 180.0,964.5 181.0,964.1 182.0,965.7 183.0,963.6 184.0,965.7 185.0,964.5 186.0,964.7 187.0,965.1 188.0,963.4 189.0,964.3 190.0,966.8 191.0,963.2 192.0,965.6 193.0,965.3 194.0,964.8 195.0,964.2 196.0,964.0 197.0,965.2 198.0,966.0 199.0,965.2 200.0,966.7 201.0,965.3 202.0,964.9 203.0,967.2 204.0,967.2 205.0,966.5 206.0,966.5 207.0,966.5 208.0,967.0 209.0,962.3 210.0,966.5 211.0,966.8 212.0,966.3 213.0,966.2 214.0,964.8 215.0,966.5 216.0,969.0 217.0,966.6 218.0,966.1 219.0,966.5 220.0,968.4 221.0,966.8 222.0,967.7 223.0,966.7 224.0,966.2 225.0,966.6 226.0,965.8 227.0,968.2 228.0,966.3 229.0,967.8 230.0,967.3 231.0,967.1 232.0,968.1 233.0,967.9 234.0,969.6 235.0,966.8 236.0,966.4 237.0,966.5 238.0,966.9 239.0,967.1 240.0,966.9 241.0,967.5 242.0,966.9 243.0,967.0 244.0,966.8 245.0,966.6 246.0,966.3 247.0,966.8 248.0,966.6 249.0,968.0 250.0,968.4 251.0,967.9 252.0,968.2 253.0,968.7 254.0,968.0 255.0,968.2 256.0,969.5 257.0,968.7 258.0,968.6 259.0,967.7 260.0,967.8 261.0,968.6 262.0,968.2 263.0,967.8 264.0,969.0 265.0,970.8 266.0,968.9 267.0,970.4 268.0,968.2 269.0,970.4 270.0,967.5 271.0,969.8 272.0,967.6 273.0,968.7 274.0,969.3 275.0,969.3 276.0,967.9 277.0,967.8 278.0,970.4 279.0,968.3 280.0,969.1 281.0,967.9 282.0,968.9 283.0,968.4 284.0,968.5 285.0,969.7 286.0,968.4 287.0,968.2 288.0,969.9 289.0,968.7 290.0,967.8 291.0,969.2 292.0,967.7 293.0,969.0 294.0,969.7 295.0,967.9 296.0,969.6 297.0,966.5 298.0,970.1 299.0,968.6 300.0,969.4 301.0,969.8 302.0,966.8 303.0,969.0 304.0,969.5 305.0,968.3 306.0,968.7 307.0,968.6 308.0,968.2 309.0,968.4 310.0,969.9 311.0,967.7 312.0,968.4 313.0,969.8 314.0,968.9 315.0,969.9 316.0,969.2 317.0,969.3 318.0,969.9 319.0,966.1 320.0,972.8 321.0,970.1 322.0,968.9 323.0,969.6 324.0,974.2 325.0,969.4 326.0,970.3 327.0,969.7 328.0,969.7 329.0,968.6 330.0,968.7 331.0,969.5 332.0,971.6 333.0,969.3 334.0,969.1 335.0,968.8 336.0,970.3 337.0,971.3 338.0,970.7 339.0,972.0 340.0,969.5 341.0,969.6 342.0,973.4 343.0,969.5 344.0,969.7 345.0,969.4 346.0,971.9 347.0,970.0 348.0,970.2 349.0,970.3 350.0,968.3 351.0,969.6 352.0,968.7 353.0,968.2 354.0,969.2 355.0,969.7 356.0,969.9 357.0,968.8 358.0,966.7 359.0,970.0 360.0,969.6 361.0,969.8 362.0,967.9 363.0,968.5 364.0,969.0 365.0,969.4 366.0,971.0 367.0,971.4 368.0,969.4 369.0,968.3 370.0,968.1 371.0,967.6 372.0,971.0 373.0,968.1 374.0,967.5 375.0,968.5 376.0,969.7 377.0,968.1 378.0,968.3 379.0,968.0 380.0,967.7 381.0,968.5 382.0,967.5 383.0,967.5 384.0,965.9 385.0,966.1 386.0,964.9 387.0,965.6 388.0,961.6 389.0,957.6 390.0,951.7 391.0,941.3 391.7,932.6 392.0,928.0 392.2,925.0 392.7,916.8 393.0,911.7 393.2,908.3 393.7,900.0 394.0,895.2 394.2,892.3 394.7,886.1 395.0,883.4 395.2,882.0 395.7,880.5 396.0,881.1 396.2,882.1 396.7,886.1 397.0,889.6 397.2,892.6 397.7,899.9 398.0,904.8 398.2,908.3 398.7,917.0 399.0,921.7 399.2,925.0 399.7,932.5 400.0,936.6 401.0,948.1 402.0,956.0 403.0,960.0 404.0,962.4 405.0,965.1 406.0,965.7 407.0,966.7 408.0,966.1 409.0,966.9 410.0,967.2 411.0,967.4 412.0,967.1 413.0,967.9 414.0,968.4 415.0,969.0 416.0,967.2 417.0,967.8 418.0,969.0 419.0,967.2 420.0,968.5 421.0,968.0 422.0,969.2 423.0,969.3 424.0,968.9 425.0,969.3 426.0,969.5 427.0,969.1 428.0,969.2 429.0,969.3 430.0,967.1 431.0,968.6 432.0,969.8 433.0,969.3 434.0,970.2 435.0,969.4 436.0,967.6 437.0,968.0 438.0,968.1 439.0,969.2 440.0,968.7 441.0,968.8 442.0,965.3 443.0,968.6 444.0,971.1 445.0,969.3 446.0,968.4 447.0,969.4 448.0,969.1 449.0,969.1 450.0,968.8 451.0,969.8 452.0,969.1 453.0,970.8 454.0,968.7 455.0,967.2 456.0,968.2 457.0,970.9 458.0,969.0 459.0,968.8 460.0,968.8 461.0,972.8 462.0,968.3 463.0,969.7 464.0,968.1 465.0,969.6 466.0,970.0 467.0,968.8 468.0,969.4 469.0,968.7 470.0,969.6 471.0,967.8 472.0,969.0 473.0,972.1 474.0,969.8 475.0,968.6 476.0,968.9 477.0,967.8 478.0,969.8 479.0,969.3 480.0,968.4 481.0,970.0 482.0,969.3 483.0,969.3 484.0,969.2 485.0,967.8 486.0,969.3 487.0,968.8 488.0,969.6 489.0,969.7 490.0,967.8 491.0,969.3 492.0,969.5 493.0,970.6 494.0,968.3 495.0,969.2 496.0,968.2 497.0,968.9 498.0,967.3 499.0,970.6 500.0,970.6 501.0,968.4 502.0,969.7 503.0,968.9 504.0,969.2 505.0,969.6 506.0,970.1 507.0,969.4 508.0,970.2 509.0,970.1 510.0,968.3 511.0,968.8 512.0,970.2 513.0,970.5 514.0,968.8 515.0,969.4 516.0,970.0 517.0,969.2 518.0,969.3 519.0,968.6 520.0,970.6 521.0,967.2 522.0,969.9 523.0,968.5 524.0,968.3 525.0,968.9 526.0,967.7 527.0,969.8 528.0,968.7 529.0,967.7 530.0,969.8 531.0,969.1 532.0,968.7 533.0,969.8 534.0,969.5 535.0,968.5 536.0,969.7 537.0,968.1 538.0,968.7 539.0,969.0 540.0,970.2 541.0,969.9 542.0,969.2 543.0,968.8 544.0,969.4 545.0,967.3 546.0,968.3 547.0,969.2 548.0,968.3 549.0,968.6 550.0,968.2 551.0,969.3 552.0,968.4 553.0,964.3 554.0,963.9 555.0,962.1 556.0,958.0 557.0,952.4 557.6,948.7 558.0,945.8 558.1,944.8 558.6,942.0 559.0,939.2 559.1,938.3 559.6,935.1 560.0,932.5 560.1,932.2 560.6,930.0 561.0,928.6 561.1,928.1 561.6,928.0 562.0,928.3 562.1,928.3 562.6,930.1 563.0,931.6 563.1,932.3 563.6,935.4 564.0,938.0 564.1,938.6 564.6,942.0 565.0,944.7 565.1,945.3 565.6,949.8 566.0,951.6 567.0,957.2 568.0,961.2 569.0,963.0 570.0,968.3 571.0,968.4 572.0,967.8 573.0,967.3 574.0,968.2 575.0,969.5 576.0,967.1 577.0,968.5 578.0,969.1 579.0,968.9 580.0,968.1 581.0,967.0 582.0,968.9 583.0,970.7 584.0,972.1 585.0,968.6 586.0,971.0 587.0,969.0 588.0,967.8 589.0,968.9 590.0,969.8 591.0,968.2 592.0,969.4 593.0,970.5 594.0,968.9 595.0,968.9 596.0,969.7 597.0,971.5 598.0,969.7 599.0,966.5 600.0,968.1 601.0,968.4 602.0,970.3 603.0,970.0 604.0,968.9 605.0,968.4 606.0,967.4 607.0,968.1 608.0,968.1 608.6,968.1 609.0,967.2 609.1,967.7 609.6,967.0 610.0,967.3 610.1,967.0 610.6,965.6 611.0,965.1 611.1,964.3 611.6,964.4 612.0,964.5 612.1,964.8 612.6,965.2 613.0,962.8 613.1,964.9 613.6,965.2 614.0,965.6 614.1,964.7 614.6,964.4 615.0,966.7 615.1,966.1 615.6,967.4 616.0,967.5 616.1,965.9 616.6,967.4 617.0,965.0 618.0,967.7 619.0,970.0 620.0,968.5 621.0,968.5 622.0,968.7 623.0,970.3 624.0,968.7 625.0,970.4 626.0,968.9 627.0,973.0 628.0,969.2 629.0,970.0 630.0,970.4 631.0,968.0 632.0,970.9 633.0,968.9 634.0,970.1 635.0,970.2 636.0,967.9 637.0,969.1 638.0,969.9 639.0,970.1 640.0,969.7 641.0,972.6 642.0,969.4 643.0,969.5 644.0,970.0 645.0,970.1 646.0,970.1 647.0,969.0 648.0,971.0 649.0,968.7 650.0,969.3 651.0,967.7 652.0,968.9 653.0,969.8 654.0,969.0 655.0,970.6 656.0,969.8 657.0,969.1 658.0,968.3 659.0,969.6 660.0,970.8 661.0,970.8 662.0,972.0 663.0,968.1 664.0,969.1 665.0,970.2 666.0,968.3 667.0,969.6 668.0,969.2 669.0,970.7 670.0,970.0 671.0,970.4 672.0,969.2 673.0,970.2 674.0,969.1 675.0,969.1 676.0,969.1 677.0,969.7 678.0,970.4 679.0,971.8 680.0,968.3 681.0,970.3 682.0,968.9 683.0,969.5 684.0,970.3 685.0,965.6 686.0,969.9 687.0,969.1 688.0,969.6 689.0,968.5 690.0,968.7 691.0,969.2 692.0,967.8 693.0,968.6 694.0,970.1 695.0,969.4 696.0,971.2 697.0,968.2 698.0,970.5 699.0,968.3 700.0,969.6 701.0,969.1 702.0,970.2 703.0,969.2 704.0,968.3 705.0,969.5 706.0,967.8 707.0,968.4 708.0,965.2 709.0,964.5 710.0,962.9 711.0,959.6 711.4,960.6 711.9,958.8 712.0,958.6 712.4,958.1 712.9,957.0 713.0,956.7 713.4,957.0 713.9,955.2 714.0,955.2 714.4,954.5 714.9,954.0 715.0,954.3 715.4,954.6 715.9,954.2 716.0,954.4 716.4,954.9 716.9,955.2 717.0,955.8 717.4,955.9 717.9,956.2 718.0,957.3 718.4,958.3 718.9,959.0 719.0,959.5 719.4,960.0 720.0,961.0 721.0,963.6 722.0,964.8 723.0,965.4 724.0,966.6 725.0,966.3 726.0,968.1 727.0,970.9 728.0,969.0 729.0,969.1 730.0,970.7 731.0,968.3 732.0,968.6 733.0,969.5 734.0,968.3 735.0,966.5 736.0,972.0 737.0,968.4 738.0,969.6 739.0,968.5 740.0,969.6 741.0,968.9 742.0,969.6 743.0,968.8 744.0,972.2 745.0,969.6 746.0,970.9 747.0,970.9 748.0,969.7 749.0,970.0 750.0,969.5 751.0,970.2 752.0,971.4 753.0,966.4 754.0,968.0 755.0,972.8 756.0,969.3 757.0,969.1 758.0,969.6 759.0,968.9 760.0,970.1 761.0,969.8 762.0,969.4 763.0,968.8 764.0,969.0 765.0,968.9 766.0,969.1 767.0,969.4 768.0,970.0 769.0,969.3 770.0,967.3 771.0,970.5 772.0,968.8 773.0,969.4 774.0,969.4 775.0,968.9 776.0,969.5 777.0,967.9 778.0,970.1 779.0,968.7 780.0,967.8 781.0,966.5 782.0,968.6 783.0,967.4 784.0,968.8 785.0,968.4 786.0,965.3 787.0,966.0 788.0,963.7 789.0,963.3 790.0,960.6 791.0,957.8 792.0,953.9 792.2,953.2 792.7,951.6 793.0,950.6 793.2,949.9 793.7,948.4 794.0,947.1 794.2,946.7 794.7,945.7 795.0,944.8 795.2,944.6 795.7,943.8 796.0,943.4 796.2,943.5 796.7,944.0 797.0,944.4 797.2,944.9 797.7,945.5 798.0,946.3 798.2,946.8 798.7,948.2 799.0,949.0 799.2,949.8 799.7,951.3 800.0,952.9 800.2,953.4 801.0,956.0 802.0,959.2 803.0,961.8 804.0,964.1 805.0,965.1 806.0,965.9 807.0,967.4 808.0,968.6 809.0,968.1 810.0,968.8 811.0,969.0 812.0,969.4 813.0,969.9 814.0,969.3 815.0,970.8 816.0,969.0 817.0,968.9 818.0,970.8 819.0,970.3 820.0,970.5 821.0,968.7 822.0,972.8 823.0,971.0 824.0,970.1 825.0,969.7 826.0,969.3 827.0,967.9 828.0,969.4 829.0,969.4 830.0,969.0 831.0,968.0 832.0,968.9 833.0,969.7 834.0,968.2 835.0,969.6 836.0,969.3 837.0,969.1 838.0,969.2 839.0,970.0 840.0,969.7 841.0,970.2 842.0,967.7 843.0,969.4 844.0,969.4 845.0,969.2 846.0,970.9 847.0,969.8 848.0,968.9 849.0,972.2 850.0,968.5 851.0,969.2 852.0,968.4 853.0,968.6 854.0,968.5 855.0,967.7 856.0,966.8 857.0,965.6 857.5,965.8 858.0,965.8 858.5,966.8 859.0,966.1 859.5,965.0 860.0,965.3 860.5,964.9 861.0,965.3 861.5,963.6 862.0,964.7 862.5,965.6 863.0,964.2 863.5,968.8 864.0,965.9 864.5,967.5 865.0,967.4 866.0,965.5 867.0,968.8 868.0,967.2 869.0,968.6 870.0,969.5 871.0,968.9 872.0,969.2 873.0,969.6 874.0,969.1 875.0,968.5 876.0,970.2 877.0,968.7 878.0,969.8 879.0,968.6 880.0,967.7 881.0,969.0 882.0,969.5 883.0,971.3 884.0,970.1 885.0,971.0 886.0,969.4 887.0,968.7 888.0,969.3 889.0,968.6 890.0,970.2 891.0,969.9 892.0,966.9 893.0,968.3 894.0,966.3 895.0,969.2 896.0,969.7 897.0,967.9 898.0,969.5 899.0,970.1 900.0,970.0 901.0,969.4 902.0,966.8 903.0,970.5 904.0,969.0 905.0,970.4 906.0,970.0 907.0,969.4 908.0,969.8 909.0,969.7 910.0,969.5 911.0,969.6 912.0,968.9 913.0,969.1 914.0,969.7 915.0,969.7 916.0,968.8 917.0,968.5 918.0,969.1 919.0,969.4 920.0,969.0 921.0,968.5 922.0,969.4 923.0,968.2 924.0,969.9 925.0,968.2 926.0,969.5 927.0,968.8 928.0,967.7 929.0,966.9 930.0,964.9 931.0,964.6 932.0,961.4 933.0,957.2 934.0,953.8 935.0,949.3 936.0,942.6 936.6,938.8 937.0,936.2 937.1,935.5 937.6,932.2 938.0,929.8 938.1,929.3 938.6,926.4 939.0,924.3 939.1,923.9 939.6,922.4 940.0,921.1 940.1,921.0 940.6,920.7 941.0,921.1 941.1,921.2 941.6,922.3 942.0,923.6 942.1,924.1 942.6,926.2 943.0,928.5 943.1,929.0 943.6,932.4 944.0,935.0 944.1,935.5 944.6,938.7 945.0,941.4 946.0,947.6 947.0,953.2 948.0,957.6 949.0,961.6 950.0,965.5 951.0,965.8 952.0,966.4 953.0,965.9 954.0,968.5 955.0,969.4 956.0,968.3 957.0,969.8 958.0,968.6 959.0,969.5 960.0,968.7 961.0,966.4 962.0,970.0 963.0,969.2 964.0,968.4 965.0,968.7 966.0,968.0 967.0,969.3 968.0,969.5 969.0,968.0 970.0,969.8 971.0,968.4 972.0,969.7 973.0,969.5 974.0,968.5 975.0,969.2 976.0,969.5 977.0,968.3 978.0,970.3 979.0,970.3 980.0,969.8 981.0,969.9 982.0,970.0 983.0,971.7 984.0,970.0 985.0,970.8 986.0,970.4 987.0,970.7 988.0,969.2 989.0,970.3 990.0,969.3 991.0,969.8 992.0,969.9 993.0,970.6 994.0,969.9 995.0,970.6 996.0,969.2 997.0,968.0 998.0,967.1 999.0,971.7 1000.0,971.4 1001.0,970.0 1002.0,970.2 1003.0,971.0 1004.0,969.7 1005.0,968.4 1006.0,971.5 1007.0,971.0 1008.0,967.4 1009.0,968.9 1010.0,971.0 1011.0,969.7 1012.0,969.9 1013.0,969.2 1014.0,972.8 1015.0,970.3 1016.0,969.4 1017.0,970.2 1018.0,969.6 1019.0,969.7 1020.0,970.2 1021.0,969.0 1022.0,966.9 1023.0,970.0 1024.0,969.2 1025.0,970.3 1026.0,969.3 1027.0,969.2 1028.0,970.2 1029.0,968.7 1030.0,971.6 1031.0,969.2 1032.0,969.7 1033.0,969.7 1034.0,970.9 1035.0,970.1 1036.0,969.9 1037.0,970.0 1038.0,969.8 1039.0,966.4 1040.0,967.9 1041.0,969.6 1042.0,969.4 1043.0,970.2 1044.0,970.2 1045.0,968.6 1046.0,968.5 1047.0,968.5 1048.0,971.0 1049.0,971.8 1050.0,968.3 1051.0,969.1 1052.0,967.8 1053.0,966.3 1054.0,965.6 1055.0,964.9 1055.5,965.5 1056.0,964.7 1056.5,962.8 1057.0,962.7 1057.5,962.7 1058.0,962.9 1058.5,960.6 1059.0,962.3 1059.5,961.5 1060.0,962.7 1060.5,962.2 1061.0,962.8 1061.5,963.4 1062.0,963.2 1062.5,964.9 1063.0,964.1 1063.5,963.9 1064.0,964.5 1065.0,966.9 1066.0,964.3 1067.0,968.3 1068.0,968.1 1069.0,971.0 1070.0,968.8 1071.0,968.9 1072.0,968.1 1073.0,969.6 1074.0,969.6 1075.0,971.1 1076.0,971.0 1077.0,969.2 1078.0,969.3 1079.0,969.0 1080.0,969.3 1081.0,970.2 1082.0,970.1 1083.0,969.2 1084.0,970.2 1085.0,969.3 1086.0,968.7 1087.0,969.4 1088.0,967.8 1089.0,970.6 1090.0,971.5 1091.0,969.6 1092.0,970.6 1093.0,969.4 1094.0,970.6 1095.0,969.3 1096.0,970.2 1097.0,970.2 1098.0,969.5 1099.0,971.2 1100.0,969.7 1101.0,970.5 1102.0,969.9 1103.0,969.2 1104.0,969.7 1105.0,970.1 1106.0,970.7 1107.0,969.6 1108.0,970.2 1109.0,969.3 1110.0,970.2 1111.0,970.0 1112.0,966.5 1113.0,970.3 1114.0,968.6 1115.0,970.7 1116.0,971.3 1117.0,968.9 1118.0,971.2 1119.0,970.1 1120.0,969.7 1121.0,969.6 1122.0,972.9 1123.0,969.8 1124.0,969.0 1125.0,969.0 1126.0,970.6 1127.0,970.3 1128.0,969.3 1129.0,969.1 1130.0,968.8 1131.0,969.1 1132.0,968.4 1133.0,970.0 1134.0,965.3 1135.0,968.7 1136.0,969.0 1137.0,967.1 1138.0,966.7 1139.0,965.3 1140.0,964.1 1141.0,961.9 1142.0,960.1 1143.0,957.6 1143.5,956.5 1144.0,955.5 1144.5,953.8 1145.0,953.9 1145.5,951.4 1146.0,951.1 1146.5,950.5 1147.0,950.3 1147.5,949.5 1148.0,950.0 1148.5,950.6 1149.0,950.9 1149.5,951.7 1150.0,952.9 1150.5,954.3 1151.0,955.7 1151.5,956.2 1152.0,957.3 1153.0,961.1 1154.0,962.4 1155.0,963.2 1156.0,965.1 1157.0,965.6 1158.0,966.0 1159.0,966.2 1160.0,969.0 1161.0,968.9 1162.0,969.0 1163.0,968.9 1164.0,968.2 1165.0,968.7 1166.0,969.3 1167.0,968.3 1168.0,969.5 1169.0,969.1 1170.0,969.4 1171.0,969.5 1172.0,969.6 1173.0,970.8 1174.0,970.5 1175.0,970.4 1176.0,971.5 1177.0,968.7 1178.0,966.8 1179.0,970.3 1180.0,969.0 1181.0,969.4 1182.0,969.6 1183.0,970.5 1184.0,970.0 1185.0,969.7 1186.0,971.7 1187.0,968.5 1188.0,964.9 1189.0,968.0 1190.0,968.9 1191.0,967.3 1192.0,965.5 1193.0,965.7 1194.0,964.9 1195.0,962.5 1196.0,960.8 1196.5,959.8 1197.0,958.7 1197.5,957.8 1198.0,957.6 1198.5,956.5 1199.0,955.9 1199.5,955.5 1200.0,955.3 1200.5,955.3 1201.0,955.7 1201.5,955.9 1202.0,955.8 1202.5,956.7 1203.0,957.9 1203.5,957.9 1204.0,959.3 1204.5,960.3 1205.0,960.2 1206.0,962.8 1207.0,963.9 1208.0,965.8 1209.0,965.8 1210.0,968.7 1211.0,968.3 1212.0,968.8 1213.0,971.0 1214.0,966.9 1215.0,968.8 1216.0,967.4 1217.0,968.8 1218.0,969.6 1219.0,969.7 1220.0,969.4 1221.0,967.2 1222.0,968.6 1223.0,969.1 1224.0,970.6 1225.0,969.3 1226.0,970.5 1227.0,969.8 1228.0,966.4 1229.0,970.9 1230.0,969.9 1231.0,969.6 1232.0,969.7 1233.0,969.5 1234.0,972.8 1235.0,968.8 1236.0,969.0 1237.0,969.0 1238.0,969.2 1239.0,968.6 1240.0,970.4 1241.0,969.6 1242.0,970.9 1243.0,969.4 1244.0,969.5 1245.0,970.3 1246.0,970.1 1247.0,970.4 1248.0,968.9 1249.0,970.1 1250.0,970.3 1251.0,968.2 1252.0,970.0 1253.0,969.3 1254.0,970.3 1255.0,973.0 1256.0,971.2 1257.0,967.9 1258.0,969.3 1259.0,970.2 1260.0,968.1 1261.0,968.5 1262.0,968.1 1263.0,969.9 1264.0,970.5 1265.0,968.9 1266.0,967.9 1267.0,969.2 1268.0,969.6 1269.0,969.6 1270.0,969.0 1271.0,969.6 1272.0,969.1 1273.0,970.2 1274.0,969.3 1275.0,969.3 1276.0,969.1 1277.0,969.0 1278.0,966.8 1279.0,967.2 1279.7,967.7 1280.0,967.4 1280.2,966.0 1280.7,966.6 1281.0,965.6 1281.2,969.3 1281.7,964.3 1282.0,965.0 1282.2,965.2 1282.7,964.7 1283.0,965.9 1283.2,965.2 1283.7,964.7 1284.0,967.0 1284.2,965.6 1284.7,964.7 1285.0,966.3 1285.2,965.6 1285.7,965.3 1286.0,966.6 1286.2,964.6 1286.7,965.7 1287.0,966.5 1287.2,967.1 1287.7,965.9 1288.0,966.9 1289.0,967.6 1290.0,970.8 1291.0,969.0 1292.0,969.5 1293.0,968.3 1294.0,967.5 1295.0,966.5 1296.0,969.2 1297.0,965.2 1298.0,966.9 1298.6,965.6 1299.0,965.9 1299.1,967.0 1299.6,965.9 1300.0,965.2 1300.1,964.3 1300.6,963.8 1301.0,964.1 1301.1,963.6 1301.6,963.8 1302.0,963.9 1302.1,962.9 1302.6,963.8 1303.0,963.0 1303.1,962.9 1303.6,963.8 1304.0,964.8 1304.1,964.0 1304.6,965.0 1305.0,964.8 1305.1,964.3 1305.6,965.4 1306.0,965.1 1306.1,966.7 1306.6,966.9 1307.0,964.8 1308.0,966.6 1309.0,965.2 1310.0,968.8 1311.0,969.0 1312.0,967.9 1313.0,968.7 1314.0,969.3 1315.0,969.9 1316.0,970.4 1317.0,969.7 1318.0,970.2 1319.0,971.7 1320.0,968.5 1321.0,967.9 1322.0,970.1 1323.0,968.5 1324.0,969.8 1325.0,970.9 1326.0,969.2 1327.0,969.5 1328.0,970.3 1329.0,970.7 1330.0,970.0 1331.0,969.6 1332.0,967.8 1333.0,970.0 1334.0,968.0 1335.0,971.4 1336.0,970.7 1337.0,970.0 1338.0,970.2 1339.0,973.1 1340.0,968.6 1341.0,969.0 1342.0,969.3 1343.0,971.2 1344.0,967.2 1345.0,969.5 1346.0,972.3 1347.0,969.7 1348.0,970.5 1349.0,972.5 1350.0,967.8 1351.0,969.9 1352.0,969.4 1353.0,970.0 1354.0,969.8 1355.0,966.3 1356.0,968.7 1357.0,972.4 1358.0,970.6 1359.0,970.6 1360.0,965.5 1361.0,970.0 1362.0,967.4 1363.0,969.8 1364.0,971.7 1365.0,969.0 1366.0,969.3 1367.0,969.4 1368.0,970.6 1369.0,971.5 1370.0,970.8 1371.0,968.8 1372.0,970.8 1373.0,970.4 1374.0,970.3 1375.0,968.9 1376.0,971.7 1377.0,973.2 1378.0,969.4 1379.0,966.3 1380.0,970.4 1381.0,970.4 1382.0,970.5 1383.0,970.5 1384.0,968.7 1385.0,969.8 1386.0,969.9 1387.0,968.9 1388.0,970.1 1389.0,969.6 1390.0,967.7 1391.0,969.1 1392.0,965.9 1393.0,970.3 1394.0,969.7 1395.0,968.5 1396.0,970.8 1397.0,970.0 1398.0,972.3 1399.0,968.4 1400.0,969.3 1401.0,967.5 1402.0,970.4 1403.0,966.4 1404.0,967.7 1405.0,969.8 1406.0,969.1 1407.0,968.8 1408.0,968.0 1409.0,968.4 1410.0,969.1 1411.0,968.3 1412.0,969.4 1413.0,970.0 1414.0,967.6 1415.0,967.9 1416.0,968.1 1417.0,967.7 1418.0,968.9 1419.0,967.2 1420.0,966.6 1421.0,965.4 1422.0,965.3 1423.0,962.1 1424.0,960.3 1425.0,957.0 1426.0,954.0 1427.0,950.0 1427.2,949.4 1427.7,947.3 1428.0,946.4 1428.2,945.7 1428.7,944.0 1429.0,943.1 1429.2,942.5 1429.7,941.6 1430.0,940.7 1430.2,940.3 1430.7,939.7 1431.0,939.7 1431.2,939.7 1431.7,939.6 1432.0,939.9 1432.2,940.3 1432.7,941.0 1433.0,941.9 1433.2,942.1 1433.7,943.5 1434.0,944.1 1434.2,945.6 1434.7,947.1 1435.0,947.9 1435.2,949.0 1436.0,951.1 1437.0,954.3 1438.0,957.1 1439.0,959.0 1440.0,960.3 1441.0,961.4 1442.0,961.1 1443.0,960.0 1444.0,961.1 1445.0,960.0 1446.0,959.2 1446.5,959.2 1447.0,957.7 1447.5,957.1 1448.0,957.2 1448.5,957.2 1449.0,956.6 1449.5,957.5 1450.0,955.7 1450.5,956.0 1451.0,956.4 1451.5,956.8 1452.0,957.0 1452.5,957.5 1453.0,956.7 1453.5,957.7 1454.0,958.5 1454.5,959.6 1455.0,961.0 1456.0,961.3 1457.0,963.2 1458.0,963.9 1459.0,965.5 1460.0,964.3 1461.0,967.3 1462.0,965.7 1463.0,966.0 1464.0,967.0 1465.0,964.4 1466.0,968.3 1467.0,971.3 1468.0,968.3 1469.0,967.7 1470.0,968.5 1471.0,965.8 1472.0,966.8 1473.0,966.5 1474.0,966.8 1475.0,964.7 1475.5,966.2 1476.0,965.4 1476.5,964.1 1477.0,964.5 1477.5,965.2 1478.0,964.0 1478.5,964.0 1479.0,963.8 1479.5,963.2 1480.0,962.1 1480.5,964.5 1481.0,965.4 1481.5,966.0 1482.0,964.1 1482.5,966.5 1483.0,965.5 1484.0,966.2 1485.0,967.3 1486.0,968.7 1487.0,969.4 1488.0,968.6 1489.0,967.9 1490.0,968.7 1491.0,969.5 1492.0,969.7 1493.0,968.9 1494.0,971.2 1495.0,970.6 1496.0,970.6 1497.0,971.4 1498.0,970.7 1499.0,970.6 1500.0,969.9 1501.0,970.1 1502.0,970.0 1503.0,971.1 1504.0,968.3 1505.0,968.7 1506.0,970.8 1507.0,970.0 1508.0,970.9 1509.0,969.3 1510.0,968.5 1511.0,969.0 1512.0,970.4 1513.0,970.3 1514.0,969.3 1515.0,971.0 1516.0,970.2 1517.0,971.3 1518.0,969.0 1519.0,968.7 1520.0,968.4 1521.0,969.9 1522.0,970.0 1523.0,972.1 1524.0,970.6 1525.0,968.9 1526.0,969.8 1527.0,969.3 1528.0,969.9 1529.0,970.1 1530.0,970.9 1531.0,973.6 1532.0,971.1 1533.0,971.0 1534.0,970.2 1535.0,970.8 1536.0,970.2 1537.0,970.1 1538.0,970.0 1539.0,968.5 1540.0,971.2 1541.0,970.7 1542.0,969.9 1543.0,970.3 1544.0,969.7 1545.0,970.0 1546.0,971.7 1547.0,969.3 1548.0,971.4 1549.0,970.0 1550.0,969.3 1551.0,969.6 1552.0,969.8 1553.0,970.1 1554.0,969.1 1555.0,969.2 1556.0,972.5 1557.0,972.9 1558.0,970.9 1559.0,971.2 1560.0,969.9 1561.0,970.0 1562.0,972.0 1563.0,969.6 1564.0,968.5 1565.0,969.8 1566.0,969.5 1567.0,967.8 1568.0,969.4 1569.0,969.0 1570.0,971.3 1571.0,969.8 1572.0,970.9 1573.0,970.7 1574.0,969.4 1575.0,969.6 1576.0,970.3 1577.0,968.4 1578.0,969.4 1579.0,970.4 1580.0,970.3 1581.0,972.1 1582.0,969.6 1583.0,969.9 1584.0,969.4 1585.0,969.7 1586.0,969.0 1587.0,970.5 1588.0,970.5 1589.0,965.7 1590.0,970.4 1591.0,969.2 1592.0,967.3 1593.0,971.2 1594.0,970.5 1595.0,970.8 1596.0,970.2 1597.0,970.5 1598.0,969.4 1599.0,968.9 1600.0,970.5 1601.0,969.7 1602.0,969.0 1603.0,969.6 1604.0,969.7 1605.0,969.1 1606.0,969.3 1607.0,971.3 1608.0,970.4 1609.0,970.4 1610.0,969.8 1611.0,968.5 1612.0,970.5 1613.0,971.1 1614.0,969.8 1615.0,969.5 1616.0,969.9 1617.0,970.5 1618.0,968.9 1619.0,969.6 1620.0,969.2 1621.0,970.2 1622.0,969.5 1623.0,970.3 1624.0,969.0 1625.0,970.2 1626.0,970.3 1627.0,969.4 1628.0,968.7 1629.0,967.7 1630.0,970.6 1631.0,968.7 1632.0,969.3 1633.0,972.7 1634.0,970.5 1635.0,970.9 1636.0,969.2 1637.0,969.7 1638.0,971.2 1639.0,970.1 1640.0,969.3 1641.0,968.9 1642.0,969.2 1643.0,970.5 1644.0,969.4 1645.0,970.7 1646.0,969.1 1647.0,969.3 1648.0,968.3 1649.0,969.2 1650.0,968.3 1651.0,970.3 1652.0,969.9 1653.0,968.3 1654.0,969.9 1655.0,969.9 1656.0,970.1 1657.0,969.7 1658.0,968.8 1659.0,968.9 1660.0,971.0 1661.0,970.8 1662.0,966.1 1663.0,970.4 1664.0,969.9 1665.0,970.1 1666.0,968.8 1667.0,970.4 1668.0,969.2 1669.0,971.9 1670.0,969.9 1671.0,970.4 1672.0,970.7 1673.0,970.1 1674.0,970.8 1675.0,969.2 1676.0,969.7 1677.0,970.0 1678.0,969.8 1679.0,970.9 1680.0,970.6 1681.0,970.5 1682.0,971.2 1683.0,967.8 1684.0,968.6 1685.0,971.4 1686.0,971.1 1687.0,973.6 1688.0,970.5 1689.0,970.3 1690.0,969.0 1691.0,967.2 1692.0,969.4 1693.0,971.4 1694.0,970.3 1695.0,971.8 1696.0,970.7 1697.0,969.6 1698.0,968.9 1699.0,970.1 1700.0,967.9 1701.0,969.8 1702.0,968.8 1703.0,970.3 1704.0,970.6 1705.0,970.2 1706.0,971.2 1707.0,970.5 1708.0,970.6 1709.0,970.9 1710.0,970.4 1711.0,969.0 1712.0,970.1 1713.0,972.7 1714.0,971.1 1715.0,969.4 1716.0,970.6 1717.0,970.3 1718.0,969.6 1719.0,969.6 1720.0,969.9 1721.0,970.9 1722.0,970.1 1723.0,969.5 1724.0,971.3 1725.0,970.4 1726.0,971.4 1727.0,971.4 1728.0,970.8 1729.0,971.7 1730.0,970.7 1731.0,970.2 1732.0,969.3 1733.0,970.9 1734.0,971.2 1735.0,974.0 1736.0,971.3 1737.0,970.5 1738.0,971.4 1739.0,971.8 1740.0,970.7 1741.0,971.8 1742.0,972.2 1743.0,971.9 1744.0,970.1 1745.0,970.8 1746.0,971.3 1747.0,968.5 1748.0,970.1 1749.0,971.2 1750.0,971.5 1751.0,970.9 1752.0,970.2 1753.0,973.6 1754.0,970.4 1755.0,972.0 1756.0,970.9 1757.0,969.1 1758.0,969.6 1759.0,967.6 1760.0,968.2 1761.0,970.3 1762.0,971.0 1763.0,970.6 1764.0,970.1 1765.0,973.3 1766.0,970.1 1767.0,970.8 1768.0,971.6 1769.0,970.8 1770.0,973.2 1771.0,970.5 1772.0,970.6 1773.0,971.5 1774.0,971.1 1775.0,971.5 1776.0,971.1 1777.0,971.1 1778.0,970.7 1779.0,970.3 1780.0,971.2 1781.0,972.1 1782.0,973.6 1783.0,970.9 1784.0,971.8 1785.0,972.5 1786.0,971.9 1787.0,972.2 1788.0,970.8 1789.0,971.2 1790.0,972.2 1791.0,972.7 1792.0,971.9 1793.0,972.2 1794.0,971.6 1795.0,973.3 1796.0,971.5 1797.0,973.6 1798.0,970.9 1799.0,972.0 1800.0,972.2 1801.0,969.7 1802.0,972.6 1803.0,971.3 1804.0,973.0 1805.0,973.0 1806.0,972.3 1807.0,973.7 1808.0,973.7 1809.0,971.2 1810.0,972.9 1811.0,973.6 1812.0,973.1 1813.0,973.2 1814.0,974.7 1815.0,971.3 1816.0,972.0 1817.0,973.5 1818.0,975.0 1819.0,973.1 1820.0,975.6 1821.0,973.3 1822.0,973.2 1823.0,972.5 1824.0,971.7 1825.0,971.6 1826.0,968.2 1827.0,971.6 1828.0,970.3 1829.0,970.0 1830.0,970.2 1831.0,968.7 1831.5,968.8 1832.0,967.1 1832.5,965.8 1833.0,967.1 1833.5,967.1 1834.0,965.6 1834.5,965.9 1835.0,966.2 1835.5,967.3 1836.0,966.7 1836.5,967.6 1837.0,966.7 1837.5,967.3 1838.0,967.3 1838.5,968.4 1839.0,968.5 1840.0,971.8 1841.0,970.4 1842.0,972.0 1843.0,971.5 1844.0,971.9 1845.0,973.4 1846.0,973.8 1847.0,973.1 1848.0,973.7 1849.0,974.3 1850.0,973.3 1851.0,974.2 1852.0,974.5 1853.0,974.8 1854.0,974.9 1855.0,973.3 1856.0,975.4"/>
<polyline fill="none" stroke="#808080" stroke-width="8.5" stroke-linejoin="round" stroke-linecap="round" points="174.0,1132.4 175.0,1133.7 176.0,1132.0 177.0,1133.7 178.0,1133.8 179.0,1133.2 180.0,1133.2 181.0,1132.6 182.0,1133.3 183.0,1135.2 184.0,1134.4 185.0,1133.7 186.0,1133.7 187.0,1134.4 188.0,1133.2 189.0,1134.5 190.0,1133.8 191.0,1134.2 192.0,1134.2 193.0,1133.0 194.0,1136.7 195.0,1136.7 196.0,1134.9 197.0,1133.2 198.0,1135.4 199.0,1135.0 200.0,1133.2 201.0,1133.7 202.0,1134.2 203.0,1135.6 204.0,1133.8 205.0,1130.9 206.0,1131.9 207.0,1137.7 208.0,1134.5 209.0,1131.3 210.0,1135.4 211.0,1138.6 212.0,1132.2 213.0,1135.4 214.0,1136.1 215.0,1133.0 216.0,1135.0 217.0,1135.6 218.0,1136.1 219.0,1136.2 220.0,1135.0 221.0,1136.5 222.0,1134.9 223.0,1134.5 224.0,1137.5 225.0,1135.7 226.0,1136.0 227.0,1135.5 228.0,1135.7 229.0,1136.4 230.0,1136.7 231.0,1133.3 232.0,1136.4 233.0,1136.2 234.0,1136.3 235.0,1135.8 236.0,1135.4 237.0,1137.1 238.0,1133.5 239.0,1135.5 240.0,1137.2 241.0,1135.8 242.0,1136.7 243.0,1132.6 244.0,1136.7 245.0,1137.2 246.0,1140.4 247.0,1137.8 248.0,1138.2 249.0,1135.5 250.0,1134.2 251.0,1136.6 252.0,1139.2 253.0,1138.6 254.0,1137.1 255.0,1137.3 256.0,1137.6 257.0,1137.8 258.0,1137.0 259.0,1138.0 260.0,1137.0 261.0,1138.3 262.0,1137.9 263.0,1137.1 264.0,1138.2 265.0,1137.8 266.0,1137.1 267.0,1136.1 268.0,1135.0 269.0,1137.5 270.0,1135.7 271.0,1136.5 272.0,1138.1 273.0,1138.7 274.0,1133.0 275.0,1138.6 276.0,1136.9 277.0,1137.0 278.0,1137.1 279.0,1138.0 280.0,1138.9 281.0,1138.4 282.0,1137.6 283.0,1138.5 284.0,1137.7 285.0,1137.5 286.0,1137.8 287.0,1138.5 288.0,1140.0 289.0,1137.7 290.0,1137.5 291.0,1136.4 292.0,1138.9 293.0,1136.8 294.0,1138.0 295.0,1142.0 296.0,1138.6 297.0,1136.7 298.0,1137.3 299.0,1138.3 300.0,1136.2 301.0,1139.2 302.0,1136.4 303.0,1137.5 304.0,1135.8 305.0,1138.6 306.0,1138.5 307.0,1137.5 308.0,1138.1 309.0,1138.6 310.0,1138.7 311.0,1136.5 312.0,1138.2 313.0,1136.1 314.0,1138.6 315.0,1138.4 316.0,1138.6 317.0,1137.6 318.0,1137.5 319.0,1138.6 320.0,1138.3 321.0,1138.1 322.0,1137.2 323.0,1138.7 324.0,1140.0 325.0,1138.1 326.0,1140.5 327.0,1138.7 328.0,1136.2 329.0,1138.6 330.0,1137.9 331.0,1139.4 332.0,1140.3 333.0,1138.2 334.0,1138.1 335.0,1138.1 336.0,1136.1 337.0,1137.5 338.0,1138.4 339.0,1140.1 340.0,1139.4 341.0,1137.5 342.0,1138.2 343.0,1138.4 344.0,1138.1 345.0,1137.5 346.0,1139.8 347.0,1138.1 348.0,1137.9 349.0,1139.1 350.0,1138.2 351.0,1138.5 352.0,1137.5 353.0,1135.4 354.0,1135.9 355.0,1137.4 356.0,1138.8 357.0,1139.8 358.0,1136.9 359.0,1137.1 360.0,1137.5 361.0,1138.2 362.0,1138.7 363.0,1138.2 364.0,1137.1 365.0,1136.8 366.0,1136.8 367.0,1136.6 368.0,1135.9 369.0,1138.2 370.0,1137.6 371.0,1138.5 372.0,1137.4 373.0,1139.0 374.0,1136.5 375.0,1138.9 376.0,1138.8 377.0,1139.1 378.0,1137.5 379.0,1138.6 380.0,1138.5 381.0,1137.0 382.0,1136.1 383.0,1138.8 384.0,1137.9 385.0,1138.0 386.0,1137.7 387.0,1138.7 388.0,1138.2 389.0,1139.7 390.0,1137.2 391.0,1134.9 392.0,1137.8 393.0,1138.8 394.0,1138.4 395.0,1137.1 396.0,1138.5 397.0,1137.3 398.0,1139.4 399.0,1137.5 400.0,1137.0 401.0,1137.1 402.0,1138.9 403.0,1139.5 404.0,1138.5 405.0,1136.6 406.0,1138.8 407.0,1138.8 408.0,1138.2 409.0,1137.3 410.0,1137.4 411.0,1139.6 412.0,1136.0 413.0,1137.1 414.0,1138.4 415.0,1141.7 416.0,1137.8 417.0,1136.9 418.0,1138.8 419.0,1137.4 420.0,1137.4 421.0,1139.2 422.0,1137.1 423.0,1139.4 424.0,1139.5 425.0,1138.2 426.0,1137.3 427.0,1137.2 428.0,1136.8 429.0,1136.8 430.0,1137.5 431.0,1138.3 432.0,1137.7 433.0,1138.2 434.0,1137.4 435.0,1139.2 436.0,1138.3 437.0,1136.5 438.0,1137.2 439.0,1139.1 440.0,1137.4 441.0,1138.9 442.0,1133.9 443.0,1134.9 444.0,1138.5 445.0,1136.9 446.0,1138.6 447.0,1136.7 448.0,1139.3 449.0,1136.1 450.0,1136.0 451.0,1136.5 452.0,1137.9 453.0,1138.0 454.0,1138.5 455.0,1135.0 456.0,1137.5 457.0,1137.5 458.0,1138.1 459.0,1136.9 460.0,1137.8 461.0,1137.3 462.0,1138.5 463.0,1137.8 464.0,1134.9 465.0,1136.4 466.0,1138.4 467.0,1138.0 468.0,1138.5 469.0,1137.0 470.0,1137.8 471.0,1137.2 472.0,1137.1 473.0,1137.9 474.0,1136.9 475.0,1137.9 476.0,1137.7 477.0,1137.6 478.0,1137.0 479.0,1137.8 480.0,1139.6 481.0,1136.9 482.0,1137.2 483.0,1138.1 484.0,1137.3 485.0,1137.2 486.0,1139.0 487.0,1137.3 488.0,1135.8 489.0,1135.0 490.0,1137.6 491.0,1137.5 492.0,1137.2 493.0,1138.1 494.0,1137.5 495.0,1136.3 496.0,1138.4 497.0,1137.7 498.0,1138.3 499.0,1134.7 500.0,1136.6 501.0,1137.6 502.0,1136.5 503.0,1137.6 504.0,1138.5 505.0,1137.8 506.0,1137.4 507.0,1134.5 508.0,1138.6 509.0,1137.6 510.0,1137.1 511.0,1137.1 512.0,1136.8 513.0,1138.6 514.0,1138.2 515.0,1136.9 516.0,1137.1 517.0,1139.0 518.0,1138.0 519.0,1138.7 520.0,1136.6 521.0,1137.2 522.0,1137.8 523.0,1136.4 524.0,1136.0 525.0,1138.3 526.0,1137.7 527.0,1137.0 528.0,1134.1 529.0,1137.9 530.0,1135.3 531.0,1136.7 532.0,1137.4 533.0,1137.4 534.0,1135.8 535.0,1138.1 536.0,1137.2 537.0,1137.4 538.0,1137.8 539.0,1138.7 540.0,1136.6 541.0,1138.7 542.0,1137.1 543.0,1137.2 544.0,1136.5 545.0,1136.8 546.0,1137.8 547.0,1136.8 548.0,1137.4 549.0,1135.9 550.0,1137.4 551.0,1137.9 552.0,1136.2 553.0,1135.2 554.0,1137.1 555.0,1135.8 556.0,1138.0 557.0,1137.6 558.0,1138.1 559.0,1137.0 560.0,1136.0 561.0,1137.7 562.0,1137.8 563.0,1137.3 564.0,1137.1 565.0,1135.0 566.0,1137.5 567.0,1137.9 568.0,1133.8 569.0,1137.4 570.0,1138.2 571.0,1136.9 572.0,1135.8 573.0,1132.7 574.0,1136.9 575.0,1137.7 576.0,1139.0 577.0,1136.6 578.0,1136.9 579.0,1136.7 580.0,1136.6 581.0,1136.9 582.0,1133.7 583.0,1138.7 584.0,1137.1 585.0,1135.9 586.0,1138.4 587.0,1138.8 588.0,1137.4 589.0,1134.3 590.0,1136.4 591.0,1136.3 592.0,1136.1 593.0,1138.5 594.0,1137.0 595.0,1137.5 596.0,1136.3 597.0,1135.3 598.0,1135.5 599.0,1140.1 600.0,1136.6 601.0,1137.3 602.0,1137.6 603.0,1134.6 604.0,1136.4 605.0,1137.2 606.0,1137.0 607.0,1139.2 608.0,1136.7 609.0,1136.8 610.0,1136.6 611.0,1136.9 612.0,1135.9 613.0,1136.8 614.0,1135.9 615.0,1135.8 616.0,1136.0 617.0,1136.6 618.0,1138.6 619.0,1136.2 620.0,1137.1 621.0,1137.3 622.0,1135.0 623.0,1136.8 624.0,1139.3 625.0,1138.6 626.0,1136.9 627.0,1136.1 628.0,1135.5 629.0,1136.6 630.0,1135.5 631.0,1136.3 632.0,1136.2 633.0,1136.5 634.0,1134.2 635.0,1137.1 636.0,1136.3 637.0,1137.0 638.0,1135.2 639.0,1135.8 640.0,1135.7 641.0,1135.4 642.0,1136.4 643.0,1137.5 644.0,1135.4 645.0,1135.1 646.0,1137.9 647.0,1140.5 648.0,1136.8 649.0,1135.9 650.0,1136.7 651.0,1136.7 652.0,1135.0 653.0,1136.6 654.0,1135.8 655.0,1135.7 656.0,1135.8 657.0,1132.4 658.0,1139.4 659.0,1136.8 660.0,1136.9 661.0,1132.0 662.0,1134.1 663.0,1137.7 664.0,1135.5 665.0,1135.9 666.0,1136.0 667.0,1133.1 668.0,1137.1 669.0,1136.7 670.0,1139.9 671.0,1136.9 672.0,1135.3 673.0,1135.4 674.0,1137.0 675.0,1135.3 676.0,1136.5 677.0,1134.9 678.0,1134.3 679.0,1133.8 680.0,1135.5 681.0,1139.0 682.0,1133.3 683.0,1135.0 684.0,1135.0 685.0,1136.0 686.0,1135.9 687.0,1136.8 688.0,1134.6 689.0,1134.2 690.0,1135.4 691.0,1136.2 692.0,1136.0 693.0,1137.1 694.0,1137.0 695.0,1138.1 696.0,1135.6 697.0,1136.3 698.0,1135.8 699.0,1136.7 700.0,1135.3 701.0,1136.6 702.0,1136.3 703.0,1133.2 704.0,1135.7 705.0,1136.0 706.0,1134.8 707.0,1135.3 708.0,1135.6 709.0,1136.6 710.0,1135.8 711.0,1136.2 712.0,1136.5 713.0,1135.4 714.0,1135.2 715.0,1134.2 716.0,1136.0 717.0,1134.9 718.0,1137.1 719.0,1135.9 720.0,1132.1 721.0,1135.3 722.0,1135.1 723.0,1130.5 724.0,1134.3 725.0,1134.9 726.0,1134.9 727.0,1134.5 728.0,1133.3 729.0,1135.4 730.0,1136.0 731.0,1135.0 732.0,1134.2 733.0,1134.6 734.0,1135.5 735.0,1134.0 736.0,1138.5 737.0,1134.3 738.0,1135.2 739.0,1134.8 740.0,1136.9 741.0,1135.7 742.0,1131.3 743.0,1135.4 744.0,1134.1 745.0,1133.8 746.0,1135.6 747.0,1135.3 748.0,1136.0 749.0,1133.1 750.0,1138.4 751.0,1135.0 752.0,1135.4 753.0,1134.0 754.0,1131.4 755.0,1135.2 756.0,1135.9 757.0,1135.2 758.0,1135.8 759.0,1135.8 760.0,1134.4 761.0,1134.4 762.0,1135.3 763.0,1135.8 764.0,1134.7 765.0,1133.6 766.0,1134.0 767.0,1134.4 768.0,1134.8 769.0,1134.1 770.0,1134.2 771.0,1134.4 772.0,1134.6 773.0,1133.9 774.0,1133.2 775.0,1133.7 776.0,1134.8 777.0,1135.6 778.0,1136.2 779.0,1134.6 780.0,1132.7 781.0,1136.6 782.0,1133.6 783.0,1134.9 784.0,1133.5 785.0,1134.3 786.0,1133.2 787.0,1132.3 788.0,1134.5 789.0,1133.8 790.0,1133.6 791.0,1133.0 792.0,1134.1 793.0,1132.3 794.0,1132.6 795.0,1133.6 796.0,1134.0 797.0,1132.6 798.0,1132.9 799.0,1133.3 800.0,1133.0 801.0,1132.2 802.0,1132.0 803.0,1132.9 804.0,1131.3 805.0,1132.9 806.0,1132.1 807.0,1133.7 808.0,1132.0 809.0,1134.5 810.0,1133.8 811.0,1133.3 812.0,1132.1 813.0,1130.1 814.0,1131.3 815.0,1134.9 816.0,1134.6 817.0,1131.4 818.0,1133.1 819.0,1131.5 820.0,1133.8 821.0,1131.4 822.0,1131.8 823.0,1134.2 824.0,1132.3 825.0,1132.9 826.0,1134.1 827.0,1132.4 828.0,1133.0 829.0,1130.9 830.0,1133.9 831.0,1132.1 832.0,1132.3 833.0,1133.1 834.0,1131.8 835.0,1131.2 836.0,1130.7 837.0,1132.3 838.0,1132.1 839.0,1132.9 840.0,1132.3 841.0,1131.7 842.0,1131.5 843.0,1130.9 844.0,1132.1 845.0,1133.1 846.0,1131.3 847.0,1130.3 848.0,1131.8 849.0,1129.7 850.0,1131.9 851.0,1131.5 852.0,1131.5 853.0,1131.7 854.0,1131.5 855.0,1131.6 856.0,1131.3 857.0,1131.2 858.0,1130.8 859.0,1131.6 860.0,1130.9 861.0,1130.6 862.0,1131.6 863.0,1131.9 864.0,1130.7 865.0,1130.3 866.0,1131.6 867.0,1131.3 868.0,1130.8 869.0,1129.5 870.0,1131.2 871.0,1130.7 872.0,1131.0 873.0,1130.9 874.0,1129.4 875.0,1131.3 876.0,1132.1 877.0,1130.1 878.0,1129.6 879.0,1127.2 880.0,1130.9 881.0,1131.2 882.0,1130.5 883.0,1131.1 884.0,1130.3 885.0,1131.2 886.0,1130.1 887.0,1129.4 888.0,1131.7 889.0,1130.8 890.0,1129.3 891.0,1129.3 892.0,1129.6 893.0,1129.5 894.0,1129.8 895.0,1126.7 896.0,1130.0 897.0,1131.7 898.0,1130.7 899.0,1128.6 900.0,1129.4 901.0,1131.3 902.0,1134.0 903.0,1131.4 904.0,1129.9 905.0,1130.1 906.0,1130.2 907.0,1123.9 908.0,1130.2 909.0,1131.5 910.0,1127.8 911.0,1129.1 912.0,1129.7 913.0,1129.5 914.0,1126.9 915.0,1128.5 916.0,1130.1 917.0,1129.2 918.0,1129.4 919.0,1132.7 920.0,1130.0 921.0,1130.2 922.0,1128.8 923.0,1127.8 924.0,1130.6 925.0,1129.7 926.0,1130.2 927.0,1126.5 928.0,1129.9 929.0,1129.8 930.0,1127.9 931.0,1128.7 932.0,1129.6 933.0,1127.9 934.0,1128.4 935.0,1128.2 936.0,1129.4 937.0,1130.4 938.0,1128.9 939.0,1128.7 940.0,1129.2 941.0,1129.2 942.0,1127.7 943.0,1127.7 944.0,1129.4 945.0,1128.0 946.0,1128.1 947.0,1129.7 948.0,1127.9 949.0,1127.2 950.0,1126.1 951.0,1128.7 952.0,1127.2 953.0,1129.0 954.0,1130.3 955.0,1127.9 956.0,1128.4 957.0,1127.4 958.0,1127.7 959.0,1128.4 960.0,1128.7 961.0,1128.8 962.0,1128.6 963.0,1128.0 964.0,1124.7 965.0,1128.5 966.0,1128.7 967.0,1127.6 968.0,1126.3 969.0,1128.4 970.0,1132.2 971.0,1126.1 972.0,1129.0 973.0,1127.2 974.0,1129.7 975.0,1126.4 976.0,1126.3 977.0,1128.1 978.0,1129.2 979.0,1128.7 980.0,1127.5 981.0,1128.6 982.0,1129.0 983.0,1127.9 984.0,1129.8 985.0,1129.8 986.0,1128.9 987.0,1127.6 988.0,1128.3 989.0,1127.7 990.0,1128.6 991.0,1129.9 992.0,1130.4 993.0,1128.4 994.0,1129.9 995.0,1129.3 996.0,1127.6 997.0,1127.8 998.0,1129.1 999.0,1130.1 1000.0,1128.6 1001.0,1130.1 1002.0,1128.5 1003.0,1128.5 1004.0,1128.3 1005.0,1128.8 1006.0,1129.5 1007.0,1130.8 1008.0,1127.9 1009.0,1131.2 1010.0,1129.1 1011.0,1128.9 1012.0,1129.4 1013.0,1129.3 1014.0,1129.9 1015.0,1130.1 1016.0,1128.2 1017.0,1130.4 1018.0,1128.4 1019.0,1129.4 1020.0,1129.5 1021.0,1131.0 1022.0,1130.1 1023.0,1128.3 1024.0,1128.7 1025.0,1128.5 1026.0,1128.4 1027.0,1129.6 1028.0,1131.0 1029.0,1130.1 1030.0,1129.2 1031.0,1128.0 1032.0,1126.3 1033.0,1130.8 1034.0,1129.1 1035.0,1129.6 1036.0,1129.2 1037.0,1130.8 1038.0,1128.1 1039.0,1129.6 1040.0,1128.7 1041.0,1129.1 1042.0,1128.5 1043.0,1128.4 1044.0,1129.1 1045.0,1128.0 1046.0,1130.5 1047.0,1130.0 1048.0,1129.7 1049.0,1130.3 1050.0,1129.6 1051.0,1130.4 1052.0,1129.7 1053.0,1132.5 1054.0,1129.6 1055.0,1128.8 1056.0,1129.6 1057.0,1129.7 1058.0,1130.0 1059.0,1129.0 1060.0,1130.6 1061.0,1129.6 1062.0,1133.0 1063.0,1130.8 1064.0,1130.1 1065.0,1130.4 1066.0,1128.4 1067.0,1128.6 1068.0,1133.1 1069.0,1128.8 1070.0,1129.8 1071.0,1130.2 1072.0,1130.2 1073.0,1130.1 1074.0,1129.5 1075.0,1129.4 1076.0,1129.2 1077.0,1128.1 1078.0,1128.8 1079.0,1130.3 1080.0,1130.9 1081.0,1129.4 1082.0,1127.6 1083.0,1130.3 1084.0,1130.5 1085.0,1129.7 1086.0,1129.8 1087.0,1130.5 1088.0,1129.7 1089.0,1131.1 1090.0,1128.7 1091.0,1129.9 1092.0,1127.5 1093.0,1128.4 1094.0,1130.6 1095.0,1131.2 1096.0,1132.6 1097.0,1129.7 1098.0,1129.5 1099.0,1131.1 1100.0,1129.7 1101.0,1130.5 1102.0,1131.7 1103.0,1130.1 1104.0,1131.3 1105.0,1131.3 1106.0,1129.3 1107.0,1130.4 1108.0,1129.7 1109.0,1129.9 1110.0,1131.6 1111.0,1129.1 1112.0,1129.4 1113.0,1128.5 1114.0,1130.7 1115.0,1131.5 1116.0,1130.8 1117.0,1131.0 1118.0,1131.6 1119.0,1131.2 1120.0,1131.1 1121.0,1129.4 1122.0,1133.4 1123.0,1130.8 1124.0,1132.0 1125.0,1130.6 1126.0,1130.8 1127.0,1131.6 1128.0,1130.1 1129.0,1130.9 1130.0,1129.7 1131.0,1131.8 1132.0,1127.9 1133.0,1130.5 1134.0,1129.8 1135.0,1129.4 1136.0,1132.2 1137.0,1131.7 1138.0,1130.4 1139.0,1131.8 1140.0,1130.4 1141.0,1130.8 1142.0,1130.0 1143.0,1130.5 1144.0,1129.6 1145.0,1130.7 1146.0,1131.5 1147.0,1131.6 1148.0,1131.2 1149.0,1130.3 1150.0,1131.4 1151.0,1131.9 1152.0,1131.6 1153.0,1129.1 1154.0,1131.8 1155.0,1131.2 1156.0,1132.2 1157.0,1130.3 1158.0,1132.3 1159.0,1130.9 1160.0,1132.5 1161.0,1131.0 1162.0,1132.9 1163.0,1131.0 1164.0,1132.3 1165.0,1131.8 1166.0,1132.1 1167.0,1135.6 1168.0,1129.1 1169.0,1130.2 1170.0,1131.6 1171.0,1132.7 1172.0,1128.4 1173.0,1133.7 1174.0,1132.8 1175.0,1136.2 1176.0,1133.3 1177.0,1131.0 1178.0,1131.0 1179.0,1132.2 1180.0,1132.0 1181.0,1133.4 1182.0,1132.2 1183.0,1132.0 1184.0,1132.9 1185.0,1131.6 1186.0,1128.7 1187.0,1133.0 1188.0,1133.0 1189.0,1134.1 1190.0,1130.9 1191.0,1132.3 1192.0,1132.2 1193.0,1132.8 1194.0,1131.8 1195.0,1132.9 1196.0,1132.5 1197.0,1132.6 1198.0,1133.1 1199.0,1132.2 1200.0,1132.4 1201.0,1130.7 1202.0,1132.1 1203.0,1132.3 1204.0,1132.6 1205.0,1131.1 1206.0,1134.3 1207.0,1133.0 1208.0,1134.3 1209.0,1133.8 1210.0,1133.4 1211.0,1132.7 1212.0,1136.7 1213.0,1134.3 1214.0,1132.5 1215.0,1132.4 1216.0,1132.8 1217.0,1133.2 1218.0,1132.2 1219.0,1132.1 1220.0,1133.6 1221.0,1132.9 1222.0,1132.7 1223.0,1132.8 1224.0,1133.9 1225.0,1134.0 1226.0,1134.4 1227.0,1133.9 1228.0,1133.7 1229.0,1135.8 1230.0,1133.8 1231.0,1134.5 1232.0,1132.8 1233.0,1133.9 1234.0,1132.4 1235.0,1134.6 1236.0,1133.9 1237.0,1133.8 1238.0,1133.7 1239.0,1134.8 1240.0,1131.6 1241.0,1133.5 1242.0,1131.8 1243.0,1133.6 1244.0,1134.5 1245.0,1134.6 1246.0,1133.0 1247.0,1134.7 1248.0,1133.5 1249.0,1133.9 1250.0,1134.5 1251.0,1134.4 1252.0,1131.4 1253.0,1131.1 1254.0,1136.6 1255.0,1133.4 1256.0,1135.6 1257.0,1134.1 1258.0,1131.9 1259.0,1134.6 1260.0,1132.3 1261.0,1135.2 1262.0,1134.1 1263.0,1133.7 1264.0,1133.7 1265.0,1136.6 1266.0,1133.2 1267.0,1135.0 1268.0,1135.1 1269.0,1135.1 1270.0,1135.2 1271.0,1133.8 1272.0,1132.9 1273.0,1133.4 1274.0,1134.0 1275.0,1133.6 1276.0,1135.8 1277.0,1134.0 1278.0,1134.6 1279.0,1136.5 1280.0,1134.6 1281.0,1134.4 1282.0,1133.1 1283.0,1134.9 1284.0,1135.1 1285.0,1134.9 1286.0,1134.9 1287.0,1135.4 1288.0,1134.4 1289.0,1135.4 1290.0,1135.5 1291.0,1135.3 1292.0,1136.2 1293.0,1137.9 1294.0,1137.5 1295.0,1135.2 1296.0,1135.1 1297.0,1135.8 1298.0,1134.7 1299.0,1135.3 1300.0,1136.3 1301.0,1134.5 1302.0,1135.3 1303.0,1135.2 1304.0,1136.3 1305.0,1135.9 1306.0,1136.1 1307.0,1135.3 1308.0,1134.3 1309.0,1135.1 1310.0,1134.7 1311.0,1134.7 1312.0,1133.5 1313.0,1135.1 1314.0,1136.1 1315.0,1136.9 1316.0,1134.8 1317.0,1135.3 1318.0,1136.1 1319.0,1134.9 1320.0,1136.9 1321.0,1133.4 1322.0,1134.4 1323.0,1136.9 1324.0,1137.0 1325.0,1135.8 1326.0,1136.2 1327.0,1135.7 1328.0,1137.3 1329.0,1134.9 1330.0,1138.0 1331.0,1137.0 1332.0,1138.0 1333.0,1132.2 1334.0,1134.1 1335.0,1137.9 1336.0,1134.5 1337.0,1136.2 1338.0,1137.4 1339.0,1137.6 1340.0,1135.5 1341.0,1137.7 1342.0,1137.6 1343.0,1136.4 1344.0,1137.0 1345.0,1137.2 1346.0,1135.4 1347.0,1136.3 1348.0,1138.6 1349.0,1135.0 1350.0,1137.9 1351.0,1137.6 1352.0,1137.5 1353.0,1136.1 1354.0,1135.7 1355.0,1136.2 1356.0,1137.0 1357.0,1135.6 1358.0,1137.9 1359.0,1134.5 1360.0,1135.5 1361.0,1136.8 1362.0,1137.6 1363.0,1138.4 1364.0,1138.2 1365.0,1136.5 1366.0,1136.9 1367.0,1138.1 1368.0,1136.6 1369.0,1133.4 1370.0,1137.3 1371.0,1136.4 1372.0,1137.0 1373.0,1137.3 1374.0,1136.4 1375.0,1137.8 1376.0,1134.3 1377.0,1137.6 1378.0,1136.7 1379.0,1136.1 1380.0,1137.6 1381.0,1136.3 1382.0,1136.9 1383.0,1137.6 1384.0,1136.6 1385.0,1137.9 1386.0,1136.3 1387.0,1137.5 1388.0,1137.1 1389.0,1136.9 1390.0,1137.5 1391.0,1136.1 1392.0,1136.0 1393.0,1137.0 1394.0,1137.8 1395.0,1137.2 1396.0,1138.3 1397.0,1136.7 1398.0,1136.9 1399.0,1140.2 1400.0,1137.1 1401.0,1138.4 1402.0,1137.2 1403.0,1136.9 1404.0,1137.2 1405.0,1134.2 1406.0,1138.2 1407.0,1137.1 1408.0,1140.5 1409.0,1136.8 1410.0,1139.6 1411.0,1138.7 1412.0,1137.7 1413.0,1141.3 1414.0,1138.9 1415.0,1138.9 1416.0,1137.7 1417.0,1137.5 1418.0,1138.3 1419.0,1135.6 1420.0,1138.7 1421.0,1139.5 1422.0,1137.0 1423.0,1139.1 1424.0,1137.2 1425.0,1138.6 1426.0,1138.0 1427.0,1138.3 1428.0,1138.8 1429.0,1139.2 1430.0,1138.1 1431.0,1133.2 1432.0,1138.0 1433.0,1138.2 1434.0,1137.9 1435.0,1138.6 1436.0,1136.3 1437.0,1137.9 1438.0,1138.8 1439.0,1137.6 1440.0,1139.4 1441.0,1138.3 1442.0,1137.7 1443.0,1139.2 1444.0,1138.3 1445.0,1139.7 1446.0,1138.3 1447.0,1139.3 1448.0,1137.4 1449.0,1138.0 1450.0,1138.8 1451.0,1139.5 1452.0,1137.5 1453.0,1138.1 1454.0,1137.8 1455.0,1138.1 1456.0,1138.6 1457.0,1138.8 1458.0,1139.5 1459.0,1137.9 1460.0,1138.4 1461.0,1139.6 1462.0,1138.7 1463.0,1138.8 1464.0,1138.3 1465.0,1138.4 1466.0,1139.2 1467.0,1138.1 1468.0,1139.5 1469.0,1138.3 1470.0,1139.6 1471.0,1137.9 1472.0,1139.2 1473.0,1138.7 1474.0,1139.9 1475.0,1139.9 1476.0,1138.7 1477.0,1136.3 1478.0,1138.8 1479.0,1139.2 1480.0,1139.1 1481.0,1138.4 1482.0,1140.7 1483.0,1137.9 1484.0,1139.4 1485.0,1139.0 1486.0,1139.8 1487.0,1140.9 1488.0,1140.4 1489.0,1140.5 1490.0,1138.7 1491.0,1140.2 1492.0,1138.9 1493.0,1140.3 1494.0,1138.6 1495.0,1139.4 1496.0,1138.6 1497.0,1140.1 1498.0,1138.6 1499.0,1140.9 1500.0,1138.7 1501.0,1137.1 1502.0,1140.4 1503.0,1140.2 1504.0,1139.9 1505.0,1140.4 1506.0,1140.0 1507.0,1137.7 1508.0,1137.9 1509.0,1138.8 1510.0,1134.6 1511.0,1137.5 1512.0,1138.8 1513.0,1138.5 1514.0,1139.0 1515.0,1139.1 1516.0,1139.3 1517.0,1140.4 1518.0,1139.2 1519.0,1140.6 1520.0,1139.8 1521.0,1140.1 1522.0,1140.0 1523.0,1139.7 1524.0,1137.9 1525.0,1137.8 1526.0,1139.7 1527.0,1140.0 1528.0,1138.8 1529.0,1139.4 1530.0,1139.2 1531.0,1139.8 1532.0,1141.7 1533.0,1138.6 1534.0,1141.0 1535.0,1140.2 1536.0,1139.1 1537.0,1140.0 1538.0,1140.2 1539.0,1141.1 1540.0,1138.3 1541.0,1139.0 1542.0,1140.8 1543.0,1139.3 1544.0,1140.5 1545.0,1140.0 1546.0,1137.3 1547.0,1140.1 1548.0,1139.6 1549.0,1138.7 1550.0,1139.4 1551.0,1140.3 1552.0,1141.7 1553.0,1139.1 1554.0,1140.5 1555.0,1142.9 1556.0,1140.8 1557.0,1139.4 1558.0,1140.1 1559.0,1140.6 1560.0,1140.4 1561.0,1140.8 1562.0,1143.0 1563.0,1140.7 1564.0,1142.2 1565.0,1140.7 1566.0,1139.8 1567.0,1140.6 1568.0,1141.1 1569.0,1140.1 1570.0,1140.1 1571.0,1140.7 1572.0,1140.4 1573.0,1140.4 1574.0,1143.7 1575.0,1139.2 1576.0,1140.7 1577.0,1141.0 1578.0,1139.1 1579.0,1141.3 1580.0,1140.4 1581.0,1140.0 1582.0,1141.4 1583.0,1140.8 1584.0,1140.1 1585.0,1140.8 1586.0,1142.6 1587.0,1140.1 1588.0,1140.8 1589.0,1140.8 1590.0,1140.4 1591.0,1140.6 1592.0,1141.7 1593.0,1142.1 1594.0,1140.1 1595.0,1139.9 1596.0,1141.3 1597.0,1140.9 1598.0,1142.8 1599.0,1140.0 1600.0,1137.4 1601.0,1139.3 1602.0,1140.7 1603.0,1140.2 1604.0,1140.4 1605.0,1140.1 1606.0,1138.1 1607.0,1139.2 1608.0,1140.3 1609.0,1142.1 1610.0,1141.7 1611.0,1141.1 1612.0,1140.8 1613.0,1143.6 1614.0,1140.8 1615.0,1141.3 1616.0,1140.0 1617.0,1139.8 1618.0,1141.2 1619.0,1139.5 1620.0,1140.4 1621.0,1140.5 1622.0,1140.1 1623.0,1140.7 1624.0,1140.6 1625.0,1141.2 1626.0,1140.6 1627.0,1140.6 1628.0,1140.2 1629.0,1140.7 1630.0,1139.7 1631.0,1141.3 1632.0,1138.6 1633.0,1139.1 1634.0,1141.0 1635.0,1140.8 1636.0,1140.8 1637.0,1142.2 1638.0,1142.0 1639.0,1142.3 1640.0,1139.1 1641.0,1141.3 1642.0,1141.3 1643.0,1145.0 1644.0,1140.7 1645.0,1140.4 1646.0,1143.4 1647.0,1139.1 1648.0,1144.7 1649.0,1143.6 1650.0,1142.0 1651.0,1140.4 1652.0,1141.6 1653.0,1140.3 1654.0,1141.1 1655.0,1142.4 1656.0,1146.7 1657.0,1140.6 1658.0,1141.6 1659.0,1144.3 1660.0,1141.8 1661.0,1140.9 1662.0,1140.5 1663.0,1141.2 1664.0,1141.9 1665.0,1141.1 1666.0,1140.7 1667.0,1143.6 1668.0,1143.6 1669.0,1141.6 1670.0,1139.0 1671.0,1141.2 1672.0,1139.1 1673.0,1140.6 1674.0,1141.9 1675.0,1141.2 1676.0,1141.2 1677.0,1140.5 1678.0,1141.2 1679.0,1142.2 1680.0,1141.1 1681.0,1139.7 1682.0,1142.0 1683.0,1140.3 1684.0,1140.6 1685.0,1140.9 1686.0,1140.6 1687.0,1142.8 1688.0,1142.7 1689.0,1141.7 1690.0,1139.3 1691.0,1141.3 1692.0,1140.7 1693.0,1142.3 1694.0,1140.9 1695.0,1141.3 1696.0,1140.5 1697.0,1140.7 1698.0,1140.9 1699.0,1141.1 1700.0,1140.3 1701.0,1141.6 1702.0,1142.6 1703.0,1140.7 1704.0,1139.7 1705.0,1145.1 1706.0,1141.7 1707.0,1141.4 1708.0,1141.7 1709.0,1140.4 1710.0,1142.1 1711.0,1142.2 1712.0,1141.7 1713.0,1141.4 1714.0,1141.7 1715.0,1139.7 1716.0,1141.3 1717.0,1142.2 1718.0,1140.1 1719.0,1142.2 1720.0,1142.1 1721.0,1141.7 1722.0,1141.5 1723.0,1139.7 1724.0,1140.5 1725.0,1144.4 1726.0,1142.7 1727.0,1138.9 1728.0,1142.9 1729.0,1142.7 1730.0,1142.4 1731.0,1140.6 1732.0,1141.9 1733.0,1142.5 1734.0,1142.3 1735.0,1140.3 1736.0,1141.5 1737.0,1144.9 1738.0,1140.9 1739.0,1142.5 1740.0,1141.0 1741.0,1141.0 1742.0,1142.1 1743.0,1142.7 1744.0,1142.5 1745.0,1143.5 1746.0,1141.2 1747.0,1142.1 1748.0,1143.7 1749.0,1142.7 1750.0,1142.8 1751.0,1141.4 1752.0,1141.5 1753.0,1143.2 1754.0,1142.2 1755.0,1142.0 1756.0,1142.3 1757.0,1140.6 1758.0,1141.4 1759.0,1140.8 1760.0,1141.9 1761.0,1143.9 1762.0,1142.0 1763.0,1141.9 1764.0,1138.1 1765.0,1140.8 1766.0,1141.6 1767.0,1141.8 1768.0,1142.7 1769.0,1141.0 1770.0,1142.3 1771.0,1142.9 1772.0,1141.6 1773.0,1142.5 1774.0,1143.0 1775.0,1141.8 1776.0,1144.9 1777.0,1142.0 1778.0,1142.0 1779.0,1141.8 1780.0,1141.8 1781.0,1141.5 1782.0,1141.5 1783.0,1141.4 1784.0,1140.7 1785.0,1140.5 1786.0,1143.3 1787.0,1141.2 1788.0,1142.7 1789.0,1141.2 1790.0,1141.8 1791.0,1140.0 1792.0,1142.2 1793.0,1141.5 1794.0,1140.6 1795.0,1141.0 1796.0,1143.2 1797.0,1142.1 1798.0,1142.7 1799.0,1140.6 1800.0,1140.4 1801.0,1141.2 1802.0,1143.1 1803.0,1138.3 1804.0,1140.9 1805.0,1142.7 1806.0,1142.0 1807.0,1143.4 1808.0,1143.1 1809.0,1142.8 1810.0,1140.4 1811.0,1147.2 1812.0,1142.6 1813.0,1142.8 1814.0,1141.8 1815.0,1141.5 1816.0,1142.3 1817.0,1141.2 1818.0,1142.1 1819.0,1144.3 1820.0,1141.8 1821.0,1141.4 1822.0,1139.6 1823.0,1141.6 1824.0,1141.1 1825.0,1144.4 1826.0,1143.0 1827.0,1141.8 1828.0,1142.6 1829.0,1144.2 1830.0,1141.6 1831.0,1142.1 1832.0,1140.9 1833.0,1140.9 1834.0,1142.9 1835.0,1143.4 1836.0,1142.8 1837.0,1141.7 1838.0,1146.2 1839.0,1140.6 1840.0,1140.0 1841.0,1141.3 1842.0,1141.7 1843.0,1143.1 1844.0,1142.6 1845.0,1143.2 1846.0,1143.2 1847.0,1141.1 1848.0,1142.5 1849.0,1141.9 1850.0,1145.1 1851.0,1140.1 1852.0,1144.5 1853.0,1141.3 1854.0,1142.2 1855.0,1141.7 1856.0,1141.2"/>
<line x1="388.7" y1="1143.7" x2="388.7" y2="1312" stroke="#000" stroke-width="9.5"/>
<line x1="553.2" y1="1262.4" x2="553.2" y2="1312" stroke="#000" stroke-width="9.5"/>
<line x1="608.6" y1="1263.4" x2="608.6" y2="1312" stroke="#000" stroke-width="9.5"/>
<line x1="704.8" y1="1210.5" x2="704.8" y2="1312" stroke="#000" stroke-width="9.5"/>
<line x1="797.9" y1="1262.3" x2="797.9" y2="1312" stroke="#000" stroke-width="9.5"/>
<line x1="923.9" y1="1180.3" x2="923.9" y2="1312" stroke="#000" stroke-width="9.5"/>
<line x1="1005.0" y1="1273.8" x2="1005.0" y2="1312" stroke="#000" stroke-width="9.5"/>
<line x1="1044.2" y1="1272.4" x2="1044.2" y2="1312" stroke="#000" stroke-width="9.5"/>
<line x1="1147.0" y1="1257.9" x2="1147.0" y2="1312" stroke="#000" stroke-width="9.5"/>
<line x1="1177.0" y1="1257.2" x2="1177.0" y2="1312" stroke="#000" stroke-width="9.5"/>
<line x1="1260.9" y1="1274.4" x2="1260.9" y2="1312" stroke="#000" stroke-width="9.5"/>
<line x1="1295.0" y1="1275.8" x2="1295.0" y2="1312" stroke="#000" stroke-width="9.5"/>
<line x1="1352.7" y1="1271.6" x2="1352.7" y2="1312" stroke="#000" stroke-width="9.5"/>
<line x1="1403.2" y1="1244.6" x2="1403.2" y2="1312" stroke="#000" stroke-width="9.5"/>
<line x1="1434.0" y1="1252.7" x2="1434.0" y2="1312" stroke="#000" stroke-width="9.5"/>
<line x1="1489.9" y1="1274.0" x2="1489.9" y2="1312" stroke="#000" stroke-width="9.5"/>
<line x1="1559.4" y1="1275.4" x2="1559.4" y2="1312" stroke="#000" stroke-width="9.5"/>
<line x1="1588.6" y1="1271.3" x2="1588.6" y2="1312" stroke="#000" stroke-width="9.5"/>
<line x1="1682.8" y1="1274.2" x2="1682.8" y2="1312" stroke="#000" stroke-width="9.5"/>
<line x1="1800.0" y1="1275.8" x2="1800.0" y2="1312" stroke="#000" stroke-width="9.5"/>
<line x1="1838.3" y1="1273.2" x2="1838.3" y2="1312" stroke="#000" stroke-width="9.5"/>
<rect x="172" y="18.4" width="1687.5" height="1295.9" fill="none" stroke="#000" stroke-width="10"/>
<line x1="172.0" y1="1314" x2="172.0" y2="1340.5" stroke="#000" stroke-width="10"/>
<line x1="413.1" y1="1314" x2="413.1" y2="1340.5" stroke="#000" stroke-width="10"/>
<line x1="654.1" y1="1314" x2="654.1" y2="1340.5" stroke="#000" stroke-width="10"/>
<line x1="895.2" y1="1314" x2="895.2" y2="1340.5" stroke="#000" stroke-width="10"/>
<line x1="1136.3" y1="1314" x2="1136.3" y2="1340.5" stroke="#000" stroke-width="10"/>
<line x1="1377.4" y1="1314" x2="1377.4" y2="1340.5" stroke="#000" stroke-width="10"/>
<line x1="1618.4" y1="1314" x2="1618.4" y2="1340.5" stroke="#000" stroke-width="10"/>
<line x1="1859.5" y1="1314" x2="1859.5" y2="1340.5" stroke="#000" stroke-width="10"/>
<line x1="292.5" y1="1314" x2="292.5" y2="1328" stroke="#000" stroke-width="9"/>
<line x1="533.6" y1="1314" x2="533.6" y2="1328" stroke="#000" stroke-width="9"/>
<line x1="774.7" y1="1314" x2="774.7" y2="1328" stroke="#000" stroke-width="9"/>
<line x1="1015.8" y1="1314" x2="1015.8" y2="1328" stroke="#000" stroke-width="9"/>
<line x1="1256.8" y1="1314" x2="1256.8" y2="1328" stroke="#000" stroke-width="9"/>
<line x1="1497.9" y1="1314" x2="1497.9" y2="1328" stroke="#000" stroke-width="9"/>
<line x1="1739.0" y1="1314" x2="1739.0" y2="1328" stroke="#000" stroke-width="9"/>
<text x="172.0" y="1413" font-family="Liberation Serif, serif" font-weight="bold" font-size="69" text-anchor="middle">5</text>
<text x="413.1" y="1413" font-family="Liberation Serif, serif" font-weight="bold" font-size="69" text-anchor="middle">10</text>
<text x="654.1" y="1413" font-family="Liberation Serif, serif" font-weight="bold" font-size="69" text-anchor="middle">15</text>
<text x="895.2" y="1413" font-family="Liberation Serif, serif" font-weight="bold" font-size="69" text-anchor="middle">20</text>
<text x="1136.3" y="1413" font-family="Liberation Serif, serif" font-weight="bold" font-size="69" text-anchor="middle">25</text>
<text x="1377.4" y="1413" font-family="Liberation Serif, serif" font-weight="bold" font-size="69" text-anchor="middle">30</text>
<text x="1618.4" y="1413" font-family="Liberation Serif, serif" font-weight="bold" font-size="69" text-anchor="middle">35</text>
<text x="1859.5" y="1413" font-family="Liberation Serif, serif" font-weight="bold" font-size="69" text-anchor="middle">40</text>
<text transform="matrix(0.9999 0 0 1.0123 642.30 1498.98)" font-family="Liberation Sans, Arial, sans-serif" font-weight="bold" font-size="87" xml:space="preserve">2 Theta  (degree)</text>
<text transform="translate(81.66 961.44) rotate(-90) scale(0.9904 1.0136)" font-family="Liberation Sans, Arial, sans-serif" font-weight="bold" font-size="88" xml:space="preserve">Intensity (a.u.)</text>
<text transform="matrix(0.9855 0 0 1.0043 1633.06 188.20)" font-family="Liberation Serif, Times New Roman, serif" font-weight="bold" font-size="70" xml:space="preserve">SP-1.0</text>
<text transform="matrix(0.9860 0 0 1.0174 1627.16 365.99)" font-family="Liberation Serif, Times New Roman, serif" font-weight="bold" font-size="70" xml:space="preserve">SP-0.8</text>
<text transform="matrix(0.9903 0 0 1.0196 1630.04 556.90)" font-family="Liberation Serif, Times New Roman, serif" font-weight="bold" font-size="70" xml:space="preserve">SP-0.6</text>
<text transform="matrix(0.9707 0 0 1.0109 1623.30 746.80)" font-family="Liberation Serif, Times New Roman, serif" font-weight="bold" font-size="70" xml:space="preserve">SP-0.4</text>
<text transform="matrix(0.9758 0 0 1.0087 1621.18 929.50)" font-family="Liberation Serif, Times New Roman, serif" font-weight="bold" font-size="70" xml:space="preserve">SP-0.2</text>
<text transform="matrix(0.9860 0 0 1.0239 1615.35 1099.31)" font-family="Liberation Serif, Times New Roman, serif" font-weight="bold" font-size="70" xml:space="preserve">SP-0.0</text>
<text transform="matrix(0.9693 0 0 0.9978 1421.83 1233.10)" font-family="Liberation Serif, Times New Roman, serif" font-weight="bold" font-size="70" xml:space="preserve">PDF#47-0168</text>
</svg>
</div></body></html>
